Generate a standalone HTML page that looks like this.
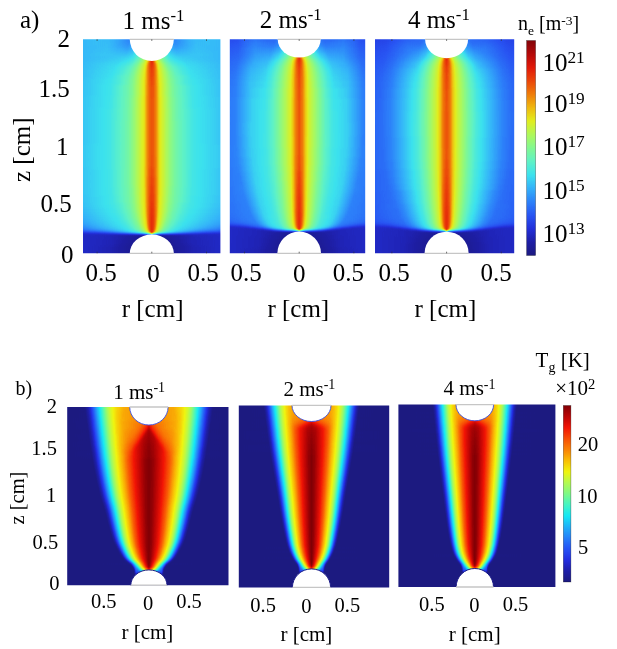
<!DOCTYPE html>
<html><head><meta charset="utf-8"><title>figure</title>
<style>html,body{margin:0;padding:0;background:#fff}svg{display:block}text{font-family:"Liberation Serif",serif;fill:#000}</style>
</head><body>
<svg width="617" height="649" viewBox="0 0 617 649">
<rect width="617" height="649" fill="#fff"/>
<defs>
<filter id="jetA" filterUnits="userSpaceOnUse" x="0" y="0" width="617" height="649" color-interpolation-filters="sRGB"><feGaussianBlur stdDeviation="0 .9"/><feComponentTransfer><feFuncR type="table" tableValues=".11 .118 .137 .157 .176 .204 .235 .373 .51 .686 .882 .941 .941 .922 .882 .706 .51"/><feFuncG type="table" tableValues=".102 .118 .188 .333 .51 .698 .886 .949 .973 .973 .933 .725 .49 .275 .098 .039 .02"/><feFuncB type="table" tableValues=".502 .647 .855 .953 .98 .98 .933 .776 .569 .353 .118 .059 .039 .039 .039 .039 .039"/></feComponentTransfer></filter>
<filter id="cbA" filterUnits="userSpaceOnUse" x="0" y="0" width="617" height="649" color-interpolation-filters="sRGB"><feComponentTransfer><feFuncR type="table" tableValues=".11 .118 .137 .157 .176 .204 .235 .373 .51 .686 .882 .941 .941 .922 .882 .706 .51"/><feFuncG type="table" tableValues=".102 .118 .188 .333 .51 .698 .886 .949 .973 .973 .933 .725 .49 .275 .098 .039 .02"/><feFuncB type="table" tableValues=".502 .647 .855 .953 .98 .98 .933 .776 .569 .353 .118 .059 .039 .039 .039 .039 .039"/></feComponentTransfer></filter>
<filter id="jetB" filterUnits="userSpaceOnUse" x="0" y="0" width="617" height="649" color-interpolation-filters="sRGB"><feGaussianBlur stdDeviation="0 .9"/><feComponentTransfer><feFuncR type="table" tableValues=".11 .118 .137 .149 .149 .125 .086 .275 .49 .706 .941 .98 .98 .973 .949 .737 .502"/><feFuncG type="table" tableValues=".102 .118 .176 .322 .502 .698 .91 .961 .98 .98 .961 .745 .51 .306 .078 .02 0"/><feFuncB type="table" tableValues=".502 .659 .882 .961 .98 .98 .961 .765 .529 .314 .059 .02 .02 .02 .02 .02 .02"/></feComponentTransfer></filter>
<filter id="cbB" filterUnits="userSpaceOnUse" x="0" y="0" width="617" height="649" color-interpolation-filters="sRGB"><feComponentTransfer><feFuncR type="table" tableValues=".11 .118 .137 .149 .149 .125 .086 .275 .49 .706 .941 .98 .98 .973 .949 .737 .502"/><feFuncG type="table" tableValues=".102 .118 .176 .322 .502 .698 .91 .961 .98 .98 .961 .745 .51 .306 .078 .02 0"/><feFuncB type="table" tableValues=".502 .659 .882 .961 .98 .98 .961 .765 .529 .314 .059 .02 .02 .02 .02 .02 .02"/></feComponentTransfer></filter>
<linearGradient id="cb" x1="0" y1="0" x2="0" y2="1"><stop offset="0" stop-color="#fff"/><stop offset="1" stop-color="#000"/></linearGradient>
<linearGradient id="B" gradientUnits="userSpaceOnUse" x1="0" x2="1"><stop offset="0" stop-color="#000000"/><stop offset=".015" stop-color="#000000"/><stop offset=".021" stop-color="#020202"/><stop offset=".048" stop-color="#141414"/><stop offset=".073" stop-color="#292929"/><stop offset=".096" stop-color="#424242"/><stop offset=".115" stop-color="#535353"/><stop offset=".175" stop-color="#858585"/><stop offset=".196" stop-color="#929292"/><stop offset=".287" stop-color="#bababa"/><stop offset=".321" stop-color="#cccccc"/><stop offset=".377" stop-color="#e1e1e1"/><stop offset=".465" stop-color="#fafafa"/><stop offset=".5" stop-color="#ffffff"/><stop offset=".535" stop-color="#fafafa"/><stop offset=".623" stop-color="#e1e1e1"/><stop offset=".679" stop-color="#cccccc"/><stop offset=".713" stop-color="#bababa"/><stop offset=".804" stop-color="#929292"/><stop offset=".825" stop-color="#858585"/><stop offset=".885" stop-color="#535353"/><stop offset=".904" stop-color="#424242"/><stop offset=".927" stop-color="#292929"/><stop offset=".952" stop-color="#141414"/><stop offset=".979" stop-color="#020202"/><stop offset=".985" stop-color="#000000"/><stop offset="1" stop-color="#000000"/></linearGradient>
<linearGradient id="g1" gradientUnits="userSpaceOnUse" x1="151.8" x2="221.6" spreadMethod="reflect"><stop offset="0" stop-color="#dbdbdb"/><stop offset=".007" stop-color="#8f8f8f"/><stop offset=".014" stop-color="#7e7e7e"/><stop offset=".036" stop-color="#6c6c6c"/><stop offset=".05" stop-color="#646464"/><stop offset=".122" stop-color="#555555"/><stop offset=".23" stop-color="#494949"/><stop offset=".338" stop-color="#424242"/><stop offset=".525" stop-color="#4f4f4f"/><stop offset=".626" stop-color="#535353"/><stop offset=".806" stop-color="#545454"/><stop offset="1" stop-color="#525252"/></linearGradient>
<linearGradient id="g2" gradientUnits="userSpaceOnUse" x1="151.8" x2="221.6" spreadMethod="reflect"><stop offset="0" stop-color="#dbdbdb"/><stop offset=".007" stop-color="#cacaca"/><stop offset=".014" stop-color="#adadad"/><stop offset=".022" stop-color="#969696"/><stop offset=".029" stop-color="#868686"/><stop offset=".043" stop-color="#717171"/><stop offset=".058" stop-color="#676767"/><stop offset=".072" stop-color="#626262"/><stop offset=".137" stop-color="#545454"/><stop offset=".23" stop-color="#494949"/><stop offset=".338" stop-color="#424242"/><stop offset=".525" stop-color="#4f4f4f"/><stop offset=".626" stop-color="#535353"/><stop offset=".806" stop-color="#545454"/><stop offset="1" stop-color="#525252"/></linearGradient>
<linearGradient id="g3" gradientUnits="userSpaceOnUse" x1="151.8" x2="221.6" spreadMethod="reflect"><stop offset="0" stop-color="#dbdbdb"/><stop offset=".007" stop-color="#d3d3d3"/><stop offset=".036" stop-color="#8e8e8e"/><stop offset=".043" stop-color="#818181"/><stop offset=".058" stop-color="#727272"/><stop offset=".079" stop-color="#666666"/><stop offset=".101" stop-color="#5e5e5e"/><stop offset=".18" stop-color="#505050"/><stop offset=".252" stop-color="#484848"/><stop offset=".338" stop-color="#434343"/><stop offset=".525" stop-color="#4f4f4f"/><stop offset=".626" stop-color="#535353"/><stop offset=".806" stop-color="#545454"/><stop offset="1" stop-color="#525252"/></linearGradient>
<linearGradient id="g4" gradientUnits="userSpaceOnUse" x1="151.8" x2="221.6" spreadMethod="reflect"><stop offset="0" stop-color="#dbdbdb"/><stop offset=".007" stop-color="#d5d5d5"/><stop offset=".014" stop-color="#c9c9c9"/><stop offset=".043" stop-color="#8e8e8e"/><stop offset=".05" stop-color="#848484"/><stop offset=".065" stop-color="#777777"/><stop offset=".086" stop-color="#6a6a6a"/><stop offset=".115" stop-color="#5f5f5f"/><stop offset=".201" stop-color="#4e4e4e"/><stop offset=".338" stop-color="#434343"/><stop offset=".626" stop-color="#535353"/><stop offset=".806" stop-color="#545454"/><stop offset="1" stop-color="#525252"/></linearGradient>
<linearGradient id="g5" gradientUnits="userSpaceOnUse" x1="151.8" x2="221.6" spreadMethod="reflect"><stop offset="0" stop-color="#dbdbdb"/><stop offset=".007" stop-color="#d6d6d6"/><stop offset=".014" stop-color="#cccccc"/><stop offset=".043" stop-color="#989898"/><stop offset=".05" stop-color="#8e8e8e"/><stop offset=".065" stop-color="#808080"/><stop offset=".079" stop-color="#767676"/><stop offset=".101" stop-color="#6a6a6a"/><stop offset=".129" stop-color="#5f5f5f"/><stop offset=".216" stop-color="#4e4e4e"/><stop offset=".295" stop-color="#464646"/><stop offset=".345" stop-color="#444444"/><stop offset=".525" stop-color="#505050"/><stop offset=".626" stop-color="#535353"/><stop offset=".806" stop-color="#545454"/><stop offset="1" stop-color="#525252"/></linearGradient>
<linearGradient id="g6" gradientUnits="userSpaceOnUse" x1="151.8" x2="221.6" spreadMethod="reflect"><stop offset="0" stop-color="#dbdbdb"/><stop offset=".007" stop-color="#d6d6d6"/><stop offset=".014" stop-color="#cdcdcd"/><stop offset=".043" stop-color="#9f9f9f"/><stop offset=".05" stop-color="#959595"/><stop offset=".065" stop-color="#878787"/><stop offset=".086" stop-color="#787878"/><stop offset=".115" stop-color="#696969"/><stop offset=".144" stop-color="#5f5f5f"/><stop offset=".23" stop-color="#4e4e4e"/><stop offset=".345" stop-color="#454545"/><stop offset=".626" stop-color="#545454"/><stop offset=".813" stop-color="#545454"/><stop offset="1" stop-color="#525252"/></linearGradient>
<linearGradient id="g7" gradientUnits="userSpaceOnUse" x1="151.8" x2="221.6" spreadMethod="reflect"><stop offset="0" stop-color="#dbdbdb"/><stop offset=".014" stop-color="#cecece"/><stop offset=".05" stop-color="#9a9a9a"/><stop offset=".072" stop-color="#878787"/><stop offset=".094" stop-color="#797979"/><stop offset=".122" stop-color="#6b6b6b"/><stop offset=".151" stop-color="#616161"/><stop offset=".237" stop-color="#4f4f4f"/><stop offset=".302" stop-color="#484848"/><stop offset=".345" stop-color="#464646"/><stop offset=".633" stop-color="#545454"/><stop offset="1" stop-color="#525252"/></linearGradient>
<linearGradient id="g8" gradientUnits="userSpaceOnUse" x1="151.8" x2="221.6" spreadMethod="reflect"><stop offset="0" stop-color="#dbdbdb"/><stop offset=".007" stop-color="#d7d7d7"/><stop offset=".022" stop-color="#c6c6c6"/><stop offset=".043" stop-color="#a6a6a6"/><stop offset=".05" stop-color="#9e9e9e"/><stop offset=".072" stop-color="#8c8c8c"/><stop offset=".101" stop-color="#7a7a7a"/><stop offset=".129" stop-color="#6c6c6c"/><stop offset=".165" stop-color="#606060"/><stop offset=".252" stop-color="#4f4f4f"/><stop offset=".345" stop-color="#474747"/><stop offset=".633" stop-color="#545454"/><stop offset="1" stop-color="#525252"/></linearGradient>
<linearGradient id="g9" gradientUnits="userSpaceOnUse" x1="151.8" x2="221.6" spreadMethod="reflect"><stop offset="0" stop-color="#dbdbdb"/><stop offset=".007" stop-color="#d7d7d7"/><stop offset=".022" stop-color="#c7c7c7"/><stop offset=".05" stop-color="#a0a0a0"/><stop offset=".072" stop-color="#909090"/><stop offset=".101" stop-color="#7e7e7e"/><stop offset=".129" stop-color="#707070"/><stop offset=".173" stop-color="#616161"/><stop offset=".259" stop-color="#505050"/><stop offset=".345" stop-color="#494949"/><stop offset=".633" stop-color="#545454"/><stop offset="1" stop-color="#525252"/></linearGradient>
<linearGradient id="g10" gradientUnits="userSpaceOnUse" x1="151.8" x2="221.6" spreadMethod="reflect"><stop offset="0" stop-color="#dbdbdb"/><stop offset=".007" stop-color="#d7d7d7"/><stop offset=".022" stop-color="#c7c7c7"/><stop offset=".05" stop-color="#a2a2a2"/><stop offset=".072" stop-color="#939393"/><stop offset=".108" stop-color="#7e7e7e"/><stop offset=".144" stop-color="#6e6e6e"/><stop offset=".187" stop-color="#606060"/><stop offset=".273" stop-color="#4f4f4f"/><stop offset=".345" stop-color="#4a4a4a"/><stop offset=".64" stop-color="#555555"/><stop offset="1" stop-color="#525252"/></linearGradient>
<linearGradient id="g11" gradientUnits="userSpaceOnUse" x1="151.8" x2="221.6" spreadMethod="reflect"><stop offset="0" stop-color="#dbdbdb"/><stop offset=".007" stop-color="#d7d7d7"/><stop offset=".022" stop-color="#c8c8c8"/><stop offset=".043" stop-color="#ababab"/><stop offset=".05" stop-color="#a4a4a4"/><stop offset=".108" stop-color="#818181"/><stop offset=".144" stop-color="#717171"/><stop offset=".187" stop-color="#636363"/><stop offset=".23" stop-color="#585858"/><stop offset=".281" stop-color="#505050"/><stop offset=".353" stop-color="#4c4c4c"/><stop offset=".64" stop-color="#555555"/><stop offset="1" stop-color="#525252"/></linearGradient>
<linearGradient id="g12" gradientUnits="userSpaceOnUse" x1="151.8" x2="221.6" spreadMethod="reflect"><stop offset="0" stop-color="#dbdbdb"/><stop offset=".007" stop-color="#d7d7d7"/><stop offset=".022" stop-color="#c8c8c8"/><stop offset=".043" stop-color="#acacac"/><stop offset=".05" stop-color="#a5a5a5"/><stop offset=".108" stop-color="#838383"/><stop offset=".144" stop-color="#747474"/><stop offset=".194" stop-color="#636363"/><stop offset=".281" stop-color="#525252"/><stop offset=".353" stop-color="#4e4e4e"/><stop offset=".647" stop-color="#555555"/><stop offset="1" stop-color="#525252"/></linearGradient>
<linearGradient id="g13" gradientUnits="userSpaceOnUse" x1="151.8" x2="221.6" spreadMethod="reflect"><stop offset="0" stop-color="#dbdbdb"/><stop offset=".007" stop-color="#d7d7d7"/><stop offset=".022" stop-color="#c8c8c8"/><stop offset=".043" stop-color="#adadad"/><stop offset=".05" stop-color="#a6a6a6"/><stop offset=".101" stop-color="#898989"/><stop offset=".137" stop-color="#797979"/><stop offset=".187" stop-color="#686868"/><stop offset=".273" stop-color="#555555"/><stop offset=".353" stop-color="#505050"/><stop offset=".655" stop-color="#555555"/><stop offset="1" stop-color="#525252"/></linearGradient>
<linearGradient id="g14" gradientUnits="userSpaceOnUse" x1="151.8" x2="221.6" spreadMethod="reflect"><stop offset="0" stop-color="#dbdbdb"/><stop offset=".007" stop-color="#d7d7d7"/><stop offset=".022" stop-color="#c9c9c9"/><stop offset=".043" stop-color="#adadad"/><stop offset=".05" stop-color="#a7a7a7"/><stop offset=".101" stop-color="#8b8b8b"/><stop offset=".187" stop-color="#6a6a6a"/><stop offset=".273" stop-color="#575757"/><stop offset=".353" stop-color="#515151"/><stop offset=".662" stop-color="#565656"/><stop offset="1" stop-color="#525252"/></linearGradient>
<linearGradient id="g15" gradientUnits="userSpaceOnUse" x1="151.8" x2="221.6" spreadMethod="reflect"><stop offset="0" stop-color="#dbdbdb"/><stop offset=".007" stop-color="#d7d7d7"/><stop offset=".022" stop-color="#c9c9c9"/><stop offset=".043" stop-color="#aeaeae"/><stop offset=".05" stop-color="#a7a7a7"/><stop offset=".094" stop-color="#909090"/><stop offset=".137" stop-color="#7d7d7d"/><stop offset=".187" stop-color="#6c6c6c"/><stop offset=".23" stop-color="#606060"/><stop offset=".273" stop-color="#595959"/><stop offset=".36" stop-color="#535353"/><stop offset=".676" stop-color="#565656"/><stop offset="1" stop-color="#525252"/></linearGradient>
<linearGradient id="g16" gradientUnits="userSpaceOnUse" x1="151.8" x2="221.6" spreadMethod="reflect"><stop offset="0" stop-color="#dbdbdb"/><stop offset=".014" stop-color="#d0d0d0"/><stop offset=".05" stop-color="#a8a8a8"/><stop offset=".094" stop-color="#919191"/><stop offset=".187" stop-color="#6e6e6e"/><stop offset=".23" stop-color="#626262"/><stop offset=".273" stop-color="#5a5a5a"/><stop offset=".367" stop-color="#555555"/><stop offset=".705" stop-color="#565656"/><stop offset="1" stop-color="#525252"/></linearGradient>
<linearGradient id="g17" gradientUnits="userSpaceOnUse" x1="151.8" x2="221.6" spreadMethod="reflect"><stop offset="0" stop-color="#dbdbdb"/><stop offset=".014" stop-color="#d0d0d0"/><stop offset=".05" stop-color="#a8a8a8"/><stop offset=".094" stop-color="#929292"/><stop offset=".137" stop-color="#808080"/><stop offset=".194" stop-color="#6d6d6d"/><stop offset=".273" stop-color="#5d5d5d"/><stop offset=".381" stop-color="#565656"/><stop offset=".755" stop-color="#565656"/><stop offset="1" stop-color="#525252"/></linearGradient>
<linearGradient id="g18" gradientUnits="userSpaceOnUse" x1="151.8" x2="221.6" spreadMethod="reflect"><stop offset="0" stop-color="#dbdbdb"/><stop offset=".014" stop-color="#d0d0d0"/><stop offset=".05" stop-color="#a8a8a8"/><stop offset=".086" stop-color="#969696"/><stop offset=".129" stop-color="#848484"/><stop offset=".187" stop-color="#717171"/><stop offset=".266" stop-color="#5f5f5f"/><stop offset=".317" stop-color="#5a5a5a"/><stop offset=".388" stop-color="#585858"/><stop offset="1" stop-color="#525252"/></linearGradient>
<linearGradient id="g19" gradientUnits="userSpaceOnUse" x1="151.8" x2="221.6" spreadMethod="reflect"><stop offset="0" stop-color="#dbdbdb"/><stop offset=".022" stop-color="#c9c9c9"/><stop offset=".043" stop-color="#afafaf"/><stop offset=".072" stop-color="#9d9d9d"/><stop offset=".122" stop-color="#888888"/><stop offset=".18" stop-color="#757575"/><stop offset=".223" stop-color="#696969"/><stop offset=".266" stop-color="#616161"/><stop offset=".324" stop-color="#5c5c5c"/><stop offset=".41" stop-color="#595959"/><stop offset="1" stop-color="#525252"/></linearGradient>
<linearGradient id="g20" gradientUnits="userSpaceOnUse" x1="151.8" x2="221.6" spreadMethod="reflect"><stop offset="0" stop-color="#dbdbdb"/><stop offset=".022" stop-color="#c9c9c9"/><stop offset=".043" stop-color="#afafaf"/><stop offset=".072" stop-color="#9e9e9e"/><stop offset=".122" stop-color="#898989"/><stop offset=".18" stop-color="#767676"/><stop offset=".223" stop-color="#6b6b6b"/><stop offset=".266" stop-color="#636363"/><stop offset=".331" stop-color="#5d5d5d"/><stop offset=".432" stop-color="#595959"/><stop offset="1" stop-color="#525252"/></linearGradient>
<linearGradient id="g21" gradientUnits="userSpaceOnUse" x1="151.8" x2="221.6" spreadMethod="reflect"><stop offset="0" stop-color="#dbdbdb"/><stop offset=".022" stop-color="#c9c9c9"/><stop offset=".043" stop-color="#afafaf"/><stop offset=".072" stop-color="#9e9e9e"/><stop offset=".122" stop-color="#8a8a8a"/><stop offset=".18" stop-color="#787878"/><stop offset=".266" stop-color="#666666"/><stop offset=".338" stop-color="#5f5f5f"/><stop offset=".46" stop-color="#5a5a5a"/><stop offset="1" stop-color="#525252"/></linearGradient>
<linearGradient id="g22" gradientUnits="userSpaceOnUse" x1="151.8" x2="221.6" spreadMethod="reflect"><stop offset="0" stop-color="#dbdbdb"/><stop offset=".022" stop-color="#cecece"/><stop offset=".036" stop-color="#c1c1c1"/><stop offset=".058" stop-color="#a9a9a9"/><stop offset=".079" stop-color="#9e9e9e"/><stop offset=".129" stop-color="#8b8b8b"/><stop offset=".187" stop-color="#7a7a7a"/><stop offset=".273" stop-color="#686868"/><stop offset=".353" stop-color="#616161"/><stop offset=".482" stop-color="#5b5b5b"/><stop offset="1" stop-color="#525252"/></linearGradient>
<linearGradient id="g23" gradientUnits="userSpaceOnUse" x1="151.8" x2="221.6" spreadMethod="reflect"><stop offset="0" stop-color="#dadada"/><stop offset=".014" stop-color="#d5d5d5"/><stop offset=".029" stop-color="#cccccc"/><stop offset=".043" stop-color="#c1c1c1"/><stop offset=".065" stop-color="#aaaaaa"/><stop offset=".086" stop-color="#9e9e9e"/><stop offset=".194" stop-color="#7b7b7b"/><stop offset=".281" stop-color="#6a6a6a"/><stop offset=".367" stop-color="#626262"/><stop offset=".496" stop-color="#5c5c5c"/><stop offset="1" stop-color="#535353"/></linearGradient>
<linearGradient id="g24" gradientUnits="userSpaceOnUse" x1="151.8" x2="221.6" spreadMethod="reflect"><stop offset="0" stop-color="#d8d8d8"/><stop offset=".014" stop-color="#d5d5d5"/><stop offset=".029" stop-color="#cdcdcd"/><stop offset=".05" stop-color="#bebebe"/><stop offset=".072" stop-color="#a8a8a8"/><stop offset=".094" stop-color="#9d9d9d"/><stop offset=".209" stop-color="#7a7a7a"/><stop offset=".288" stop-color="#6b6b6b"/><stop offset=".374" stop-color="#636363"/><stop offset=".511" stop-color="#5c5c5c"/><stop offset="1" stop-color="#535353"/></linearGradient>
<linearGradient id="g25" gradientUnits="userSpaceOnUse" x1="151.8" x2="221.6" spreadMethod="reflect"><stop offset="0" stop-color="#d7d7d7"/><stop offset=".014" stop-color="#d4d4d4"/><stop offset=".036" stop-color="#c9c9c9"/><stop offset=".058" stop-color="#bababa"/><stop offset=".079" stop-color="#a6a6a6"/><stop offset=".094" stop-color="#9e9e9e"/><stop offset=".209" stop-color="#7d7d7d"/><stop offset=".288" stop-color="#6d6d6d"/><stop offset=".381" stop-color="#646464"/><stop offset=".518" stop-color="#5d5d5d"/><stop offset="1" stop-color="#535353"/></linearGradient>
<linearGradient id="g26" gradientUnits="userSpaceOnUse" x1="151.8" x2="221.6" spreadMethod="reflect"><stop offset="0" stop-color="#d7d7d7"/><stop offset=".022" stop-color="#d1d1d1"/><stop offset=".036" stop-color="#cacaca"/><stop offset=".058" stop-color="#bbbbbb"/><stop offset=".079" stop-color="#a8a8a8"/><stop offset=".094" stop-color="#a0a0a0"/><stop offset=".216" stop-color="#7d7d7d"/><stop offset=".295" stop-color="#6e6e6e"/><stop offset=".388" stop-color="#656565"/><stop offset=".525" stop-color="#5d5d5d"/><stop offset="1" stop-color="#535353"/></linearGradient>
<linearGradient id="g27" gradientUnits="userSpaceOnUse" x1="151.8" x2="221.6" spreadMethod="reflect"><stop offset="0" stop-color="#d5d5d5"/><stop offset=".022" stop-color="#d0d0d0"/><stop offset=".036" stop-color="#cacaca"/><stop offset=".058" stop-color="#bdbdbd"/><stop offset=".086" stop-color="#a5a5a5"/><stop offset=".101" stop-color="#9e9e9e"/><stop offset=".23" stop-color="#7c7c7c"/><stop offset=".302" stop-color="#707070"/><stop offset=".403" stop-color="#666666"/><stop offset=".532" stop-color="#5e5e5e"/><stop offset="1" stop-color="#535353"/></linearGradient>
<linearGradient id="g28" gradientUnits="userSpaceOnUse" x1="151.8" x2="221.6" spreadMethod="reflect"><stop offset="0" stop-color="#d4d4d4"/><stop offset=".022" stop-color="#cfcfcf"/><stop offset=".036" stop-color="#c9c9c9"/><stop offset=".065" stop-color="#b9b9b9"/><stop offset=".086" stop-color="#a7a7a7"/><stop offset=".101" stop-color="#a0a0a0"/><stop offset=".237" stop-color="#7e7e7e"/><stop offset=".309" stop-color="#717171"/><stop offset=".424" stop-color="#666666"/><stop offset=".547" stop-color="#5e5e5e"/><stop offset="1" stop-color="#535353"/></linearGradient>
<linearGradient id="g29" gradientUnits="userSpaceOnUse" x1="151.8" x2="221.6" spreadMethod="reflect"><stop offset="0" stop-color="#d3d3d3"/><stop offset=".036" stop-color="#c9c9c9"/><stop offset=".065" stop-color="#bababa"/><stop offset=".094" stop-color="#a4a4a4"/><stop offset=".108" stop-color="#9f9f9f"/><stop offset=".252" stop-color="#7d7d7d"/><stop offset=".324" stop-color="#717171"/><stop offset=".439" stop-color="#666666"/><stop offset=".554" stop-color="#5f5f5f"/><stop offset="1" stop-color="#545454"/></linearGradient>
<linearGradient id="g30" gradientUnits="userSpaceOnUse" x1="151.8" x2="221.6" spreadMethod="reflect"><stop offset="0" stop-color="#d1d1d1"/><stop offset=".022" stop-color="#cecece"/><stop offset=".043" stop-color="#c5c5c5"/><stop offset=".065" stop-color="#bababa"/><stop offset=".094" stop-color="#a6a6a6"/><stop offset=".108" stop-color="#a0a0a0"/><stop offset=".259" stop-color="#7e7e7e"/><stop offset=".331" stop-color="#727272"/><stop offset=".453" stop-color="#666666"/><stop offset=".561" stop-color="#5f5f5f"/><stop offset="1" stop-color="#545454"/></linearGradient>
<linearGradient id="g31" gradientUnits="userSpaceOnUse" x1="151.8" x2="221.6" spreadMethod="reflect"><stop offset="0" stop-color="#d0d0d0"/><stop offset=".022" stop-color="#cdcdcd"/><stop offset=".043" stop-color="#c5c5c5"/><stop offset=".065" stop-color="#bbbbbb"/><stop offset=".094" stop-color="#a7a7a7"/><stop offset=".108" stop-color="#a1a1a1"/><stop offset=".266" stop-color="#7f7f7f"/><stop offset=".338" stop-color="#747474"/><stop offset=".568" stop-color="#606060"/><stop offset="1" stop-color="#545454"/></linearGradient>
<linearGradient id="g32" gradientUnits="userSpaceOnUse" x1="151.8" x2="221.6" spreadMethod="reflect"><stop offset="0" stop-color="#cfcfcf"/><stop offset=".029" stop-color="#cacaca"/><stop offset=".05" stop-color="#c2c2c2"/><stop offset=".108" stop-color="#a2a2a2"/><stop offset=".266" stop-color="#818181"/><stop offset=".345" stop-color="#757575"/><stop offset=".475" stop-color="#686868"/><stop offset=".583" stop-color="#616161"/><stop offset="1" stop-color="#555555"/></linearGradient>
<linearGradient id="g33" gradientUnits="userSpaceOnUse" x1="151.8" x2="221.6" spreadMethod="reflect"><stop offset="0" stop-color="#cdcdcd"/><stop offset=".029" stop-color="#c9c9c9"/><stop offset=".05" stop-color="#c1c1c1"/><stop offset=".072" stop-color="#b8b8b8"/><stop offset=".101" stop-color="#a6a6a6"/><stop offset=".115" stop-color="#a1a1a1"/><stop offset=".273" stop-color="#818181"/><stop offset=".345" stop-color="#777777"/><stop offset=".583" stop-color="#626262"/><stop offset="1" stop-color="#555555"/></linearGradient>
<linearGradient id="g34" gradientUnits="userSpaceOnUse" x1="151.8" x2="221.6" spreadMethod="reflect"><stop offset="0" stop-color="#cccccc"/><stop offset=".029" stop-color="#c8c8c8"/><stop offset=".05" stop-color="#c1c1c1"/><stop offset=".072" stop-color="#b9b9b9"/><stop offset=".101" stop-color="#a7a7a7"/><stop offset=".115" stop-color="#a2a2a2"/><stop offset=".281" stop-color="#818181"/><stop offset=".353" stop-color="#777777"/><stop offset=".59" stop-color="#626262"/><stop offset="1" stop-color="#565656"/></linearGradient>
<linearGradient id="g35" gradientUnits="userSpaceOnUse" x1="151.8" x2="221.6" spreadMethod="reflect"><stop offset="0" stop-color="#cccccc"/><stop offset=".029" stop-color="#c8c8c8"/><stop offset=".05" stop-color="#c1c1c1"/><stop offset=".072" stop-color="#b9b9b9"/><stop offset=".101" stop-color="#a7a7a7"/><stop offset=".115" stop-color="#a2a2a2"/><stop offset=".281" stop-color="#828282"/><stop offset=".353" stop-color="#777777"/><stop offset=".597" stop-color="#636363"/><stop offset="1" stop-color="#565656"/></linearGradient>
<linearGradient id="g36" gradientUnits="userSpaceOnUse" x1="151.8" x2="221.6" spreadMethod="reflect"><stop offset="0" stop-color="#cccccc"/><stop offset=".029" stop-color="#c8c8c8"/><stop offset=".05" stop-color="#c1c1c1"/><stop offset=".072" stop-color="#b9b9b9"/><stop offset=".101" stop-color="#a7a7a7"/><stop offset=".115" stop-color="#a2a2a2"/><stop offset=".281" stop-color="#828282"/><stop offset=".353" stop-color="#787878"/><stop offset=".597" stop-color="#636363"/><stop offset="1" stop-color="#565656"/></linearGradient>
<linearGradient id="g37" gradientUnits="userSpaceOnUse" x1="151.8" x2="221.6" spreadMethod="reflect"><stop offset="0" stop-color="#cccccc"/><stop offset=".029" stop-color="#c8c8c8"/><stop offset=".05" stop-color="#c1c1c1"/><stop offset=".072" stop-color="#b9b9b9"/><stop offset=".101" stop-color="#a8a8a8"/><stop offset=".115" stop-color="#a2a2a2"/><stop offset=".281" stop-color="#828282"/><stop offset=".353" stop-color="#787878"/><stop offset=".597" stop-color="#636363"/><stop offset="1" stop-color="#565656"/></linearGradient>
<linearGradient id="g38" gradientUnits="userSpaceOnUse" x1="151.8" x2="221.6" spreadMethod="reflect"><stop offset="0" stop-color="#cccccc"/><stop offset=".029" stop-color="#c8c8c8"/><stop offset=".05" stop-color="#c1c1c1"/><stop offset=".072" stop-color="#b9b9b9"/><stop offset=".101" stop-color="#a8a8a8"/><stop offset=".115" stop-color="#a2a2a2"/><stop offset=".281" stop-color="#828282"/><stop offset=".353" stop-color="#787878"/><stop offset=".597" stop-color="#636363"/><stop offset="1" stop-color="#575757"/></linearGradient>
<linearGradient id="g39" gradientUnits="userSpaceOnUse" x1="151.8" x2="221.6" spreadMethod="reflect"><stop offset="0" stop-color="#cdcdcd"/><stop offset=".029" stop-color="#c8c8c8"/><stop offset=".05" stop-color="#c2c2c2"/><stop offset=".072" stop-color="#b9b9b9"/><stop offset=".101" stop-color="#a8a8a8"/><stop offset=".115" stop-color="#a2a2a2"/><stop offset=".281" stop-color="#828282"/><stop offset=".353" stop-color="#787878"/><stop offset=".597" stop-color="#636363"/><stop offset="1" stop-color="#575757"/></linearGradient>
<linearGradient id="g40" gradientUnits="userSpaceOnUse" x1="151.8" x2="221.6" spreadMethod="reflect"><stop offset="0" stop-color="#cfcfcf"/><stop offset=".029" stop-color="#cacaca"/><stop offset=".05" stop-color="#c3c3c3"/><stop offset=".115" stop-color="#a2a2a2"/><stop offset=".281" stop-color="#828282"/><stop offset=".345" stop-color="#797979"/><stop offset=".59" stop-color="#636363"/><stop offset="1" stop-color="#565656"/></linearGradient>
<linearGradient id="g41" gradientUnits="userSpaceOnUse" x1="151.8" x2="221.6" spreadMethod="reflect"><stop offset="0" stop-color="#d1d1d1"/><stop offset=".029" stop-color="#cccccc"/><stop offset=".05" stop-color="#c4c4c4"/><stop offset=".072" stop-color="#bababa"/><stop offset=".101" stop-color="#a8a8a8"/><stop offset=".115" stop-color="#a2a2a2"/><stop offset=".281" stop-color="#828282"/><stop offset=".345" stop-color="#797979"/><stop offset=".59" stop-color="#636363"/><stop offset="1" stop-color="#565656"/></linearGradient>
<linearGradient id="g42" gradientUnits="userSpaceOnUse" x1="151.8" x2="221.6" spreadMethod="reflect"><stop offset="0" stop-color="#d3d3d3"/><stop offset=".022" stop-color="#cfcfcf"/><stop offset=".043" stop-color="#c8c8c8"/><stop offset=".072" stop-color="#bababa"/><stop offset=".101" stop-color="#a7a7a7"/><stop offset=".115" stop-color="#a2a2a2"/><stop offset=".273" stop-color="#828282"/><stop offset=".338" stop-color="#797979"/><stop offset=".583" stop-color="#636363"/><stop offset="1" stop-color="#565656"/></linearGradient>
<linearGradient id="g43" gradientUnits="userSpaceOnUse" x1="151.8" x2="221.6" spreadMethod="reflect"><stop offset="0" stop-color="#d4d4d4"/><stop offset=".022" stop-color="#d1d1d1"/><stop offset=".043" stop-color="#c9c9c9"/><stop offset=".072" stop-color="#bababa"/><stop offset=".094" stop-color="#aaaaaa"/><stop offset=".108" stop-color="#a3a3a3"/><stop offset=".266" stop-color="#828282"/><stop offset=".331" stop-color="#797979"/><stop offset=".568" stop-color="#636363"/><stop offset="1" stop-color="#555555"/></linearGradient>
<linearGradient id="g44" gradientUnits="userSpaceOnUse" x1="151.8" x2="221.6" spreadMethod="reflect"><stop offset="0" stop-color="#d6d6d6"/><stop offset=".022" stop-color="#d2d2d2"/><stop offset=".043" stop-color="#c9c9c9"/><stop offset=".072" stop-color="#b9b9b9"/><stop offset=".094" stop-color="#a9a9a9"/><stop offset=".108" stop-color="#a2a2a2"/><stop offset=".252" stop-color="#838383"/><stop offset=".317" stop-color="#797979"/><stop offset=".446" stop-color="#6b6b6b"/><stop offset=".554" stop-color="#636363"/><stop offset="1" stop-color="#545454"/></linearGradient>
<linearGradient id="g45" gradientUnits="userSpaceOnUse" x1="151.8" x2="221.6" spreadMethod="reflect"><stop offset="0" stop-color="#d7d7d7"/><stop offset=".022" stop-color="#d3d3d3"/><stop offset=".043" stop-color="#cacaca"/><stop offset=".065" stop-color="#bebebe"/><stop offset=".094" stop-color="#a7a7a7"/><stop offset=".108" stop-color="#a1a1a1"/><stop offset=".245" stop-color="#838383"/><stop offset=".309" stop-color="#787878"/><stop offset=".439" stop-color="#6a6a6a"/><stop offset=".54" stop-color="#626262"/><stop offset="1" stop-color="#525252"/></linearGradient>
<linearGradient id="g46" gradientUnits="userSpaceOnUse" x1="151.8" x2="221.6" spreadMethod="reflect"><stop offset="0" stop-color="#d7d7d7"/><stop offset=".022" stop-color="#d3d3d3"/><stop offset=".043" stop-color="#cacaca"/><stop offset=".065" stop-color="#bdbdbd"/><stop offset=".086" stop-color="#ababab"/><stop offset=".101" stop-color="#a3a3a3"/><stop offset=".237" stop-color="#828282"/><stop offset=".302" stop-color="#777777"/><stop offset=".432" stop-color="#696969"/><stop offset=".525" stop-color="#626262"/><stop offset="1" stop-color="#515151"/></linearGradient>
<linearGradient id="g47" gradientUnits="userSpaceOnUse" x1="151.8" x2="221.6" spreadMethod="reflect"><stop offset="0" stop-color="#d8d8d8"/><stop offset=".022" stop-color="#d4d4d4"/><stop offset=".043" stop-color="#cacaca"/><stop offset=".065" stop-color="#bcbcbc"/><stop offset=".086" stop-color="#a9a9a9"/><stop offset=".101" stop-color="#a2a2a2"/><stop offset=".223" stop-color="#838383"/><stop offset=".295" stop-color="#777777"/><stop offset=".417" stop-color="#686868"/><stop offset=".511" stop-color="#616161"/><stop offset="1" stop-color="#4f4f4f"/></linearGradient>
<linearGradient id="g48" gradientUnits="userSpaceOnUse" x1="151.8" x2="221.6" spreadMethod="reflect"><stop offset="0" stop-color="#d9d9d9"/><stop offset=".022" stop-color="#d4d4d4"/><stop offset=".036" stop-color="#cecece"/><stop offset=".058" stop-color="#c0c0c0"/><stop offset=".086" stop-color="#a7a7a7"/><stop offset=".101" stop-color="#a1a1a1"/><stop offset=".216" stop-color="#828282"/><stop offset=".288" stop-color="#767676"/><stop offset=".403" stop-color="#686868"/><stop offset=".489" stop-color="#616161"/><stop offset="1" stop-color="#4e4e4e"/></linearGradient>
<linearGradient id="g49" gradientUnits="userSpaceOnUse" x1="151.8" x2="221.6" spreadMethod="reflect"><stop offset="0" stop-color="#d9d9d9"/><stop offset=".022" stop-color="#d4d4d4"/><stop offset=".036" stop-color="#cecece"/><stop offset=".058" stop-color="#c0c0c0"/><stop offset=".079" stop-color="#aaaaaa"/><stop offset=".094" stop-color="#a2a2a2"/><stop offset=".209" stop-color="#828282"/><stop offset=".281" stop-color="#757575"/><stop offset=".388" stop-color="#686868"/><stop offset=".475" stop-color="#616161"/><stop offset="1" stop-color="#4c4c4c"/></linearGradient>
<linearGradient id="g50" gradientUnits="userSpaceOnUse" x1="151.8" x2="221.6" spreadMethod="reflect"><stop offset="0" stop-color="#d9d9d9"/><stop offset=".022" stop-color="#d4d4d4"/><stop offset=".036" stop-color="#cdcdcd"/><stop offset=".058" stop-color="#bebebe"/><stop offset=".079" stop-color="#a8a8a8"/><stop offset=".094" stop-color="#a1a1a1"/><stop offset=".201" stop-color="#818181"/><stop offset=".281" stop-color="#737373"/><stop offset=".381" stop-color="#666666"/><stop offset=".46" stop-color="#606060"/><stop offset="1" stop-color="#4a4a4a"/></linearGradient>
<linearGradient id="g51" gradientUnits="userSpaceOnUse" x1="151.8" x2="221.6" spreadMethod="reflect"><stop offset="0" stop-color="#d9d9d9"/><stop offset=".022" stop-color="#d4d4d4"/><stop offset=".036" stop-color="#cccccc"/><stop offset=".058" stop-color="#bcbcbc"/><stop offset=".079" stop-color="#a6a6a6"/><stop offset=".086" stop-color="#a3a3a3"/><stop offset=".194" stop-color="#818181"/><stop offset=".273" stop-color="#727272"/><stop offset=".367" stop-color="#666666"/><stop offset=".446" stop-color="#606060"/><stop offset="1" stop-color="#484848"/></linearGradient>
<linearGradient id="g52" gradientUnits="userSpaceOnUse" x1="151.8" x2="221.6" spreadMethod="reflect"><stop offset="0" stop-color="#d9d9d9"/><stop offset=".022" stop-color="#d4d4d4"/><stop offset=".036" stop-color="#cccccc"/><stop offset=".05" stop-color="#c2c2c2"/><stop offset=".072" stop-color="#aaaaaa"/><stop offset=".086" stop-color="#a2a2a2"/><stop offset=".187" stop-color="#818181"/><stop offset=".266" stop-color="#727272"/><stop offset=".36" stop-color="#666666"/><stop offset=".439" stop-color="#606060"/><stop offset="1" stop-color="#464646"/></linearGradient>
<linearGradient id="g53" gradientUnits="userSpaceOnUse" x1="151.8" x2="221.6" spreadMethod="reflect"><stop offset="0" stop-color="#d9d9d9"/><stop offset=".022" stop-color="#d3d3d3"/><stop offset=".036" stop-color="#cbcbcb"/><stop offset=".05" stop-color="#c0c0c0"/><stop offset=".072" stop-color="#a9a9a9"/><stop offset=".086" stop-color="#a1a1a1"/><stop offset=".18" stop-color="#818181"/><stop offset=".266" stop-color="#707070"/><stop offset=".345" stop-color="#666666"/><stop offset=".424" stop-color="#5f5f5f"/><stop offset="1" stop-color="#444444"/></linearGradient>
<linearGradient id="g54" gradientUnits="userSpaceOnUse" x1="151.8" x2="221.6" spreadMethod="reflect"><stop offset="0" stop-color="#d9d9d9"/><stop offset=".014" stop-color="#d6d6d6"/><stop offset=".029" stop-color="#cfcfcf"/><stop offset=".05" stop-color="#bfbfbf"/><stop offset=".072" stop-color="#a7a7a7"/><stop offset=".115" stop-color="#949494"/><stop offset=".187" stop-color="#7d7d7d"/><stop offset=".273" stop-color="#6e6e6e"/><stop offset=".345" stop-color="#646464"/><stop offset=".417" stop-color="#5f5f5f"/><stop offset="1" stop-color="#424242"/></linearGradient>
<linearGradient id="g55" gradientUnits="userSpaceOnUse" x1="151.8" x2="221.6" spreadMethod="reflect"><stop offset="0" stop-color="#d9d9d9"/><stop offset=".022" stop-color="#d2d2d2"/><stop offset=".036" stop-color="#c9c9c9"/><stop offset=".05" stop-color="#bcbcbc"/><stop offset=".065" stop-color="#aaaaaa"/><stop offset=".072" stop-color="#a5a5a5"/><stop offset=".115" stop-color="#929292"/><stop offset=".18" stop-color="#7c7c7c"/><stop offset=".273" stop-color="#6c6c6c"/><stop offset=".331" stop-color="#646464"/><stop offset=".41" stop-color="#5e5e5e"/><stop offset="1" stop-color="#3f3f3f"/></linearGradient>
<linearGradient id="g56" gradientUnits="userSpaceOnUse" x1="151.8" x2="221.6" spreadMethod="reflect"><stop offset="0" stop-color="#d9d9d9"/><stop offset=".014" stop-color="#d5d5d5"/><stop offset=".029" stop-color="#cdcdcd"/><stop offset=".043" stop-color="#c1c1c1"/><stop offset=".058" stop-color="#aeaeae"/><stop offset=".065" stop-color="#a7a7a7"/><stop offset=".115" stop-color="#8f8f8f"/><stop offset=".173" stop-color="#7c7c7c"/><stop offset=".266" stop-color="#6a6a6a"/><stop offset=".324" stop-color="#636363"/><stop offset=".41" stop-color="#5c5c5c"/><stop offset=".748" stop-color="#474747"/><stop offset="1" stop-color="#3b3b3b"/></linearGradient>
<linearGradient id="g57" gradientUnits="userSpaceOnUse" x1="151.8" x2="221.6" spreadMethod="reflect"><stop offset="0" stop-color="#d9d9d9"/><stop offset=".014" stop-color="#d5d5d5"/><stop offset=".029" stop-color="#cbcbcb"/><stop offset=".036" stop-color="#c4c4c4"/><stop offset=".058" stop-color="#a9a9a9"/><stop offset=".115" stop-color="#8b8b8b"/><stop offset=".165" stop-color="#7a7a7a"/><stop offset=".259" stop-color="#686868"/><stop offset=".353" stop-color="#5d5d5d"/><stop offset=".676" stop-color="#464646"/><stop offset="1" stop-color="#353535"/></linearGradient>
<linearGradient id="g58" gradientUnits="userSpaceOnUse" x1="151.8" x2="221.6" spreadMethod="reflect"><stop offset="0" stop-color="#d9d9d9"/><stop offset=".014" stop-color="#d3d3d3"/><stop offset=".022" stop-color="#cecece"/><stop offset=".029" stop-color="#c6c6c6"/><stop offset=".05" stop-color="#a9a9a9"/><stop offset=".108" stop-color="#888888"/><stop offset=".151" stop-color="#797979"/><stop offset=".245" stop-color="#656565"/><stop offset=".338" stop-color="#5a5a5a"/><stop offset=".64" stop-color="#404040"/><stop offset=".82" stop-color="#353535"/><stop offset="1" stop-color="#2e2e2e"/></linearGradient>
<linearGradient id="g59" gradientUnits="userSpaceOnUse" x1="151.8" x2="221.6" spreadMethod="reflect"><stop offset="0" stop-color="#d9d9d9"/><stop offset=".014" stop-color="#cfcfcf"/><stop offset=".022" stop-color="#c7c7c7"/><stop offset=".036" stop-color="#acacac"/><stop offset=".094" stop-color="#848484"/><stop offset=".137" stop-color="#737373"/><stop offset=".223" stop-color="#606060"/><stop offset=".468" stop-color="#434343"/><stop offset=".619" stop-color="#353535"/><stop offset=".791" stop-color="#2b2b2b"/><stop offset="1" stop-color="#252525"/></linearGradient>
<linearGradient id="g60" gradientUnits="userSpaceOnUse" x1="151.8" x2="221.6" spreadMethod="reflect"><stop offset="0" stop-color="#d6d6d6"/><stop offset=".007" stop-color="#cecece"/><stop offset=".022" stop-color="#a8a8a8"/><stop offset=".058" stop-color="#7e7e7e"/><stop offset=".079" stop-color="#6f6f6f"/><stop offset=".101" stop-color="#656565"/><stop offset=".158" stop-color="#555555"/><stop offset=".367" stop-color="#363636"/><stop offset=".532" stop-color="#262626"/><stop offset=".741" stop-color="#1d1d1d"/><stop offset="1" stop-color="#1b1b1b"/></linearGradient>
<linearGradient id="g61" gradientUnits="userSpaceOnUse" x1="151.8" x2="221.6" spreadMethod="reflect"><stop offset="0" stop-color="#4e4e4e"/><stop offset=".007" stop-color="#363636"/><stop offset=".014" stop-color="#2b2b2b"/><stop offset=".022" stop-color="#252525"/><stop offset=".058" stop-color="#191919"/><stop offset=".108" stop-color="#141414"/><stop offset=".331" stop-color="#101010"/><stop offset=".64" stop-color="#171717"/><stop offset="1" stop-color="#1a1a1a"/></linearGradient>
<linearGradient id="g62" gradientUnits="userSpaceOnUse" x1="151.8" x2="221.6" spreadMethod="reflect"><stop offset="0" stop-color="#090909"/><stop offset=".165" stop-color="#0a0a0a"/><stop offset=".619" stop-color="#161616"/><stop offset="1" stop-color="#1a1a1a"/></linearGradient>
<linearGradient id="g63" gradientUnits="userSpaceOnUse" x1="151.8" x2="221.6" spreadMethod="reflect"><stop offset="0" stop-color="#090909"/><stop offset=".209" stop-color="#090909"/><stop offset=".576" stop-color="#151515"/><stop offset="1" stop-color="#1a1a1a"/></linearGradient>
<linearGradient id="g64" gradientUnits="userSpaceOnUse" x1="151.8" x2="221.6" spreadMethod="reflect"><stop offset="0" stop-color="#090909"/><stop offset=".259" stop-color="#090909"/><stop offset=".583" stop-color="#151515"/><stop offset="1" stop-color="#1a1a1a"/></linearGradient>
<linearGradient id="g65" gradientUnits="userSpaceOnUse" x1="151.8" x2="221.6" spreadMethod="reflect"><stop offset="0" stop-color="#090909"/><stop offset=".302" stop-color="#090909"/><stop offset=".597" stop-color="#141414"/><stop offset="1" stop-color="#1a1a1a"/></linearGradient>
<linearGradient id="g66" gradientUnits="userSpaceOnUse" x1="151.8" x2="221.6" spreadMethod="reflect"><stop offset="0" stop-color="#090909"/><stop offset=".317" stop-color="#090909"/><stop offset=".597" stop-color="#141414"/><stop offset="1" stop-color="#1a1a1a"/></linearGradient>
<clipPath id="ca1"><rect x="83.0" y="39.3" width="137.4" height="214.0"/></clipPath>
<linearGradient id="g67" gradientUnits="userSpaceOnUse" x1="299.2" x2="369.6" spreadMethod="reflect"><stop offset="0" stop-color="#dbdbdb"/><stop offset=".007" stop-color="#939393"/><stop offset=".014" stop-color="#7f7f7f"/><stop offset=".029" stop-color="#707070"/><stop offset=".043" stop-color="#676767"/><stop offset=".064" stop-color="#5f5f5f"/><stop offset=".093" stop-color="#585858"/><stop offset=".307" stop-color="#3c3c3c"/><stop offset=".357" stop-color="#373737"/><stop offset=".429" stop-color="#373737"/><stop offset=".629" stop-color="#3b3b3b"/><stop offset=".871" stop-color="#2e2e2e"/><stop offset="1" stop-color="#2c2c2c"/></linearGradient>
<linearGradient id="g68" gradientUnits="userSpaceOnUse" x1="299.2" x2="369.6" spreadMethod="reflect"><stop offset="0" stop-color="#dbdbdb"/><stop offset=".007" stop-color="#cbcbcb"/><stop offset=".021" stop-color="#9a9a9a"/><stop offset=".029" stop-color="#898989"/><stop offset=".036" stop-color="#7c7c7c"/><stop offset=".05" stop-color="#6e6e6e"/><stop offset=".064" stop-color="#656565"/><stop offset=".107" stop-color="#585858"/><stop offset=".307" stop-color="#3c3c3c"/><stop offset=".35" stop-color="#383838"/><stop offset=".421" stop-color="#373737"/><stop offset=".629" stop-color="#3c3c3c"/><stop offset=".757" stop-color="#373737"/><stop offset=".871" stop-color="#2e2e2e"/><stop offset="1" stop-color="#2c2c2c"/></linearGradient>
<linearGradient id="g69" gradientUnits="userSpaceOnUse" x1="299.2" x2="369.6" spreadMethod="reflect"><stop offset="0" stop-color="#dbdbdb"/><stop offset=".007" stop-color="#d2d2d2"/><stop offset=".036" stop-color="#929292"/><stop offset=".043" stop-color="#868686"/><stop offset=".057" stop-color="#757575"/><stop offset=".071" stop-color="#6b6b6b"/><stop offset=".086" stop-color="#646464"/><stop offset=".143" stop-color="#555555"/><stop offset=".3" stop-color="#3e3e3e"/><stop offset=".35" stop-color="#393939"/><stop offset=".421" stop-color="#383838"/><stop offset=".629" stop-color="#3d3d3d"/><stop offset=".757" stop-color="#373737"/><stop offset=".871" stop-color="#2f2f2f"/><stop offset="1" stop-color="#2d2d2d"/></linearGradient>
<linearGradient id="g70" gradientUnits="userSpaceOnUse" x1="299.2" x2="369.6" spreadMethod="reflect"><stop offset="0" stop-color="#dbdbdb"/><stop offset=".014" stop-color="#c9c9c9"/><stop offset=".036" stop-color="#9f9f9f"/><stop offset=".043" stop-color="#949494"/><stop offset=".057" stop-color="#828282"/><stop offset=".071" stop-color="#757575"/><stop offset=".107" stop-color="#636363"/><stop offset=".171" stop-color="#535353"/><stop offset=".3" stop-color="#3f3f3f"/><stop offset=".357" stop-color="#3a3a3a"/><stop offset=".629" stop-color="#3e3e3e"/><stop offset=".757" stop-color="#383838"/><stop offset=".871" stop-color="#2f2f2f"/><stop offset="1" stop-color="#2e2e2e"/></linearGradient>
<linearGradient id="g71" gradientUnits="userSpaceOnUse" x1="299.2" x2="369.6" spreadMethod="reflect"><stop offset="0" stop-color="#dbdbdb"/><stop offset=".014" stop-color="#cbcbcb"/><stop offset=".036" stop-color="#a7a7a7"/><stop offset=".05" stop-color="#939393"/><stop offset=".064" stop-color="#848484"/><stop offset=".086" stop-color="#747474"/><stop offset=".107" stop-color="#696969"/><stop offset=".143" stop-color="#5d5d5d"/><stop offset=".25" stop-color="#484848"/><stop offset=".314" stop-color="#3e3e3e"/><stop offset=".364" stop-color="#3a3a3a"/><stop offset=".629" stop-color="#3f3f3f"/><stop offset=".757" stop-color="#393939"/><stop offset=".864" stop-color="#303030"/><stop offset="1" stop-color="#2e2e2e"/></linearGradient>
<linearGradient id="g72" gradientUnits="userSpaceOnUse" x1="299.2" x2="369.6" spreadMethod="reflect"><stop offset="0" stop-color="#dbdbdb"/><stop offset=".014" stop-color="#cccccc"/><stop offset=".036" stop-color="#acacac"/><stop offset=".057" stop-color="#929292"/><stop offset=".071" stop-color="#858585"/><stop offset=".093" stop-color="#767676"/><stop offset=".121" stop-color="#696969"/><stop offset=".157" stop-color="#5d5d5d"/><stop offset=".279" stop-color="#454545"/><stop offset=".321" stop-color="#3f3f3f"/><stop offset=".371" stop-color="#3c3c3c"/><stop offset=".629" stop-color="#404040"/><stop offset=".757" stop-color="#393939"/><stop offset=".864" stop-color="#313131"/><stop offset="1" stop-color="#2f2f2f"/></linearGradient>
<linearGradient id="g73" gradientUnits="userSpaceOnUse" x1="299.2" x2="369.6" spreadMethod="reflect"><stop offset="0" stop-color="#dbdbdb"/><stop offset=".014" stop-color="#cdcdcd"/><stop offset=".036" stop-color="#afafaf"/><stop offset=".057" stop-color="#979797"/><stop offset=".079" stop-color="#858585"/><stop offset=".1" stop-color="#787878"/><stop offset=".129" stop-color="#6b6b6b"/><stop offset=".164" stop-color="#5f5f5f"/><stop offset=".286" stop-color="#454545"/><stop offset=".336" stop-color="#3f3f3f"/><stop offset=".393" stop-color="#3c3c3c"/><stop offset=".643" stop-color="#404040"/><stop offset=".864" stop-color="#313131"/><stop offset="1" stop-color="#2f2f2f"/></linearGradient>
<linearGradient id="g74" gradientUnits="userSpaceOnUse" x1="299.2" x2="369.6" spreadMethod="reflect"><stop offset="0" stop-color="#dbdbdb"/><stop offset=".014" stop-color="#cdcdcd"/><stop offset=".036" stop-color="#b1b1b1"/><stop offset=".057" stop-color="#9a9a9a"/><stop offset=".079" stop-color="#898989"/><stop offset=".1" stop-color="#7c7c7c"/><stop offset=".136" stop-color="#6d6d6d"/><stop offset=".171" stop-color="#616161"/><stop offset=".286" stop-color="#474747"/><stop offset=".336" stop-color="#414141"/><stop offset=".393" stop-color="#3e3e3e"/><stop offset=".643" stop-color="#414141"/><stop offset=".864" stop-color="#323232"/><stop offset="1" stop-color="#303030"/></linearGradient>
<linearGradient id="g75" gradientUnits="userSpaceOnUse" x1="299.2" x2="369.6" spreadMethod="reflect"><stop offset="0" stop-color="#dbdbdb"/><stop offset=".014" stop-color="#cecece"/><stop offset=".036" stop-color="#b2b2b2"/><stop offset=".057" stop-color="#9d9d9d"/><stop offset=".079" stop-color="#8c8c8c"/><stop offset=".1" stop-color="#808080"/><stop offset=".136" stop-color="#717171"/><stop offset=".171" stop-color="#646464"/><stop offset=".286" stop-color="#494949"/><stop offset=".379" stop-color="#404040"/><stop offset=".629" stop-color="#424242"/><stop offset=".757" stop-color="#3b3b3b"/><stop offset=".864" stop-color="#323232"/><stop offset="1" stop-color="#303030"/></linearGradient>
<linearGradient id="g76" gradientUnits="userSpaceOnUse" x1="299.2" x2="369.6" spreadMethod="reflect"><stop offset="0" stop-color="#dbdbdb"/><stop offset=".014" stop-color="#cecece"/><stop offset=".036" stop-color="#b3b3b3"/><stop offset=".05" stop-color="#a5a5a5"/><stop offset=".071" stop-color="#949494"/><stop offset=".093" stop-color="#878787"/><stop offset=".129" stop-color="#777777"/><stop offset=".171" stop-color="#676767"/><stop offset=".286" stop-color="#4b4b4b"/><stop offset=".386" stop-color="#424242"/><stop offset=".629" stop-color="#434343"/><stop offset=".757" stop-color="#3c3c3c"/><stop offset=".864" stop-color="#333333"/><stop offset="1" stop-color="#313131"/></linearGradient>
<linearGradient id="g77" gradientUnits="userSpaceOnUse" x1="299.2" x2="369.6" spreadMethod="reflect"><stop offset="0" stop-color="#dbdbdb"/><stop offset=".014" stop-color="#cecece"/><stop offset=".036" stop-color="#b4b4b4"/><stop offset=".05" stop-color="#a6a6a6"/><stop offset=".071" stop-color="#969696"/><stop offset=".093" stop-color="#8a8a8a"/><stop offset=".136" stop-color="#777777"/><stop offset=".179" stop-color="#686868"/><stop offset=".286" stop-color="#4d4d4d"/><stop offset=".393" stop-color="#434343"/><stop offset=".629" stop-color="#444444"/><stop offset=".757" stop-color="#3d3d3d"/><stop offset=".864" stop-color="#333333"/><stop offset="1" stop-color="#313131"/></linearGradient>
<linearGradient id="g78" gradientUnits="userSpaceOnUse" x1="299.2" x2="369.6" spreadMethod="reflect"><stop offset="0" stop-color="#dbdbdb"/><stop offset=".05" stop-color="#a7a7a7"/><stop offset=".071" stop-color="#979797"/><stop offset=".093" stop-color="#8c8c8c"/><stop offset=".179" stop-color="#6b6b6b"/><stop offset=".243" stop-color="#585858"/><stop offset=".286" stop-color="#4f4f4f"/><stop offset=".4" stop-color="#454545"/><stop offset=".629" stop-color="#444444"/><stop offset=".864" stop-color="#343434"/><stop offset="1" stop-color="#323232"/></linearGradient>
<linearGradient id="g79" gradientUnits="userSpaceOnUse" x1="299.2" x2="369.6" spreadMethod="reflect"><stop offset="0" stop-color="#dbdbdb"/><stop offset=".05" stop-color="#a8a8a8"/><stop offset=".086" stop-color="#919191"/><stop offset=".179" stop-color="#6d6d6d"/><stop offset=".243" stop-color="#5b5b5b"/><stop offset=".286" stop-color="#515151"/><stop offset=".4" stop-color="#464646"/><stop offset=".629" stop-color="#454545"/><stop offset=".864" stop-color="#343434"/><stop offset="1" stop-color="#323232"/></linearGradient>
<linearGradient id="g80" gradientUnits="userSpaceOnUse" x1="299.2" x2="369.6" spreadMethod="reflect"><stop offset="0" stop-color="#dbdbdb"/><stop offset=".014" stop-color="#cecece"/><stop offset=".036" stop-color="#b5b5b5"/><stop offset=".05" stop-color="#a8a8a8"/><stop offset=".086" stop-color="#929292"/><stop offset=".186" stop-color="#6d6d6d"/><stop offset=".243" stop-color="#5d5d5d"/><stop offset=".286" stop-color="#545454"/><stop offset=".407" stop-color="#484848"/><stop offset=".629" stop-color="#464646"/><stop offset=".864" stop-color="#353535"/><stop offset="1" stop-color="#323232"/></linearGradient>
<linearGradient id="g81" gradientUnits="userSpaceOnUse" x1="299.2" x2="369.6" spreadMethod="reflect"><stop offset="0" stop-color="#dbdbdb"/><stop offset=".014" stop-color="#cecece"/><stop offset=".036" stop-color="#b5b5b5"/><stop offset=".05" stop-color="#a9a9a9"/><stop offset=".086" stop-color="#939393"/><stop offset=".193" stop-color="#6d6d6d"/><stop offset=".286" stop-color="#565656"/><stop offset=".407" stop-color="#494949"/><stop offset=".621" stop-color="#474747"/><stop offset=".864" stop-color="#353535"/><stop offset="1" stop-color="#333333"/></linearGradient>
<linearGradient id="g82" gradientUnits="userSpaceOnUse" x1="299.2" x2="369.6" spreadMethod="reflect"><stop offset="0" stop-color="#dbdbdb"/><stop offset=".014" stop-color="#cecece"/><stop offset=".036" stop-color="#b5b5b5"/><stop offset=".05" stop-color="#a9a9a9"/><stop offset=".086" stop-color="#949494"/><stop offset=".193" stop-color="#6f6f6f"/><stop offset=".286" stop-color="#595959"/><stop offset=".414" stop-color="#4b4b4b"/><stop offset=".621" stop-color="#484848"/><stop offset=".864" stop-color="#363636"/><stop offset="1" stop-color="#333333"/></linearGradient>
<linearGradient id="g83" gradientUnits="userSpaceOnUse" x1="299.2" x2="369.6" spreadMethod="reflect"><stop offset="0" stop-color="#dbdbdb"/><stop offset=".043" stop-color="#afafaf"/><stop offset=".064" stop-color="#9f9f9f"/><stop offset=".086" stop-color="#949494"/><stop offset=".193" stop-color="#707070"/><stop offset=".293" stop-color="#5a5a5a"/><stop offset=".414" stop-color="#4c4c4c"/><stop offset=".621" stop-color="#494949"/><stop offset=".864" stop-color="#363636"/><stop offset="1" stop-color="#333333"/></linearGradient>
<linearGradient id="g84" gradientUnits="userSpaceOnUse" x1="299.2" x2="369.6" spreadMethod="reflect"><stop offset="0" stop-color="#dbdbdb"/><stop offset=".043" stop-color="#afafaf"/><stop offset=".064" stop-color="#a0a0a0"/><stop offset=".086" stop-color="#959595"/><stop offset=".193" stop-color="#727272"/><stop offset=".293" stop-color="#5c5c5c"/><stop offset=".421" stop-color="#4d4d4d"/><stop offset=".621" stop-color="#494949"/><stop offset=".864" stop-color="#363636"/><stop offset="1" stop-color="#343434"/></linearGradient>
<linearGradient id="g85" gradientUnits="userSpaceOnUse" x1="299.2" x2="369.6" spreadMethod="reflect"><stop offset="0" stop-color="#dbdbdb"/><stop offset=".043" stop-color="#b0b0b0"/><stop offset=".064" stop-color="#a0a0a0"/><stop offset=".086" stop-color="#969696"/><stop offset=".186" stop-color="#767676"/><stop offset=".293" stop-color="#5e5e5e"/><stop offset=".421" stop-color="#4e4e4e"/><stop offset=".621" stop-color="#4a4a4a"/><stop offset=".864" stop-color="#373737"/><stop offset="1" stop-color="#343434"/></linearGradient>
<linearGradient id="g86" gradientUnits="userSpaceOnUse" x1="299.2" x2="369.6" spreadMethod="reflect"><stop offset="0" stop-color="#dadada"/><stop offset=".029" stop-color="#c8c8c8"/><stop offset=".05" stop-color="#b2b2b2"/><stop offset=".064" stop-color="#a7a7a7"/><stop offset=".093" stop-color="#979797"/><stop offset=".2" stop-color="#767676"/><stop offset=".307" stop-color="#5e5e5e"/><stop offset=".429" stop-color="#505050"/><stop offset=".629" stop-color="#4b4b4b"/><stop offset=".864" stop-color="#373737"/><stop offset="1" stop-color="#353535"/></linearGradient>
<linearGradient id="g87" gradientUnits="userSpaceOnUse" x1="299.2" x2="369.6" spreadMethod="reflect"><stop offset="0" stop-color="#d9d9d9"/><stop offset=".029" stop-color="#cbcbcb"/><stop offset=".064" stop-color="#acacac"/><stop offset=".1" stop-color="#979797"/><stop offset=".214" stop-color="#767676"/><stop offset=".321" stop-color="#5f5f5f"/><stop offset=".436" stop-color="#515151"/><stop offset=".629" stop-color="#4c4c4c"/><stop offset=".871" stop-color="#383838"/><stop offset="1" stop-color="#353535"/></linearGradient>
<linearGradient id="g88" gradientUnits="userSpaceOnUse" x1="299.2" x2="369.6" spreadMethod="reflect"><stop offset="0" stop-color="#d8d8d8"/><stop offset=".029" stop-color="#cccccc"/><stop offset=".071" stop-color="#a9a9a9"/><stop offset=".107" stop-color="#969696"/><stop offset=".229" stop-color="#757575"/><stop offset=".329" stop-color="#606060"/><stop offset=".443" stop-color="#525252"/><stop offset=".636" stop-color="#4c4c4c"/><stop offset=".871" stop-color="#383838"/><stop offset="1" stop-color="#353535"/></linearGradient>
<linearGradient id="g89" gradientUnits="userSpaceOnUse" x1="299.2" x2="369.6" spreadMethod="reflect"><stop offset="0" stop-color="#d7d7d7"/><stop offset=".029" stop-color="#cccccc"/><stop offset=".079" stop-color="#a7a7a7"/><stop offset=".114" stop-color="#969696"/><stop offset=".236" stop-color="#757575"/><stop offset=".336" stop-color="#616161"/><stop offset=".45" stop-color="#535353"/><stop offset=".636" stop-color="#4d4d4d"/><stop offset=".879" stop-color="#383838"/><stop offset="1" stop-color="#363636"/></linearGradient>
<linearGradient id="g90" gradientUnits="userSpaceOnUse" x1="299.2" x2="369.6" spreadMethod="reflect"><stop offset="0" stop-color="#d6d6d6"/><stop offset=".029" stop-color="#cccccc"/><stop offset=".043" stop-color="#c3c3c3"/><stop offset=".079" stop-color="#a8a8a8"/><stop offset=".114" stop-color="#979797"/><stop offset=".243" stop-color="#767676"/><stop offset=".343" stop-color="#616161"/><stop offset=".45" stop-color="#545454"/><stop offset=".636" stop-color="#4e4e4e"/><stop offset=".879" stop-color="#393939"/><stop offset="1" stop-color="#363636"/></linearGradient>
<linearGradient id="g91" gradientUnits="userSpaceOnUse" x1="299.2" x2="369.6" spreadMethod="reflect"><stop offset="0" stop-color="#d5d5d5"/><stop offset=".036" stop-color="#c8c8c8"/><stop offset=".079" stop-color="#aaaaaa"/><stop offset=".114" stop-color="#999999"/><stop offset=".257" stop-color="#757575"/><stop offset=".364" stop-color="#606060"/><stop offset=".457" stop-color="#555555"/><stop offset=".643" stop-color="#4f4f4f"/><stop offset=".886" stop-color="#393939"/><stop offset="1" stop-color="#363636"/></linearGradient>
<linearGradient id="g92" gradientUnits="userSpaceOnUse" x1="299.2" x2="369.6" spreadMethod="reflect"><stop offset="0" stop-color="#d4d4d4"/><stop offset=".036" stop-color="#c7c7c7"/><stop offset=".086" stop-color="#a8a8a8"/><stop offset=".121" stop-color="#999999"/><stop offset=".286" stop-color="#727272"/><stop offset=".379" stop-color="#616161"/><stop offset=".471" stop-color="#565656"/><stop offset=".686" stop-color="#4d4d4d"/><stop offset=".893" stop-color="#3a3a3a"/><stop offset="1" stop-color="#373737"/></linearGradient>
<linearGradient id="g93" gradientUnits="userSpaceOnUse" x1="299.2" x2="369.6" spreadMethod="reflect"><stop offset="0" stop-color="#d2d2d2"/><stop offset=".036" stop-color="#c7c7c7"/><stop offset=".086" stop-color="#a9a9a9"/><stop offset=".121" stop-color="#9a9a9a"/><stop offset=".293" stop-color="#737373"/><stop offset=".386" stop-color="#626262"/><stop offset=".471" stop-color="#585858"/><stop offset=".686" stop-color="#4f4f4f"/><stop offset=".893" stop-color="#3a3a3a"/><stop offset="1" stop-color="#383838"/></linearGradient>
<linearGradient id="g94" gradientUnits="userSpaceOnUse" x1="299.2" x2="369.6" spreadMethod="reflect"><stop offset="0" stop-color="#d1d1d1"/><stop offset=".043" stop-color="#c3c3c3"/><stop offset=".086" stop-color="#aaaaaa"/><stop offset=".121" stop-color="#9b9b9b"/><stop offset=".3" stop-color="#737373"/><stop offset=".393" stop-color="#636363"/><stop offset=".479" stop-color="#595959"/><stop offset=".686" stop-color="#505050"/><stop offset=".9" stop-color="#3b3b3b"/><stop offset="1" stop-color="#383838"/></linearGradient>
<linearGradient id="g95" gradientUnits="userSpaceOnUse" x1="299.2" x2="369.6" spreadMethod="reflect"><stop offset="0" stop-color="#d0d0d0"/><stop offset=".043" stop-color="#c3c3c3"/><stop offset=".086" stop-color="#ababab"/><stop offset=".129" stop-color="#9a9a9a"/><stop offset=".314" stop-color="#737373"/><stop offset=".4" stop-color="#646464"/><stop offset=".486" stop-color="#5a5a5a"/><stop offset=".686" stop-color="#525252"/><stop offset=".9" stop-color="#3c3c3c"/><stop offset="1" stop-color="#393939"/></linearGradient>
<linearGradient id="g96" gradientUnits="userSpaceOnUse" x1="299.2" x2="369.6" spreadMethod="reflect"><stop offset="0" stop-color="#cfcfcf"/><stop offset=".05" stop-color="#c0c0c0"/><stop offset=".086" stop-color="#acacac"/><stop offset=".129" stop-color="#9b9b9b"/><stop offset=".314" stop-color="#757575"/><stop offset=".4" stop-color="#666666"/><stop offset=".486" stop-color="#5c5c5c"/><stop offset=".693" stop-color="#535353"/><stop offset=".907" stop-color="#3d3d3d"/><stop offset="1" stop-color="#3a3a3a"/></linearGradient>
<linearGradient id="g97" gradientUnits="userSpaceOnUse" x1="299.2" x2="369.6" spreadMethod="reflect"><stop offset="0" stop-color="#cecece"/><stop offset=".05" stop-color="#c0c0c0"/><stop offset=".086" stop-color="#acacac"/><stop offset=".129" stop-color="#9c9c9c"/><stop offset=".314" stop-color="#777777"/><stop offset=".4" stop-color="#686868"/><stop offset=".486" stop-color="#5e5e5e"/><stop offset=".693" stop-color="#555555"/><stop offset=".907" stop-color="#3e3e3e"/><stop offset="1" stop-color="#3b3b3b"/></linearGradient>
<linearGradient id="g98" gradientUnits="userSpaceOnUse" x1="299.2" x2="369.6" spreadMethod="reflect"><stop offset="0" stop-color="#cdcdcd"/><stop offset=".05" stop-color="#bfbfbf"/><stop offset=".093" stop-color="#a9a9a9"/><stop offset=".129" stop-color="#9d9d9d"/><stop offset=".386" stop-color="#6c6c6c"/><stop offset=".479" stop-color="#616161"/><stop offset=".671" stop-color="#585858"/><stop offset=".907" stop-color="#3f3f3f"/><stop offset="1" stop-color="#3c3c3c"/></linearGradient>
<linearGradient id="g99" gradientUnits="userSpaceOnUse" x1="299.2" x2="369.6" spreadMethod="reflect"><stop offset="0" stop-color="#cccccc"/><stop offset=".05" stop-color="#bfbfbf"/><stop offset=".093" stop-color="#aaaaaa"/><stop offset=".129" stop-color="#9d9d9d"/><stop offset=".371" stop-color="#707070"/><stop offset=".479" stop-color="#626262"/><stop offset=".671" stop-color="#5a5a5a"/><stop offset=".907" stop-color="#404040"/><stop offset="1" stop-color="#3d3d3d"/></linearGradient>
<linearGradient id="g100" gradientUnits="userSpaceOnUse" x1="299.2" x2="369.6" spreadMethod="reflect"><stop offset="0" stop-color="#cccccc"/><stop offset=".05" stop-color="#bfbfbf"/><stop offset=".093" stop-color="#aaaaaa"/><stop offset=".129" stop-color="#9d9d9d"/><stop offset=".371" stop-color="#707070"/><stop offset=".479" stop-color="#636363"/><stop offset=".671" stop-color="#5a5a5a"/><stop offset=".907" stop-color="#404040"/><stop offset="1" stop-color="#3d3d3d"/></linearGradient>
<linearGradient id="g101" gradientUnits="userSpaceOnUse" x1="299.2" x2="369.6" spreadMethod="reflect"><stop offset="0" stop-color="#cccccc"/><stop offset=".05" stop-color="#bfbfbf"/><stop offset=".093" stop-color="#aaaaaa"/><stop offset=".129" stop-color="#9d9d9d"/><stop offset=".371" stop-color="#707070"/><stop offset=".479" stop-color="#636363"/><stop offset=".693" stop-color="#595959"/><stop offset=".907" stop-color="#404040"/><stop offset="1" stop-color="#3d3d3d"/></linearGradient>
<linearGradient id="g102" gradientUnits="userSpaceOnUse" x1="299.2" x2="369.6" spreadMethod="reflect"><stop offset="0" stop-color="#cccccc"/><stop offset=".05" stop-color="#bfbfbf"/><stop offset=".093" stop-color="#a9a9a9"/><stop offset=".129" stop-color="#9d9d9d"/><stop offset=".364" stop-color="#717171"/><stop offset=".471" stop-color="#646464"/><stop offset=".686" stop-color="#595959"/><stop offset=".9" stop-color="#404040"/><stop offset="1" stop-color="#3d3d3d"/></linearGradient>
<linearGradient id="g103" gradientUnits="userSpaceOnUse" x1="299.2" x2="369.6" spreadMethod="reflect"><stop offset="0" stop-color="#cccccc"/><stop offset=".05" stop-color="#bfbfbf"/><stop offset=".093" stop-color="#a9a9a9"/><stop offset=".129" stop-color="#9c9c9c"/><stop offset=".364" stop-color="#707070"/><stop offset=".471" stop-color="#636363"/><stop offset=".679" stop-color="#595959"/><stop offset=".886" stop-color="#414141"/><stop offset="1" stop-color="#3d3d3d"/></linearGradient>
<linearGradient id="g104" gradientUnits="userSpaceOnUse" x1="299.2" x2="369.6" spreadMethod="reflect"><stop offset="0" stop-color="#cdcdcd"/><stop offset=".05" stop-color="#c0c0c0"/><stop offset=".093" stop-color="#a9a9a9"/><stop offset=".129" stop-color="#9c9c9c"/><stop offset=".357" stop-color="#717171"/><stop offset=".464" stop-color="#646464"/><stop offset=".664" stop-color="#595959"/><stop offset=".871" stop-color="#414141"/><stop offset="1" stop-color="#3d3d3d"/></linearGradient>
<linearGradient id="g105" gradientUnits="userSpaceOnUse" x1="299.2" x2="369.6" spreadMethod="reflect"><stop offset="0" stop-color="#cecece"/><stop offset=".05" stop-color="#c0c0c0"/><stop offset=".093" stop-color="#a8a8a8"/><stop offset=".129" stop-color="#9b9b9b"/><stop offset=".35" stop-color="#717171"/><stop offset=".45" stop-color="#646464"/><stop offset=".657" stop-color="#595959"/><stop offset=".857" stop-color="#414141"/><stop offset="1" stop-color="#3c3c3c"/></linearGradient>
<linearGradient id="g106" gradientUnits="userSpaceOnUse" x1="299.2" x2="369.6" spreadMethod="reflect"><stop offset="0" stop-color="#d0d0d0"/><stop offset=".021" stop-color="#cbcbcb"/><stop offset=".05" stop-color="#c1c1c1"/><stop offset=".086" stop-color="#acacac"/><stop offset=".121" stop-color="#9d9d9d"/><stop offset=".25" stop-color="#828282"/><stop offset=".35" stop-color="#707070"/><stop offset=".45" stop-color="#646464"/><stop offset=".643" stop-color="#595959"/><stop offset=".85" stop-color="#404040"/><stop offset="1" stop-color="#3c3c3c"/></linearGradient>
<linearGradient id="g107" gradientUnits="userSpaceOnUse" x1="299.2" x2="369.6" spreadMethod="reflect"><stop offset="0" stop-color="#d1d1d1"/><stop offset=".021" stop-color="#cccccc"/><stop offset=".05" stop-color="#c1c1c1"/><stop offset=".086" stop-color="#ababab"/><stop offset=".121" stop-color="#9c9c9c"/><stop offset=".343" stop-color="#707070"/><stop offset=".443" stop-color="#646464"/><stop offset=".636" stop-color="#595959"/><stop offset=".836" stop-color="#404040"/><stop offset="1" stop-color="#3c3c3c"/></linearGradient>
<linearGradient id="g108" gradientUnits="userSpaceOnUse" x1="299.2" x2="369.6" spreadMethod="reflect"><stop offset="0" stop-color="#d2d2d2"/><stop offset=".043" stop-color="#c5c5c5"/><stop offset=".086" stop-color="#ababab"/><stop offset=".121" stop-color="#9c9c9c"/><stop offset=".25" stop-color="#808080"/><stop offset=".357" stop-color="#6d6d6d"/><stop offset=".436" stop-color="#646464"/><stop offset=".621" stop-color="#5a5a5a"/><stop offset=".821" stop-color="#404040"/><stop offset="1" stop-color="#3c3c3c"/></linearGradient>
<linearGradient id="g109" gradientUnits="userSpaceOnUse" x1="299.2" x2="369.6" spreadMethod="reflect"><stop offset="0" stop-color="#d2d2d2"/><stop offset=".021" stop-color="#cecece"/><stop offset=".043" stop-color="#c5c5c5"/><stop offset=".086" stop-color="#ababab"/><stop offset=".121" stop-color="#9b9b9b"/><stop offset=".25" stop-color="#7f7f7f"/><stop offset=".357" stop-color="#6c6c6c"/><stop offset=".429" stop-color="#646464"/><stop offset=".607" stop-color="#5a5a5a"/><stop offset=".807" stop-color="#414141"/><stop offset="1" stop-color="#3b3b3b"/></linearGradient>
<linearGradient id="g110" gradientUnits="userSpaceOnUse" x1="299.2" x2="369.6" spreadMethod="reflect"><stop offset="0" stop-color="#d3d3d3"/><stop offset=".021" stop-color="#cecece"/><stop offset=".043" stop-color="#c6c6c6"/><stop offset=".086" stop-color="#aaaaaa"/><stop offset=".121" stop-color="#9b9b9b"/><stop offset=".257" stop-color="#7d7d7d"/><stop offset=".357" stop-color="#6c6c6c"/><stop offset=".421" stop-color="#646464"/><stop offset=".6" stop-color="#5a5a5a"/><stop offset=".793" stop-color="#414141"/><stop offset="1" stop-color="#3b3b3b"/></linearGradient>
<linearGradient id="g111" gradientUnits="userSpaceOnUse" x1="299.2" x2="369.6" spreadMethod="reflect"><stop offset="0" stop-color="#d4d4d4"/><stop offset=".021" stop-color="#cfcfcf"/><stop offset=".043" stop-color="#c6c6c6"/><stop offset=".086" stop-color="#aaaaaa"/><stop offset=".121" stop-color="#9a9a9a"/><stop offset=".257" stop-color="#7c7c7c"/><stop offset=".35" stop-color="#6c6c6c"/><stop offset=".414" stop-color="#646464"/><stop offset=".586" stop-color="#5a5a5a"/><stop offset=".786" stop-color="#404040"/><stop offset="1" stop-color="#3b3b3b"/></linearGradient>
<linearGradient id="g112" gradientUnits="userSpaceOnUse" x1="299.2" x2="369.6" spreadMethod="reflect"><stop offset="0" stop-color="#d5d5d5"/><stop offset=".021" stop-color="#d0d0d0"/><stop offset=".043" stop-color="#c7c7c7"/><stop offset=".086" stop-color="#aaaaaa"/><stop offset=".121" stop-color="#9a9a9a"/><stop offset=".257" stop-color="#7b7b7b"/><stop offset=".35" stop-color="#6b6b6b"/><stop offset=".414" stop-color="#636363"/><stop offset=".579" stop-color="#5a5a5a"/><stop offset=".771" stop-color="#404040"/><stop offset="1" stop-color="#3b3b3b"/></linearGradient>
<linearGradient id="g113" gradientUnits="userSpaceOnUse" x1="299.2" x2="369.6" spreadMethod="reflect"><stop offset="0" stop-color="#d5d5d5"/><stop offset=".021" stop-color="#d0d0d0"/><stop offset=".043" stop-color="#c7c7c7"/><stop offset=".086" stop-color="#a9a9a9"/><stop offset=".114" stop-color="#9c9c9c"/><stop offset=".229" stop-color="#808080"/><stop offset=".343" stop-color="#6b6b6b"/><stop offset=".407" stop-color="#636363"/><stop offset=".564" stop-color="#5a5a5a"/><stop offset=".757" stop-color="#404040"/><stop offset="1" stop-color="#3b3b3b"/></linearGradient>
<linearGradient id="g114" gradientUnits="userSpaceOnUse" x1="299.2" x2="369.6" spreadMethod="reflect"><stop offset="0" stop-color="#d6d6d6"/><stop offset=".021" stop-color="#d1d1d1"/><stop offset=".043" stop-color="#c7c7c7"/><stop offset=".086" stop-color="#a9a9a9"/><stop offset=".114" stop-color="#9b9b9b"/><stop offset=".243" stop-color="#7c7c7c"/><stop offset=".343" stop-color="#6a6a6a"/><stop offset=".4" stop-color="#636363"/><stop offset=".557" stop-color="#5a5a5a"/><stop offset=".743" stop-color="#404040"/><stop offset="1" stop-color="#3a3a3a"/></linearGradient>
<linearGradient id="g115" gradientUnits="userSpaceOnUse" x1="299.2" x2="369.6" spreadMethod="reflect"><stop offset="0" stop-color="#d7d7d7"/><stop offset=".021" stop-color="#d1d1d1"/><stop offset=".043" stop-color="#c7c7c7"/><stop offset=".086" stop-color="#a8a8a8"/><stop offset=".114" stop-color="#9b9b9b"/><stop offset=".236" stop-color="#7d7d7d"/><stop offset=".336" stop-color="#6a6a6a"/><stop offset=".393" stop-color="#636363"/><stop offset=".543" stop-color="#5a5a5a"/><stop offset=".729" stop-color="#404040"/><stop offset="1" stop-color="#3a3a3a"/></linearGradient>
<linearGradient id="g116" gradientUnits="userSpaceOnUse" x1="299.2" x2="369.6" spreadMethod="reflect"><stop offset="0" stop-color="#d7d7d7"/><stop offset=".021" stop-color="#d1d1d1"/><stop offset=".043" stop-color="#c7c7c7"/><stop offset=".086" stop-color="#a8a8a8"/><stop offset=".114" stop-color="#9a9a9a"/><stop offset=".243" stop-color="#7b7b7b"/><stop offset=".336" stop-color="#696969"/><stop offset=".386" stop-color="#636363"/><stop offset=".536" stop-color="#5a5a5a"/><stop offset=".721" stop-color="#404040"/><stop offset="1" stop-color="#3a3a3a"/></linearGradient>
<linearGradient id="g117" gradientUnits="userSpaceOnUse" x1="299.2" x2="369.6" spreadMethod="reflect"><stop offset="0" stop-color="#d7d7d7"/><stop offset=".036" stop-color="#cbcbcb"/><stop offset=".05" stop-color="#c3c3c3"/><stop offset=".086" stop-color="#a7a7a7"/><stop offset=".114" stop-color="#9a9a9a"/><stop offset=".243" stop-color="#7a7a7a"/><stop offset=".336" stop-color="#696969"/><stop offset=".386" stop-color="#636363"/><stop offset=".529" stop-color="#5a5a5a"/><stop offset=".707" stop-color="#404040"/><stop offset="1" stop-color="#3a3a3a"/></linearGradient>
<linearGradient id="g118" gradientUnits="userSpaceOnUse" x1="299.2" x2="369.6" spreadMethod="reflect"><stop offset="0" stop-color="#d8d8d8"/><stop offset=".014" stop-color="#d5d5d5"/><stop offset=".036" stop-color="#cbcbcb"/><stop offset=".05" stop-color="#c3c3c3"/><stop offset=".086" stop-color="#a7a7a7"/><stop offset=".114" stop-color="#999999"/><stop offset=".236" stop-color="#7b7b7b"/><stop offset=".329" stop-color="#696969"/><stop offset=".379" stop-color="#636363"/><stop offset=".521" stop-color="#5a5a5a"/><stop offset=".7" stop-color="#404040"/><stop offset="1" stop-color="#3a3a3a"/></linearGradient>
<linearGradient id="g119" gradientUnits="userSpaceOnUse" x1="299.2" x2="369.6" spreadMethod="reflect"><stop offset="0" stop-color="#d8d8d8"/><stop offset=".021" stop-color="#d2d2d2"/><stop offset=".043" stop-color="#c8c8c8"/><stop offset=".079" stop-color="#ababab"/><stop offset=".107" stop-color="#9b9b9b"/><stop offset=".221" stop-color="#7d7d7d"/><stop offset=".321" stop-color="#696969"/><stop offset=".371" stop-color="#636363"/><stop offset=".507" stop-color="#5b5b5b"/><stop offset=".686" stop-color="#404040"/><stop offset="1" stop-color="#393939"/></linearGradient>
<linearGradient id="g120" gradientUnits="userSpaceOnUse" x1="299.2" x2="369.6" spreadMethod="reflect"><stop offset="0" stop-color="#d9d9d9"/><stop offset=".014" stop-color="#d5d5d5"/><stop offset=".036" stop-color="#cccccc"/><stop offset=".05" stop-color="#c2c2c2"/><stop offset=".079" stop-color="#aaaaaa"/><stop offset=".107" stop-color="#9b9b9b"/><stop offset=".229" stop-color="#7a7a7a"/><stop offset=".321" stop-color="#686868"/><stop offset=".5" stop-color="#5a5a5a"/><stop offset=".671" stop-color="#404040"/><stop offset="1" stop-color="#393939"/></linearGradient>
<linearGradient id="g121" gradientUnits="userSpaceOnUse" x1="299.2" x2="369.6" spreadMethod="reflect"><stop offset="0" stop-color="#d9d9d9"/><stop offset=".014" stop-color="#d5d5d5"/><stop offset=".036" stop-color="#cbcbcb"/><stop offset=".079" stop-color="#a9a9a9"/><stop offset=".107" stop-color="#9a9a9a"/><stop offset=".221" stop-color="#7b7b7b"/><stop offset=".314" stop-color="#686868"/><stop offset=".486" stop-color="#5b5b5b"/><stop offset=".657" stop-color="#404040"/><stop offset="1" stop-color="#383838"/></linearGradient>
<linearGradient id="g122" gradientUnits="userSpaceOnUse" x1="299.2" x2="369.6" spreadMethod="reflect"><stop offset="0" stop-color="#d9d9d9"/><stop offset=".014" stop-color="#d5d5d5"/><stop offset=".036" stop-color="#cbcbcb"/><stop offset=".079" stop-color="#a8a8a8"/><stop offset=".107" stop-color="#999999"/><stop offset=".214" stop-color="#7b7b7b"/><stop offset=".307" stop-color="#686868"/><stop offset=".35" stop-color="#636363"/><stop offset=".479" stop-color="#5a5a5a"/><stop offset=".643" stop-color="#404040"/><stop offset="1" stop-color="#373737"/></linearGradient>
<linearGradient id="g123" gradientUnits="userSpaceOnUse" x1="299.2" x2="369.6" spreadMethod="reflect"><stop offset="0" stop-color="#d9d9d9"/><stop offset=".014" stop-color="#d5d5d5"/><stop offset=".036" stop-color="#cbcbcb"/><stop offset=".079" stop-color="#a7a7a7"/><stop offset=".107" stop-color="#999999"/><stop offset=".214" stop-color="#7b7b7b"/><stop offset=".307" stop-color="#676767"/><stop offset=".471" stop-color="#5a5a5a"/><stop offset=".636" stop-color="#404040"/><stop offset="1" stop-color="#363636"/></linearGradient>
<linearGradient id="g124" gradientUnits="userSpaceOnUse" x1="299.2" x2="369.6" spreadMethod="reflect"><stop offset="0" stop-color="#d9d9d9"/><stop offset=".014" stop-color="#d5d5d5"/><stop offset=".036" stop-color="#cacaca"/><stop offset=".079" stop-color="#a6a6a6"/><stop offset=".1" stop-color="#9b9b9b"/><stop offset=".2" stop-color="#7d7d7d"/><stop offset=".3" stop-color="#686868"/><stop offset=".464" stop-color="#5a5a5a"/><stop offset=".629" stop-color="#3f3f3f"/><stop offset="1" stop-color="#353535"/></linearGradient>
<linearGradient id="g125" gradientUnits="userSpaceOnUse" x1="299.2" x2="369.6" spreadMethod="reflect"><stop offset="0" stop-color="#d9d9d9"/><stop offset=".014" stop-color="#d5d5d5"/><stop offset=".036" stop-color="#cacaca"/><stop offset=".071" stop-color="#ababab"/><stop offset=".1" stop-color="#9a9a9a"/><stop offset=".207" stop-color="#7a7a7a"/><stop offset=".3" stop-color="#676767"/><stop offset=".457" stop-color="#5a5a5a"/><stop offset=".614" stop-color="#3f3f3f"/><stop offset="1" stop-color="#333333"/></linearGradient>
<linearGradient id="g126" gradientUnits="userSpaceOnUse" x1="299.2" x2="369.6" spreadMethod="reflect"><stop offset="0" stop-color="#d9d9d9"/><stop offset=".014" stop-color="#d5d5d5"/><stop offset=".036" stop-color="#c9c9c9"/><stop offset=".071" stop-color="#a9a9a9"/><stop offset=".1" stop-color="#999999"/><stop offset=".2" stop-color="#7b7b7b"/><stop offset=".293" stop-color="#676767"/><stop offset=".443" stop-color="#5b5b5b"/><stop offset=".607" stop-color="#3e3e3e"/><stop offset="1" stop-color="#2f2f2f"/></linearGradient>
<linearGradient id="g127" gradientUnits="userSpaceOnUse" x1="299.2" x2="369.6" spreadMethod="reflect"><stop offset="0" stop-color="#d9d9d9"/><stop offset=".014" stop-color="#d5d5d5"/><stop offset=".036" stop-color="#c9c9c9"/><stop offset=".071" stop-color="#a8a8a8"/><stop offset=".093" stop-color="#9b9b9b"/><stop offset=".179" stop-color="#808080"/><stop offset=".286" stop-color="#676767"/><stop offset=".436" stop-color="#5a5a5a"/><stop offset=".593" stop-color="#3e3e3e"/><stop offset=".85" stop-color="#303030"/><stop offset="1" stop-color="#2b2b2b"/></linearGradient>
<linearGradient id="g128" gradientUnits="userSpaceOnUse" x1="299.2" x2="369.6" spreadMethod="reflect"><stop offset="0" stop-color="#d9d9d9"/><stop offset=".029" stop-color="#cccccc"/><stop offset=".071" stop-color="#a6a6a6"/><stop offset=".093" stop-color="#9a9a9a"/><stop offset=".186" stop-color="#7c7c7c"/><stop offset=".279" stop-color="#676767"/><stop offset=".421" stop-color="#5a5a5a"/><stop offset=".571" stop-color="#3c3c3c"/><stop offset=".85" stop-color="#292929"/><stop offset="1" stop-color="#242424"/></linearGradient>
<linearGradient id="g129" gradientUnits="userSpaceOnUse" x1="299.2" x2="369.6" spreadMethod="reflect"><stop offset="0" stop-color="#d9d9d9"/><stop offset=".014" stop-color="#d4d4d4"/><stop offset=".029" stop-color="#cbcbcb"/><stop offset=".064" stop-color="#a8a8a8"/><stop offset=".086" stop-color="#9b9b9b"/><stop offset=".164" stop-color="#808080"/><stop offset=".264" stop-color="#676767"/><stop offset=".407" stop-color="#585858"/><stop offset=".55" stop-color="#3a3a3a"/><stop offset=".843" stop-color="#202020"/><stop offset="1" stop-color="#1a1a1a"/></linearGradient>
<linearGradient id="g130" gradientUnits="userSpaceOnUse" x1="299.2" x2="369.6" spreadMethod="reflect"><stop offset="0" stop-color="#d9d9d9"/><stop offset=".021" stop-color="#cecece"/><stop offset=".029" stop-color="#c9c9c9"/><stop offset=".057" stop-color="#aaaaaa"/><stop offset=".071" stop-color="#9f9f9f"/><stop offset=".086" stop-color="#989898"/><stop offset=".157" stop-color="#7f7f7f"/><stop offset=".257" stop-color="#656565"/><stop offset=".379" stop-color="#585858"/><stop offset=".521" stop-color="#373737"/><stop offset=".757" stop-color="#191919"/><stop offset="1" stop-color="#1a1a1a"/></linearGradient>
<linearGradient id="g131" gradientUnits="userSpaceOnUse" x1="299.2" x2="369.6" spreadMethod="reflect"><stop offset="0" stop-color="#d9d9d9"/><stop offset=".021" stop-color="#cbcbcb"/><stop offset=".043" stop-color="#b1b1b1"/><stop offset=".057" stop-color="#a3a3a3"/><stop offset=".093" stop-color="#909090"/><stop offset=".129" stop-color="#828282"/><stop offset=".236" stop-color="#646464"/><stop offset=".357" stop-color="#535353"/><stop offset=".471" stop-color="#333333"/><stop offset=".636" stop-color="#171717"/><stop offset="1" stop-color="#1a1a1a"/></linearGradient>
<linearGradient id="g132" gradientUnits="userSpaceOnUse" x1="299.2" x2="369.6" spreadMethod="reflect"><stop offset="0" stop-color="#d9d9d9"/><stop offset=".014" stop-color="#cdcdcd"/><stop offset=".029" stop-color="#b6b6b6"/><stop offset=".043" stop-color="#a4a4a4"/><stop offset=".086" stop-color="#888888"/><stop offset=".121" stop-color="#787878"/><stop offset=".2" stop-color="#616161"/><stop offset=".3" stop-color="#4f4f4f"/><stop offset=".4" stop-color="#2f2f2f"/><stop offset=".521" stop-color="#161616"/><stop offset="1" stop-color="#1a1a1a"/></linearGradient>
<linearGradient id="g133" gradientUnits="userSpaceOnUse" x1="299.2" x2="369.6" spreadMethod="reflect"><stop offset="0" stop-color="#d5d5d5"/><stop offset=".007" stop-color="#c9c9c9"/><stop offset=".014" stop-color="#b3b3b3"/><stop offset=".021" stop-color="#a3a3a3"/><stop offset=".029" stop-color="#999999"/><stop offset=".05" stop-color="#7f7f7f"/><stop offset=".064" stop-color="#717171"/><stop offset=".093" stop-color="#5f5f5f"/><stop offset=".121" stop-color="#565656"/><stop offset=".2" stop-color="#484848"/><stop offset=".271" stop-color="#2e2e2e"/><stop offset=".407" stop-color="#121212"/><stop offset="1" stop-color="#1a1a1a"/></linearGradient>
<linearGradient id="g134" gradientUnits="userSpaceOnUse" x1="299.2" x2="369.6" spreadMethod="reflect"><stop offset="0" stop-color="#090909"/><stop offset=".129" stop-color="#0a0a0a"/><stop offset=".6" stop-color="#161616"/><stop offset="1" stop-color="#1a1a1a"/></linearGradient>
<linearGradient id="g135" gradientUnits="userSpaceOnUse" x1="299.2" x2="369.6" spreadMethod="reflect"><stop offset="0" stop-color="#090909"/><stop offset=".179" stop-color="#090909"/><stop offset=".564" stop-color="#151515"/><stop offset="1" stop-color="#1a1a1a"/></linearGradient>
<linearGradient id="g136" gradientUnits="userSpaceOnUse" x1="299.2" x2="369.6" spreadMethod="reflect"><stop offset="0" stop-color="#090909"/><stop offset=".229" stop-color="#090909"/><stop offset=".579" stop-color="#151515"/><stop offset="1" stop-color="#1a1a1a"/></linearGradient>
<linearGradient id="g137" gradientUnits="userSpaceOnUse" x1="299.2" x2="369.6" spreadMethod="reflect"><stop offset="0" stop-color="#090909"/><stop offset=".271" stop-color="#090909"/><stop offset=".586" stop-color="#151515"/><stop offset="1" stop-color="#1a1a1a"/></linearGradient>
<linearGradient id="g138" gradientUnits="userSpaceOnUse" x1="299.2" x2="369.6" spreadMethod="reflect"><stop offset="0" stop-color="#090909"/><stop offset=".307" stop-color="#090909"/><stop offset=".593" stop-color="#141414"/><stop offset="1" stop-color="#1a1a1a"/></linearGradient>
<clipPath id="ca2"><rect x="229.8" y="39.3" width="135.4" height="214.0"/></clipPath>
<linearGradient id="g139" gradientUnits="userSpaceOnUse" x1="446.6" x2="519.2" spreadMethod="reflect"><stop offset="0" stop-color="#dbdbdb"/><stop offset=".007" stop-color="#929292"/><stop offset=".014" stop-color="#7f7f7f"/><stop offset=".028" stop-color="#717171"/><stop offset=".041" stop-color="#686868"/><stop offset=".062" stop-color="#606060"/><stop offset=".09" stop-color="#595959"/><stop offset=".345" stop-color="#373737"/><stop offset=".552" stop-color="#343434"/><stop offset=".834" stop-color="#292929"/><stop offset="1" stop-color="#272727"/></linearGradient>
<linearGradient id="g140" gradientUnits="userSpaceOnUse" x1="446.6" x2="519.2" spreadMethod="reflect"><stop offset="0" stop-color="#dbdbdb"/><stop offset=".007" stop-color="#cccccc"/><stop offset=".014" stop-color="#b1b1b1"/><stop offset=".021" stop-color="#9b9b9b"/><stop offset=".028" stop-color="#898989"/><stop offset=".034" stop-color="#7d7d7d"/><stop offset=".041" stop-color="#747474"/><stop offset=".055" stop-color="#696969"/><stop offset=".069" stop-color="#626262"/><stop offset=".11" stop-color="#585858"/><stop offset=".303" stop-color="#3b3b3b"/><stop offset=".345" stop-color="#373737"/><stop offset=".552" stop-color="#353535"/><stop offset=".834" stop-color="#2a2a2a"/><stop offset="1" stop-color="#272727"/></linearGradient>
<linearGradient id="g141" gradientUnits="userSpaceOnUse" x1="446.6" x2="519.2" spreadMethod="reflect"><stop offset="0" stop-color="#dbdbdb"/><stop offset=".007" stop-color="#d3d3d3"/><stop offset=".034" stop-color="#929292"/><stop offset=".041" stop-color="#868686"/><stop offset=".055" stop-color="#767676"/><stop offset=".069" stop-color="#6b6b6b"/><stop offset=".09" stop-color="#626262"/><stop offset=".138" stop-color="#565656"/><stop offset=".297" stop-color="#3d3d3d"/><stop offset=".345" stop-color="#383838"/><stop offset=".545" stop-color="#363636"/><stop offset=".834" stop-color="#2a2a2a"/><stop offset="1" stop-color="#282828"/></linearGradient>
<linearGradient id="g142" gradientUnits="userSpaceOnUse" x1="446.6" x2="519.2" spreadMethod="reflect"><stop offset="0" stop-color="#dbdbdb"/><stop offset=".007" stop-color="#d5d5d5"/><stop offset=".014" stop-color="#cacaca"/><stop offset=".034" stop-color="#9f9f9f"/><stop offset=".041" stop-color="#949494"/><stop offset=".055" stop-color="#828282"/><stop offset=".069" stop-color="#757575"/><stop offset=".103" stop-color="#636363"/><stop offset=".166" stop-color="#545454"/><stop offset=".297" stop-color="#3d3d3d"/><stop offset=".345" stop-color="#393939"/><stop offset=".545" stop-color="#373737"/><stop offset=".834" stop-color="#2b2b2b"/><stop offset="1" stop-color="#282828"/></linearGradient>
<linearGradient id="g143" gradientUnits="userSpaceOnUse" x1="446.6" x2="519.2" spreadMethod="reflect"><stop offset="0" stop-color="#dbdbdb"/><stop offset=".014" stop-color="#cccccc"/><stop offset=".034" stop-color="#a8a8a8"/><stop offset=".048" stop-color="#949494"/><stop offset=".069" stop-color="#7e7e7e"/><stop offset=".09" stop-color="#707070"/><stop offset=".11" stop-color="#666666"/><stop offset=".145" stop-color="#5c5c5c"/><stop offset=".255" stop-color="#454545"/><stop offset=".31" stop-color="#3d3d3d"/><stop offset=".359" stop-color="#393939"/><stop offset=".545" stop-color="#383838"/><stop offset=".834" stop-color="#2b2b2b"/><stop offset="1" stop-color="#292929"/></linearGradient>
<linearGradient id="g144" gradientUnits="userSpaceOnUse" x1="446.6" x2="519.2" spreadMethod="reflect"><stop offset="0" stop-color="#dbdbdb"/><stop offset=".014" stop-color="#cecece"/><stop offset=".034" stop-color="#adadad"/><stop offset=".055" stop-color="#939393"/><stop offset=".076" stop-color="#808080"/><stop offset=".097" stop-color="#737373"/><stop offset=".124" stop-color="#676767"/><stop offset=".159" stop-color="#5c5c5c"/><stop offset=".276" stop-color="#434343"/><stop offset=".359" stop-color="#3a3a3a"/><stop offset=".538" stop-color="#393939"/><stop offset=".834" stop-color="#2c2c2c"/><stop offset="1" stop-color="#292929"/></linearGradient>
<linearGradient id="g145" gradientUnits="userSpaceOnUse" x1="446.6" x2="519.2" spreadMethod="reflect"><stop offset="0" stop-color="#dbdbdb"/><stop offset=".014" stop-color="#cecece"/><stop offset=".034" stop-color="#b0b0b0"/><stop offset=".055" stop-color="#989898"/><stop offset=".076" stop-color="#858585"/><stop offset=".097" stop-color="#787878"/><stop offset=".124" stop-color="#6b6b6b"/><stop offset=".159" stop-color="#606060"/><stop offset=".283" stop-color="#434343"/><stop offset=".366" stop-color="#3b3b3b"/><stop offset=".538" stop-color="#3a3a3a"/><stop offset=".834" stop-color="#2c2c2c"/><stop offset="1" stop-color="#2a2a2a"/></linearGradient>
<linearGradient id="g146" gradientUnits="userSpaceOnUse" x1="446.6" x2="519.2" spreadMethod="reflect"><stop offset="0" stop-color="#dbdbdb"/><stop offset=".014" stop-color="#cfcfcf"/><stop offset=".034" stop-color="#b2b2b2"/><stop offset=".055" stop-color="#9b9b9b"/><stop offset=".076" stop-color="#8a8a8a"/><stop offset=".097" stop-color="#7d7d7d"/><stop offset=".131" stop-color="#6d6d6d"/><stop offset=".166" stop-color="#616161"/><stop offset=".283" stop-color="#454545"/><stop offset=".366" stop-color="#3d3d3d"/><stop offset=".531" stop-color="#3b3b3b"/><stop offset=".834" stop-color="#2d2d2d"/><stop offset="1" stop-color="#2a2a2a"/></linearGradient>
<linearGradient id="g147" gradientUnits="userSpaceOnUse" x1="446.6" x2="519.2" spreadMethod="reflect"><stop offset="0" stop-color="#dbdbdb"/><stop offset=".014" stop-color="#cfcfcf"/><stop offset=".034" stop-color="#b3b3b3"/><stop offset=".055" stop-color="#9e9e9e"/><stop offset=".076" stop-color="#8e8e8e"/><stop offset=".097" stop-color="#818181"/><stop offset=".131" stop-color="#717171"/><stop offset=".166" stop-color="#646464"/><stop offset=".283" stop-color="#474747"/><stop offset=".372" stop-color="#3e3e3e"/><stop offset=".545" stop-color="#3b3b3b"/><stop offset=".848" stop-color="#2d2d2d"/><stop offset="1" stop-color="#2b2b2b"/></linearGradient>
<linearGradient id="g148" gradientUnits="userSpaceOnUse" x1="446.6" x2="519.2" spreadMethod="reflect"><stop offset="0" stop-color="#dbdbdb"/><stop offset=".014" stop-color="#cfcfcf"/><stop offset=".034" stop-color="#b4b4b4"/><stop offset=".048" stop-color="#a6a6a6"/><stop offset=".069" stop-color="#959595"/><stop offset=".097" stop-color="#848484"/><stop offset=".131" stop-color="#747474"/><stop offset=".172" stop-color="#656565"/><stop offset=".283" stop-color="#494949"/><stop offset=".372" stop-color="#404040"/><stop offset=".545" stop-color="#3c3c3c"/><stop offset=".841" stop-color="#2d2d2d"/><stop offset="1" stop-color="#2b2b2b"/></linearGradient>
<linearGradient id="g149" gradientUnits="userSpaceOnUse" x1="446.6" x2="519.2" spreadMethod="reflect"><stop offset="0" stop-color="#dbdbdb"/><stop offset=".014" stop-color="#cfcfcf"/><stop offset=".034" stop-color="#b5b5b5"/><stop offset=".048" stop-color="#a7a7a7"/><stop offset=".069" stop-color="#979797"/><stop offset=".097" stop-color="#878787"/><stop offset=".138" stop-color="#757575"/><stop offset=".179" stop-color="#666666"/><stop offset=".283" stop-color="#4b4b4b"/><stop offset=".379" stop-color="#414141"/><stop offset=".545" stop-color="#3d3d3d"/><stop offset=".834" stop-color="#2e2e2e"/><stop offset="1" stop-color="#2b2b2b"/></linearGradient>
<linearGradient id="g150" gradientUnits="userSpaceOnUse" x1="446.6" x2="519.2" spreadMethod="reflect"><stop offset="0" stop-color="#dbdbdb"/><stop offset=".014" stop-color="#cfcfcf"/><stop offset=".034" stop-color="#b5b5b5"/><stop offset=".048" stop-color="#a8a8a8"/><stop offset=".069" stop-color="#999999"/><stop offset=".09" stop-color="#8d8d8d"/><stop offset=".131" stop-color="#7a7a7a"/><stop offset=".172" stop-color="#6b6b6b"/><stop offset=".241" stop-color="#565656"/><stop offset=".283" stop-color="#4d4d4d"/><stop offset=".386" stop-color="#434343"/><stop offset=".538" stop-color="#3e3e3e"/><stop offset=".834" stop-color="#2e2e2e"/><stop offset="1" stop-color="#2c2c2c"/></linearGradient>
<linearGradient id="g151" gradientUnits="userSpaceOnUse" x1="446.6" x2="519.2" spreadMethod="reflect"><stop offset="0" stop-color="#dbdbdb"/><stop offset=".014" stop-color="#d0d0d0"/><stop offset=".034" stop-color="#b6b6b6"/><stop offset=".048" stop-color="#a9a9a9"/><stop offset=".09" stop-color="#8e8e8e"/><stop offset=".179" stop-color="#6b6b6b"/><stop offset=".241" stop-color="#585858"/><stop offset=".283" stop-color="#4f4f4f"/><stop offset=".386" stop-color="#444444"/><stop offset=".828" stop-color="#2f2f2f"/><stop offset="1" stop-color="#2c2c2c"/></linearGradient>
<linearGradient id="g152" gradientUnits="userSpaceOnUse" x1="446.6" x2="519.2" spreadMethod="reflect"><stop offset="0" stop-color="#dbdbdb"/><stop offset=".014" stop-color="#d0d0d0"/><stop offset=".034" stop-color="#b6b6b6"/><stop offset=".048" stop-color="#aaaaaa"/><stop offset=".09" stop-color="#909090"/><stop offset=".186" stop-color="#6b6b6b"/><stop offset=".241" stop-color="#5b5b5b"/><stop offset=".283" stop-color="#525252"/><stop offset=".393" stop-color="#464646"/><stop offset=".821" stop-color="#303030"/><stop offset="1" stop-color="#2d2d2d"/></linearGradient>
<linearGradient id="g153" gradientUnits="userSpaceOnUse" x1="446.6" x2="519.2" spreadMethod="reflect"><stop offset="0" stop-color="#dbdbdb"/><stop offset=".014" stop-color="#d0d0d0"/><stop offset=".034" stop-color="#b7b7b7"/><stop offset=".048" stop-color="#aaaaaa"/><stop offset=".09" stop-color="#919191"/><stop offset=".138" stop-color="#7d7d7d"/><stop offset=".2" stop-color="#696969"/><stop offset=".29" stop-color="#535353"/><stop offset=".379" stop-color="#484848"/><stop offset=".731" stop-color="#353535"/><stop offset=".855" stop-color="#2f2f2f"/><stop offset="1" stop-color="#2d2d2d"/></linearGradient>
<linearGradient id="g154" gradientUnits="userSpaceOnUse" x1="446.6" x2="519.2" spreadMethod="reflect"><stop offset="0" stop-color="#dbdbdb"/><stop offset=".014" stop-color="#d0d0d0"/><stop offset=".034" stop-color="#b7b7b7"/><stop offset=".048" stop-color="#ababab"/><stop offset=".09" stop-color="#929292"/><stop offset=".2" stop-color="#6b6b6b"/><stop offset=".29" stop-color="#555555"/><stop offset=".386" stop-color="#494949"/><stop offset=".731" stop-color="#353535"/><stop offset=".855" stop-color="#2f2f2f"/><stop offset="1" stop-color="#2d2d2d"/></linearGradient>
<linearGradient id="g155" gradientUnits="userSpaceOnUse" x1="446.6" x2="519.2" spreadMethod="reflect"><stop offset="0" stop-color="#dbdbdb"/><stop offset=".014" stop-color="#d0d0d0"/><stop offset=".034" stop-color="#b7b7b7"/><stop offset=".048" stop-color="#ababab"/><stop offset=".09" stop-color="#939393"/><stop offset=".2" stop-color="#6c6c6c"/><stop offset=".297" stop-color="#565656"/><stop offset=".386" stop-color="#4b4b4b"/><stop offset=".731" stop-color="#353535"/><stop offset=".855" stop-color="#303030"/><stop offset="1" stop-color="#2e2e2e"/></linearGradient>
<linearGradient id="g156" gradientUnits="userSpaceOnUse" x1="446.6" x2="519.2" spreadMethod="reflect"><stop offset="0" stop-color="#dbdbdb"/><stop offset=".014" stop-color="#d0d0d0"/><stop offset=".034" stop-color="#b7b7b7"/><stop offset=".048" stop-color="#ababab"/><stop offset=".069" stop-color="#9e9e9e"/><stop offset=".09" stop-color="#939393"/><stop offset=".2" stop-color="#6e6e6e"/><stop offset=".297" stop-color="#585858"/><stop offset=".393" stop-color="#4c4c4c"/><stop offset=".724" stop-color="#363636"/><stop offset=".855" stop-color="#303030"/><stop offset="1" stop-color="#2e2e2e"/></linearGradient>
<linearGradient id="g157" gradientUnits="userSpaceOnUse" x1="446.6" x2="519.2" spreadMethod="reflect"><stop offset="0" stop-color="#dbdbdb"/><stop offset=".014" stop-color="#d0d0d0"/><stop offset=".034" stop-color="#b7b7b7"/><stop offset=".048" stop-color="#ababab"/><stop offset=".069" stop-color="#9e9e9e"/><stop offset=".09" stop-color="#949494"/><stop offset=".2" stop-color="#707070"/><stop offset=".303" stop-color="#595959"/><stop offset=".393" stop-color="#4d4d4d"/><stop offset=".724" stop-color="#373737"/><stop offset=".855" stop-color="#303030"/><stop offset="1" stop-color="#2e2e2e"/></linearGradient>
<linearGradient id="g158" gradientUnits="userSpaceOnUse" x1="446.6" x2="519.2" spreadMethod="reflect"><stop offset="0" stop-color="#dbdbdb"/><stop offset=".021" stop-color="#cdcdcd"/><stop offset=".041" stop-color="#b5b5b5"/><stop offset=".055" stop-color="#aaaaaa"/><stop offset=".09" stop-color="#969696"/><stop offset=".207" stop-color="#717171"/><stop offset=".317" stop-color="#595959"/><stop offset=".4" stop-color="#4e4e4e"/><stop offset=".724" stop-color="#373737"/><stop offset=".855" stop-color="#313131"/><stop offset="1" stop-color="#2e2e2e"/></linearGradient>
<linearGradient id="g159" gradientUnits="userSpaceOnUse" x1="446.6" x2="519.2" spreadMethod="reflect"><stop offset="0" stop-color="#dadada"/><stop offset=".014" stop-color="#d4d4d4"/><stop offset=".028" stop-color="#cbcbcb"/><stop offset=".055" stop-color="#b0b0b0"/><stop offset=".069" stop-color="#a6a6a6"/><stop offset=".103" stop-color="#949494"/><stop offset=".228" stop-color="#6f6f6f"/><stop offset=".331" stop-color="#595959"/><stop offset=".407" stop-color="#4f4f4f"/><stop offset=".731" stop-color="#373737"/><stop offset=".862" stop-color="#313131"/><stop offset="1" stop-color="#2f2f2f"/></linearGradient>
<linearGradient id="g160" gradientUnits="userSpaceOnUse" x1="446.6" x2="519.2" spreadMethod="reflect"><stop offset="0" stop-color="#d9d9d9"/><stop offset=".014" stop-color="#d4d4d4"/><stop offset=".034" stop-color="#c8c8c8"/><stop offset=".062" stop-color="#aeaeae"/><stop offset=".076" stop-color="#a5a5a5"/><stop offset=".11" stop-color="#949494"/><stop offset=".241" stop-color="#6f6f6f"/><stop offset=".345" stop-color="#595959"/><stop offset=".414" stop-color="#505050"/><stop offset=".738" stop-color="#383838"/><stop offset=".862" stop-color="#313131"/><stop offset="1" stop-color="#2f2f2f"/></linearGradient>
<linearGradient id="g161" gradientUnits="userSpaceOnUse" x1="446.6" x2="519.2" spreadMethod="reflect"><stop offset="0" stop-color="#d8d8d8"/><stop offset=".028" stop-color="#cdcdcd"/><stop offset=".041" stop-color="#c4c4c4"/><stop offset=".069" stop-color="#acacac"/><stop offset=".11" stop-color="#979797"/><stop offset=".248" stop-color="#707070"/><stop offset=".352" stop-color="#5a5a5a"/><stop offset=".421" stop-color="#515151"/><stop offset=".738" stop-color="#383838"/><stop offset=".869" stop-color="#323232"/><stop offset="1" stop-color="#2f2f2f"/></linearGradient>
<linearGradient id="g162" gradientUnits="userSpaceOnUse" x1="446.6" x2="519.2" spreadMethod="reflect"><stop offset="0" stop-color="#d7d7d7"/><stop offset=".028" stop-color="#cdcdcd"/><stop offset=".041" stop-color="#c5c5c5"/><stop offset=".076" stop-color="#a9a9a9"/><stop offset=".117" stop-color="#969696"/><stop offset=".262" stop-color="#6f6f6f"/><stop offset=".366" stop-color="#5a5a5a"/><stop offset=".428" stop-color="#525252"/><stop offset=".745" stop-color="#383838"/><stop offset=".869" stop-color="#323232"/><stop offset="1" stop-color="#303030"/></linearGradient>
<linearGradient id="g163" gradientUnits="userSpaceOnUse" x1="446.6" x2="519.2" spreadMethod="reflect"><stop offset="0" stop-color="#d6d6d6"/><stop offset=".028" stop-color="#cdcdcd"/><stop offset=".048" stop-color="#c0c0c0"/><stop offset=".076" stop-color="#aaaaaa"/><stop offset=".117" stop-color="#979797"/><stop offset=".269" stop-color="#6f6f6f"/><stop offset=".372" stop-color="#5a5a5a"/><stop offset=".434" stop-color="#535353"/><stop offset=".745" stop-color="#393939"/><stop offset=".869" stop-color="#323232"/><stop offset="1" stop-color="#303030"/></linearGradient>
<linearGradient id="g164" gradientUnits="userSpaceOnUse" x1="446.6" x2="519.2" spreadMethod="reflect"><stop offset="0" stop-color="#d5d5d5"/><stop offset=".014" stop-color="#d2d2d2"/><stop offset=".034" stop-color="#c9c9c9"/><stop offset=".048" stop-color="#c1c1c1"/><stop offset=".076" stop-color="#acacac"/><stop offset=".117" stop-color="#999999"/><stop offset=".276" stop-color="#707070"/><stop offset=".379" stop-color="#5b5b5b"/><stop offset=".434" stop-color="#545454"/><stop offset=".752" stop-color="#393939"/><stop offset=".876" stop-color="#333333"/><stop offset="1" stop-color="#303030"/></linearGradient>
<linearGradient id="g165" gradientUnits="userSpaceOnUse" x1="446.6" x2="519.2" spreadMethod="reflect"><stop offset="0" stop-color="#d3d3d3"/><stop offset=".034" stop-color="#c9c9c9"/><stop offset=".048" stop-color="#c2c2c2"/><stop offset=".083" stop-color="#a9a9a9"/><stop offset=".117" stop-color="#9b9b9b"/><stop offset=".283" stop-color="#717171"/><stop offset=".386" stop-color="#5d5d5d"/><stop offset=".441" stop-color="#555555"/><stop offset=".752" stop-color="#3a3a3a"/><stop offset=".876" stop-color="#333333"/><stop offset="1" stop-color="#313131"/></linearGradient>
<linearGradient id="g166" gradientUnits="userSpaceOnUse" x1="446.6" x2="519.2" spreadMethod="reflect"><stop offset="0" stop-color="#d2d2d2"/><stop offset=".034" stop-color="#c8c8c8"/><stop offset=".055" stop-color="#bebebe"/><stop offset=".083" stop-color="#aaaaaa"/><stop offset=".124" stop-color="#9a9a9a"/><stop offset=".297" stop-color="#707070"/><stop offset=".393" stop-color="#5d5d5d"/><stop offset=".759" stop-color="#3b3b3b"/><stop offset=".883" stop-color="#343434"/><stop offset="1" stop-color="#313131"/></linearGradient>
<linearGradient id="g167" gradientUnits="userSpaceOnUse" x1="446.6" x2="519.2" spreadMethod="reflect"><stop offset="0" stop-color="#d1d1d1"/><stop offset=".021" stop-color="#cdcdcd"/><stop offset=".041" stop-color="#c5c5c5"/><stop offset=".083" stop-color="#ababab"/><stop offset=".124" stop-color="#9b9b9b"/><stop offset=".303" stop-color="#717171"/><stop offset=".4" stop-color="#5e5e5e"/><stop offset=".766" stop-color="#3b3b3b"/><stop offset=".883" stop-color="#343434"/><stop offset="1" stop-color="#323232"/></linearGradient>
<linearGradient id="g168" gradientUnits="userSpaceOnUse" x1="446.6" x2="519.2" spreadMethod="reflect"><stop offset="0" stop-color="#d0d0d0"/><stop offset=".041" stop-color="#c4c4c4"/><stop offset=".055" stop-color="#bebebe"/><stop offset=".083" stop-color="#acacac"/><stop offset=".124" stop-color="#9c9c9c"/><stop offset=".31" stop-color="#727272"/><stop offset=".407" stop-color="#606060"/><stop offset=".766" stop-color="#3c3c3c"/><stop offset=".89" stop-color="#353535"/><stop offset="1" stop-color="#323232"/></linearGradient>
<linearGradient id="g169" gradientUnits="userSpaceOnUse" x1="446.6" x2="519.2" spreadMethod="reflect"><stop offset="0" stop-color="#cfcfcf"/><stop offset=".021" stop-color="#cbcbcb"/><stop offset=".048" stop-color="#c1c1c1"/><stop offset=".09" stop-color="#aaaaaa"/><stop offset=".124" stop-color="#9d9d9d"/><stop offset=".31" stop-color="#747474"/><stop offset=".407" stop-color="#626262"/><stop offset=".772" stop-color="#3d3d3d"/><stop offset=".89" stop-color="#363636"/><stop offset="1" stop-color="#333333"/></linearGradient>
<linearGradient id="g170" gradientUnits="userSpaceOnUse" x1="446.6" x2="519.2" spreadMethod="reflect"><stop offset="0" stop-color="#cecece"/><stop offset=".021" stop-color="#cacaca"/><stop offset=".048" stop-color="#c1c1c1"/><stop offset=".09" stop-color="#aaaaaa"/><stop offset=".131" stop-color="#9c9c9c"/><stop offset=".317" stop-color="#747474"/><stop offset=".414" stop-color="#636363"/><stop offset=".772" stop-color="#3e3e3e"/><stop offset=".89" stop-color="#373737"/><stop offset="1" stop-color="#343434"/></linearGradient>
<linearGradient id="g171" gradientUnits="userSpaceOnUse" x1="446.6" x2="519.2" spreadMethod="reflect"><stop offset="0" stop-color="#cdcdcd"/><stop offset=".048" stop-color="#c1c1c1"/><stop offset=".09" stop-color="#ababab"/><stop offset=".131" stop-color="#9d9d9d"/><stop offset=".317" stop-color="#767676"/><stop offset=".414" stop-color="#656565"/><stop offset=".779" stop-color="#3f3f3f"/><stop offset=".897" stop-color="#373737"/><stop offset="1" stop-color="#353535"/></linearGradient>
<linearGradient id="g172" gradientUnits="userSpaceOnUse" x1="446.6" x2="519.2" spreadMethod="reflect"><stop offset="0" stop-color="#cccccc"/><stop offset=".048" stop-color="#c1c1c1"/><stop offset=".09" stop-color="#ababab"/><stop offset=".131" stop-color="#9d9d9d"/><stop offset=".31" stop-color="#787878"/><stop offset=".414" stop-color="#666666"/><stop offset=".779" stop-color="#404040"/><stop offset=".897" stop-color="#383838"/><stop offset="1" stop-color="#353535"/></linearGradient>
<linearGradient id="g173" gradientUnits="userSpaceOnUse" x1="446.6" x2="519.2" spreadMethod="reflect"><stop offset="0" stop-color="#cccccc"/><stop offset=".028" stop-color="#c7c7c7"/><stop offset=".055" stop-color="#bebebe"/><stop offset=".09" stop-color="#ababab"/><stop offset=".131" stop-color="#9d9d9d"/><stop offset=".31" stop-color="#797979"/><stop offset=".414" stop-color="#676767"/><stop offset=".779" stop-color="#404040"/><stop offset=".897" stop-color="#393939"/><stop offset="1" stop-color="#363636"/></linearGradient>
<linearGradient id="g174" gradientUnits="userSpaceOnUse" x1="446.6" x2="519.2" spreadMethod="reflect"><stop offset="0" stop-color="#cccccc"/><stop offset=".028" stop-color="#c7c7c7"/><stop offset=".055" stop-color="#bebebe"/><stop offset=".09" stop-color="#ababab"/><stop offset=".131" stop-color="#9d9d9d"/><stop offset=".303" stop-color="#7a7a7a"/><stop offset=".407" stop-color="#686868"/><stop offset=".779" stop-color="#404040"/><stop offset=".89" stop-color="#393939"/><stop offset="1" stop-color="#363636"/></linearGradient>
<linearGradient id="g175" gradientUnits="userSpaceOnUse" x1="446.6" x2="519.2" spreadMethod="reflect"><stop offset="0" stop-color="#cccccc"/><stop offset=".028" stop-color="#c7c7c7"/><stop offset=".055" stop-color="#bebebe"/><stop offset=".09" stop-color="#ababab"/><stop offset=".131" stop-color="#9d9d9d"/><stop offset=".303" stop-color="#797979"/><stop offset=".407" stop-color="#676767"/><stop offset=".772" stop-color="#404040"/><stop offset=".883" stop-color="#393939"/><stop offset="1" stop-color="#363636"/></linearGradient>
<linearGradient id="g176" gradientUnits="userSpaceOnUse" x1="446.6" x2="519.2" spreadMethod="reflect"><stop offset="0" stop-color="#cccccc"/><stop offset=".048" stop-color="#c1c1c1"/><stop offset=".09" stop-color="#aaaaaa"/><stop offset=".131" stop-color="#9c9c9c"/><stop offset=".297" stop-color="#7a7a7a"/><stop offset=".4" stop-color="#686868"/><stop offset=".759" stop-color="#414141"/><stop offset=".876" stop-color="#393939"/><stop offset="1" stop-color="#363636"/></linearGradient>
<linearGradient id="g177" gradientUnits="userSpaceOnUse" x1="446.6" x2="519.2" spreadMethod="reflect"><stop offset="0" stop-color="#cecece"/><stop offset=".021" stop-color="#cacaca"/><stop offset=".048" stop-color="#c1c1c1"/><stop offset=".09" stop-color="#aaaaaa"/><stop offset=".131" stop-color="#9c9c9c"/><stop offset=".297" stop-color="#797979"/><stop offset=".393" stop-color="#686868"/><stop offset=".752" stop-color="#404040"/><stop offset=".862" stop-color="#393939"/><stop offset="1" stop-color="#363636"/></linearGradient>
<linearGradient id="g178" gradientUnits="userSpaceOnUse" x1="446.6" x2="519.2" spreadMethod="reflect"><stop offset="0" stop-color="#cfcfcf"/><stop offset=".021" stop-color="#cccccc"/><stop offset=".048" stop-color="#c2c2c2"/><stop offset=".09" stop-color="#aaaaaa"/><stop offset=".124" stop-color="#9d9d9d"/><stop offset=".283" stop-color="#7a7a7a"/><stop offset=".386" stop-color="#676767"/><stop offset=".738" stop-color="#404040"/><stop offset=".848" stop-color="#383838"/><stop offset="1" stop-color="#353535"/></linearGradient>
<linearGradient id="g179" gradientUnits="userSpaceOnUse" x1="446.6" x2="519.2" spreadMethod="reflect"><stop offset="0" stop-color="#d1d1d1"/><stop offset=".021" stop-color="#cdcdcd"/><stop offset=".048" stop-color="#c3c3c3"/><stop offset=".083" stop-color="#adadad"/><stop offset=".124" stop-color="#9c9c9c"/><stop offset=".283" stop-color="#797979"/><stop offset=".379" stop-color="#676767"/><stop offset=".745" stop-color="#3e3e3e"/><stop offset=".834" stop-color="#383838"/><stop offset="1" stop-color="#353535"/></linearGradient>
<linearGradient id="g180" gradientUnits="userSpaceOnUse" x1="446.6" x2="519.2" spreadMethod="reflect"><stop offset="0" stop-color="#d2d2d2"/><stop offset=".021" stop-color="#cecece"/><stop offset=".041" stop-color="#c7c7c7"/><stop offset=".055" stop-color="#c0c0c0"/><stop offset=".083" stop-color="#acacac"/><stop offset=".124" stop-color="#9c9c9c"/><stop offset=".276" stop-color="#797979"/><stop offset=".372" stop-color="#676767"/><stop offset=".738" stop-color="#3d3d3d"/><stop offset=".814" stop-color="#383838"/><stop offset="1" stop-color="#353535"/></linearGradient>
<linearGradient id="g181" gradientUnits="userSpaceOnUse" x1="446.6" x2="519.2" spreadMethod="reflect"><stop offset="0" stop-color="#d4d4d4"/><stop offset=".021" stop-color="#d0d0d0"/><stop offset=".041" stop-color="#c7c7c7"/><stop offset=".055" stop-color="#c0c0c0"/><stop offset=".083" stop-color="#acacac"/><stop offset=".117" stop-color="#9d9d9d"/><stop offset=".262" stop-color="#7a7a7a"/><stop offset=".366" stop-color="#666666"/><stop offset=".641" stop-color="#444444"/><stop offset=".731" stop-color="#3c3c3c"/><stop offset=".8" stop-color="#383838"/><stop offset="1" stop-color="#343434"/></linearGradient>
<linearGradient id="g182" gradientUnits="userSpaceOnUse" x1="446.6" x2="519.2" spreadMethod="reflect"><stop offset="0" stop-color="#d5d5d5"/><stop offset=".021" stop-color="#d0d0d0"/><stop offset=".041" stop-color="#c8c8c8"/><stop offset=".055" stop-color="#c0c0c0"/><stop offset=".083" stop-color="#ababab"/><stop offset=".117" stop-color="#9c9c9c"/><stop offset=".262" stop-color="#797979"/><stop offset=".359" stop-color="#666666"/><stop offset=".628" stop-color="#444444"/><stop offset=".717" stop-color="#3c3c3c"/><stop offset=".793" stop-color="#383838"/><stop offset="1" stop-color="#343434"/></linearGradient>
<linearGradient id="g183" gradientUnits="userSpaceOnUse" x1="446.6" x2="519.2" spreadMethod="reflect"><stop offset="0" stop-color="#d6d6d6"/><stop offset=".021" stop-color="#d1d1d1"/><stop offset=".041" stop-color="#c8c8c8"/><stop offset=".055" stop-color="#c0c0c0"/><stop offset=".083" stop-color="#aaaaaa"/><stop offset=".117" stop-color="#9b9b9b"/><stop offset=".255" stop-color="#797979"/><stop offset=".352" stop-color="#666666"/><stop offset=".614" stop-color="#444444"/><stop offset=".703" stop-color="#3b3b3b"/><stop offset=".793" stop-color="#373737"/><stop offset="1" stop-color="#343434"/></linearGradient>
<linearGradient id="g184" gradientUnits="userSpaceOnUse" x1="446.6" x2="519.2" spreadMethod="reflect"><stop offset="0" stop-color="#d6d6d6"/><stop offset=".021" stop-color="#d2d2d2"/><stop offset=".041" stop-color="#c9c9c9"/><stop offset=".083" stop-color="#aaaaaa"/><stop offset=".117" stop-color="#9a9a9a"/><stop offset=".248" stop-color="#797979"/><stop offset=".345" stop-color="#656565"/><stop offset=".6" stop-color="#434343"/><stop offset=".69" stop-color="#3b3b3b"/><stop offset="1" stop-color="#333333"/></linearGradient>
<linearGradient id="g185" gradientUnits="userSpaceOnUse" x1="446.6" x2="519.2" spreadMethod="reflect"><stop offset="0" stop-color="#d7d7d7"/><stop offset=".021" stop-color="#d3d3d3"/><stop offset=".041" stop-color="#c9c9c9"/><stop offset=".055" stop-color="#c0c0c0"/><stop offset=".076" stop-color="#adadad"/><stop offset=".11" stop-color="#9c9c9c"/><stop offset=".241" stop-color="#797979"/><stop offset=".338" stop-color="#656565"/><stop offset=".586" stop-color="#434343"/><stop offset=".676" stop-color="#3a3a3a"/><stop offset="1" stop-color="#333333"/></linearGradient>
<linearGradient id="g186" gradientUnits="userSpaceOnUse" x1="446.6" x2="519.2" spreadMethod="reflect"><stop offset="0" stop-color="#d8d8d8"/><stop offset=".014" stop-color="#d5d5d5"/><stop offset=".034" stop-color="#cdcdcd"/><stop offset=".048" stop-color="#c5c5c5"/><stop offset=".076" stop-color="#adadad"/><stop offset=".11" stop-color="#9b9b9b"/><stop offset=".234" stop-color="#797979"/><stop offset=".331" stop-color="#656565"/><stop offset=".572" stop-color="#434343"/><stop offset=".662" stop-color="#3a3a3a"/><stop offset="1" stop-color="#333333"/></linearGradient>
<linearGradient id="g187" gradientUnits="userSpaceOnUse" x1="446.6" x2="519.2" spreadMethod="reflect"><stop offset="0" stop-color="#d8d8d8"/><stop offset=".014" stop-color="#d6d6d6"/><stop offset=".034" stop-color="#cdcdcd"/><stop offset=".048" stop-color="#c4c4c4"/><stop offset=".076" stop-color="#acacac"/><stop offset=".11" stop-color="#9a9a9a"/><stop offset=".228" stop-color="#797979"/><stop offset=".317" stop-color="#656565"/><stop offset=".552" stop-color="#444444"/><stop offset=".648" stop-color="#3a3a3a"/><stop offset="1" stop-color="#323232"/></linearGradient>
<linearGradient id="g188" gradientUnits="userSpaceOnUse" x1="446.6" x2="519.2" spreadMethod="reflect"><stop offset="0" stop-color="#d9d9d9"/><stop offset=".014" stop-color="#d6d6d6"/><stop offset=".034" stop-color="#cdcdcd"/><stop offset=".048" stop-color="#c4c4c4"/><stop offset=".076" stop-color="#ababab"/><stop offset=".103" stop-color="#9c9c9c"/><stop offset=".221" stop-color="#797979"/><stop offset=".31" stop-color="#656565"/><stop offset=".538" stop-color="#434343"/><stop offset=".634" stop-color="#3a3a3a"/><stop offset="1" stop-color="#323232"/></linearGradient>
<linearGradient id="g189" gradientUnits="userSpaceOnUse" x1="446.6" x2="519.2" spreadMethod="reflect"><stop offset="0" stop-color="#d9d9d9"/><stop offset=".014" stop-color="#d6d6d6"/><stop offset=".034" stop-color="#cccccc"/><stop offset=".048" stop-color="#c3c3c3"/><stop offset=".076" stop-color="#a9a9a9"/><stop offset=".103" stop-color="#9b9b9b"/><stop offset=".214" stop-color="#7a7a7a"/><stop offset=".303" stop-color="#656565"/><stop offset=".531" stop-color="#434343"/><stop offset=".621" stop-color="#393939"/><stop offset="1" stop-color="#303030"/></linearGradient>
<linearGradient id="g190" gradientUnits="userSpaceOnUse" x1="446.6" x2="519.2" spreadMethod="reflect"><stop offset="0" stop-color="#d9d9d9"/><stop offset=".014" stop-color="#d6d6d6"/><stop offset=".034" stop-color="#cccccc"/><stop offset=".048" stop-color="#c1c1c1"/><stop offset=".069" stop-color="#adadad"/><stop offset=".103" stop-color="#9a9a9a"/><stop offset=".207" stop-color="#7a7a7a"/><stop offset=".297" stop-color="#646464"/><stop offset=".51" stop-color="#434343"/><stop offset=".6" stop-color="#393939"/><stop offset="1" stop-color="#2e2e2e"/></linearGradient>
<linearGradient id="g191" gradientUnits="userSpaceOnUse" x1="446.6" x2="519.2" spreadMethod="reflect"><stop offset="0" stop-color="#d9d9d9"/><stop offset=".014" stop-color="#d6d6d6"/><stop offset=".034" stop-color="#cbcbcb"/><stop offset=".069" stop-color="#ababab"/><stop offset=".097" stop-color="#9b9b9b"/><stop offset=".2" stop-color="#7a7a7a"/><stop offset=".29" stop-color="#646464"/><stop offset=".497" stop-color="#434343"/><stop offset=".586" stop-color="#383838"/><stop offset=".786" stop-color="#303030"/><stop offset="1" stop-color="#2b2b2b"/></linearGradient>
<linearGradient id="g192" gradientUnits="userSpaceOnUse" x1="446.6" x2="519.2" spreadMethod="reflect"><stop offset="0" stop-color="#d9d9d9"/><stop offset=".014" stop-color="#d5d5d5"/><stop offset=".034" stop-color="#cacaca"/><stop offset=".069" stop-color="#aaaaaa"/><stop offset=".097" stop-color="#9a9a9a"/><stop offset=".193" stop-color="#7b7b7b"/><stop offset=".283" stop-color="#646464"/><stop offset=".49" stop-color="#424242"/><stop offset=".579" stop-color="#373737"/><stop offset=".828" stop-color="#2c2c2c"/><stop offset="1" stop-color="#282828"/></linearGradient>
<linearGradient id="g193" gradientUnits="userSpaceOnUse" x1="446.6" x2="519.2" spreadMethod="reflect"><stop offset="0" stop-color="#d9d9d9"/><stop offset=".014" stop-color="#d5d5d5"/><stop offset=".028" stop-color="#cecece"/><stop offset=".041" stop-color="#c3c3c3"/><stop offset=".055" stop-color="#b4b4b4"/><stop offset=".069" stop-color="#a8a8a8"/><stop offset=".097" stop-color="#999999"/><stop offset=".193" stop-color="#797979"/><stop offset=".276" stop-color="#646464"/><stop offset=".476" stop-color="#414141"/><stop offset=".566" stop-color="#363636"/><stop offset=".828" stop-color="#272727"/><stop offset="1" stop-color="#232323"/></linearGradient>
<linearGradient id="g194" gradientUnits="userSpaceOnUse" x1="446.6" x2="519.2" spreadMethod="reflect"><stop offset="0" stop-color="#d9d9d9"/><stop offset=".014" stop-color="#d5d5d5"/><stop offset=".028" stop-color="#cdcdcd"/><stop offset=".062" stop-color="#ababab"/><stop offset=".09" stop-color="#9a9a9a"/><stop offset=".179" stop-color="#7b7b7b"/><stop offset=".269" stop-color="#636363"/><stop offset=".462" stop-color="#404040"/><stop offset=".545" stop-color="#343434"/><stop offset=".828" stop-color="#202020"/><stop offset="1" stop-color="#1c1c1c"/></linearGradient>
<linearGradient id="g195" gradientUnits="userSpaceOnUse" x1="446.6" x2="519.2" spreadMethod="reflect"><stop offset="0" stop-color="#d9d9d9"/><stop offset=".014" stop-color="#d4d4d4"/><stop offset=".028" stop-color="#cbcbcb"/><stop offset=".048" stop-color="#b3b3b3"/><stop offset=".069" stop-color="#a2a2a2"/><stop offset=".131" stop-color="#878787"/><stop offset=".241" stop-color="#666666"/><stop offset=".441" stop-color="#3d3d3d"/><stop offset=".524" stop-color="#313131"/><stop offset=".759" stop-color="#191919"/><stop offset="1" stop-color="#1a1a1a"/></linearGradient>
<linearGradient id="g196" gradientUnits="userSpaceOnUse" x1="446.6" x2="519.2" spreadMethod="reflect"><stop offset="0" stop-color="#d9d9d9"/><stop offset=".021" stop-color="#cdcdcd"/><stop offset=".028" stop-color="#c7c7c7"/><stop offset=".041" stop-color="#b4b4b4"/><stop offset=".062" stop-color="#a2a2a2"/><stop offset=".124" stop-color="#858585"/><stop offset=".228" stop-color="#646464"/><stop offset=".434" stop-color="#353535"/><stop offset=".641" stop-color="#171717"/><stop offset="1" stop-color="#1a1a1a"/></linearGradient>
<linearGradient id="g197" gradientUnits="userSpaceOnUse" x1="446.6" x2="519.2" spreadMethod="reflect"><stop offset="0" stop-color="#d9d9d9"/><stop offset=".014" stop-color="#cfcfcf"/><stop offset=".021" stop-color="#c7c7c7"/><stop offset=".034" stop-color="#b1b1b1"/><stop offset=".048" stop-color="#a3a3a3"/><stop offset=".083" stop-color="#8d8d8d"/><stop offset=".11" stop-color="#7f7f7f"/><stop offset=".193" stop-color="#626262"/><stop offset=".248" stop-color="#555555"/><stop offset=".352" stop-color="#373737"/><stop offset=".407" stop-color="#2b2b2b"/><stop offset=".538" stop-color="#161616"/><stop offset="1" stop-color="#1a1a1a"/></linearGradient>
<linearGradient id="g198" gradientUnits="userSpaceOnUse" x1="446.6" x2="519.2" spreadMethod="reflect"><stop offset="0" stop-color="#d7d7d7"/><stop offset=".007" stop-color="#cfcfcf"/><stop offset=".021" stop-color="#aeaeae"/><stop offset=".028" stop-color="#a3a3a3"/><stop offset=".062" stop-color="#7e7e7e"/><stop offset=".09" stop-color="#6a6a6a"/><stop offset=".124" stop-color="#5b5b5b"/><stop offset=".172" stop-color="#4f4f4f"/><stop offset=".262" stop-color="#323232"/><stop offset=".303" stop-color="#282828"/><stop offset=".421" stop-color="#131313"/><stop offset="1" stop-color="#1a1a1a"/></linearGradient>
<linearGradient id="g199" gradientUnits="userSpaceOnUse" x1="446.6" x2="519.2" spreadMethod="reflect"><stop offset="0" stop-color="#7b7b7b"/><stop offset=".007" stop-color="#5b5b5b"/><stop offset=".014" stop-color="#494949"/><stop offset=".021" stop-color="#3b3b3b"/><stop offset=".034" stop-color="#292929"/><stop offset=".048" stop-color="#202020"/><stop offset=".09" stop-color="#191919"/><stop offset=".193" stop-color="#151515"/><stop offset=".262" stop-color="#0e0e0e"/><stop offset=".6" stop-color="#161616"/><stop offset="1" stop-color="#1a1a1a"/></linearGradient>
<linearGradient id="g200" gradientUnits="userSpaceOnUse" x1="446.6" x2="519.2" spreadMethod="reflect"><stop offset="0" stop-color="#090909"/><stop offset=".145" stop-color="#0a0a0a"/><stop offset=".6" stop-color="#161616"/><stop offset="1" stop-color="#1a1a1a"/></linearGradient>
<linearGradient id="g201" gradientUnits="userSpaceOnUse" x1="446.6" x2="519.2" spreadMethod="reflect"><stop offset="0" stop-color="#090909"/><stop offset=".193" stop-color="#090909"/><stop offset=".566" stop-color="#151515"/><stop offset="1" stop-color="#1a1a1a"/></linearGradient>
<linearGradient id="g202" gradientUnits="userSpaceOnUse" x1="446.6" x2="519.2" spreadMethod="reflect"><stop offset="0" stop-color="#090909"/><stop offset=".234" stop-color="#090909"/><stop offset=".572" stop-color="#151515"/><stop offset="1" stop-color="#1a1a1a"/></linearGradient>
<linearGradient id="g203" gradientUnits="userSpaceOnUse" x1="446.6" x2="519.2" spreadMethod="reflect"><stop offset="0" stop-color="#090909"/><stop offset=".276" stop-color="#090909"/><stop offset=".586" stop-color="#151515"/><stop offset="1" stop-color="#1a1a1a"/></linearGradient>
<linearGradient id="g204" gradientUnits="userSpaceOnUse" x1="446.6" x2="519.2" spreadMethod="reflect"><stop offset="0" stop-color="#090909"/><stop offset=".303" stop-color="#090909"/><stop offset=".586" stop-color="#151515"/><stop offset="1" stop-color="#1a1a1a"/></linearGradient>
<clipPath id="ca3"><rect x="375.0" y="39.3" width="139.2" height="214.0"/></clipPath>
<linearGradient id="g205" gradientUnits="userSpaceOnUse" x1="148.9" x2="231.6" spreadMethod="reflect"><stop offset="0" stop-color="#c1c1c1"/><stop offset=".097" stop-color="#bbbbbb"/><stop offset=".303" stop-color="#b4b4b4"/><stop offset=".406" stop-color="#a6a6a6"/><stop offset=".479" stop-color="#959595"/><stop offset=".515" stop-color="#888888"/><stop offset=".63" stop-color="#4e4e4e"/><stop offset=".715" stop-color="#1a1a1a"/><stop offset=".77" stop-color="#030303"/><stop offset=".788" stop-color="#000000"/><stop offset="1" stop-color="#000000"/></linearGradient>
<linearGradient id="g206" gradientUnits="userSpaceOnUse" x1="148.9" x2="231.6" spreadMethod="reflect"><stop offset="0" stop-color="#c3c3c3"/><stop offset=".103" stop-color="#bbbbbb"/><stop offset=".303" stop-color="#b5b5b5"/><stop offset=".394" stop-color="#a8a8a8"/><stop offset=".473" stop-color="#969696"/><stop offset=".509" stop-color="#8a8a8a"/><stop offset=".63" stop-color="#4c4c4c"/><stop offset=".709" stop-color="#1b1b1b"/><stop offset=".77" stop-color="#010101"/><stop offset="1" stop-color="#000000"/></linearGradient>
<linearGradient id="g207" gradientUnits="userSpaceOnUse" x1="148.9" x2="231.6" spreadMethod="reflect"><stop offset="0" stop-color="#c5c5c5"/><stop offset=".097" stop-color="#bcbcbc"/><stop offset=".303" stop-color="#b5b5b5"/><stop offset=".388" stop-color="#aaaaaa"/><stop offset=".473" stop-color="#969696"/><stop offset=".509" stop-color="#898989"/><stop offset=".624" stop-color="#4e4e4e"/><stop offset=".709" stop-color="#1a1a1a"/><stop offset=".764" stop-color="#020202"/><stop offset=".782" stop-color="#000000"/><stop offset="1" stop-color="#000000"/></linearGradient>
<linearGradient id="g208" gradientUnits="userSpaceOnUse" x1="148.9" x2="231.6" spreadMethod="reflect"><stop offset="0" stop-color="#c8c8c8"/><stop offset=".036" stop-color="#c2c2c2"/><stop offset=".097" stop-color="#bdbdbd"/><stop offset=".309" stop-color="#b5b5b5"/><stop offset=".388" stop-color="#aaaaaa"/><stop offset=".473" stop-color="#959595"/><stop offset=".509" stop-color="#888888"/><stop offset=".624" stop-color="#4d4d4d"/><stop offset=".703" stop-color="#1b1b1b"/><stop offset=".764" stop-color="#010101"/><stop offset="1" stop-color="#000000"/></linearGradient>
<linearGradient id="g209" gradientUnits="userSpaceOnUse" x1="148.9" x2="231.6" spreadMethod="reflect"><stop offset="0" stop-color="#cacaca"/><stop offset=".042" stop-color="#c3c3c3"/><stop offset=".091" stop-color="#bebebe"/><stop offset=".321" stop-color="#b4b4b4"/><stop offset=".388" stop-color="#aaaaaa"/><stop offset=".467" stop-color="#969696"/><stop offset=".497" stop-color="#8c8c8c"/><stop offset=".552" stop-color="#727272"/><stop offset=".63" stop-color="#484848"/><stop offset=".673" stop-color="#2b2b2b"/><stop offset=".703" stop-color="#1a1a1a"/><stop offset=".764" stop-color="#010101"/><stop offset="1" stop-color="#000000"/></linearGradient>
<linearGradient id="g210" gradientUnits="userSpaceOnUse" x1="148.9" x2="231.6" spreadMethod="reflect"><stop offset="0" stop-color="#cccccc"/><stop offset=".042" stop-color="#c4c4c4"/><stop offset=".091" stop-color="#bfbfbf"/><stop offset=".321" stop-color="#b4b4b4"/><stop offset=".388" stop-color="#aaaaaa"/><stop offset=".467" stop-color="#969696"/><stop offset=".497" stop-color="#8c8c8c"/><stop offset=".552" stop-color="#727272"/><stop offset=".63" stop-color="#474747"/><stop offset=".697" stop-color="#1c1c1c"/><stop offset=".745" stop-color="#060606"/><stop offset=".764" stop-color="#000000"/><stop offset="1" stop-color="#000000"/></linearGradient>
<linearGradient id="g211" gradientUnits="userSpaceOnUse" x1="148.9" x2="231.6" spreadMethod="reflect"><stop offset="0" stop-color="#cecece"/><stop offset=".048" stop-color="#c4c4c4"/><stop offset=".091" stop-color="#bfbfbf"/><stop offset=".321" stop-color="#b4b4b4"/><stop offset=".388" stop-color="#aaaaaa"/><stop offset=".467" stop-color="#969696"/><stop offset=".497" stop-color="#8c8c8c"/><stop offset=".552" stop-color="#717171"/><stop offset=".624" stop-color="#4a4a4a"/><stop offset=".697" stop-color="#1b1b1b"/><stop offset=".758" stop-color="#010101"/><stop offset="1" stop-color="#000000"/></linearGradient>
<linearGradient id="g212" gradientUnits="userSpaceOnUse" x1="148.9" x2="231.6" spreadMethod="reflect"><stop offset="0" stop-color="#d0d0d0"/><stop offset=".048" stop-color="#c5c5c5"/><stop offset=".091" stop-color="#c0c0c0"/><stop offset=".327" stop-color="#b3b3b3"/><stop offset=".388" stop-color="#aaaaaa"/><stop offset=".467" stop-color="#959595"/><stop offset=".497" stop-color="#8b8b8b"/><stop offset=".552" stop-color="#707070"/><stop offset=".624" stop-color="#494949"/><stop offset=".697" stop-color="#1b1b1b"/><stop offset=".758" stop-color="#010101"/><stop offset="1" stop-color="#000000"/></linearGradient>
<linearGradient id="g213" gradientUnits="userSpaceOnUse" x1="148.9" x2="231.6" spreadMethod="reflect"><stop offset="0" stop-color="#d2d2d2"/><stop offset=".048" stop-color="#c6c6c6"/><stop offset=".085" stop-color="#c1c1c1"/><stop offset=".327" stop-color="#b3b3b3"/><stop offset=".388" stop-color="#aaaaaa"/><stop offset=".461" stop-color="#979797"/><stop offset=".497" stop-color="#8b8b8b"/><stop offset=".545" stop-color="#737373"/><stop offset=".624" stop-color="#484848"/><stop offset=".667" stop-color="#2b2b2b"/><stop offset=".697" stop-color="#1a1a1a"/><stop offset=".739" stop-color="#060606"/><stop offset=".758" stop-color="#010101"/><stop offset="1" stop-color="#000000"/></linearGradient>
<linearGradient id="g214" gradientUnits="userSpaceOnUse" x1="148.9" x2="231.6" spreadMethod="reflect"><stop offset="0" stop-color="#d4d4d4"/><stop offset=".048" stop-color="#c8c8c8"/><stop offset=".085" stop-color="#c2c2c2"/><stop offset=".333" stop-color="#b2b2b2"/><stop offset=".388" stop-color="#a9a9a9"/><stop offset=".461" stop-color="#979797"/><stop offset=".497" stop-color="#8a8a8a"/><stop offset=".552" stop-color="#6f6f6f"/><stop offset=".624" stop-color="#474747"/><stop offset=".691" stop-color="#1c1c1c"/><stop offset=".752" stop-color="#020202"/><stop offset="1" stop-color="#000000"/></linearGradient>
<linearGradient id="g215" gradientUnits="userSpaceOnUse" x1="148.9" x2="231.6" spreadMethod="reflect"><stop offset="0" stop-color="#d7d7d7"/><stop offset=".048" stop-color="#cacaca"/><stop offset=".091" stop-color="#c2c2c2"/><stop offset=".291" stop-color="#b7b7b7"/><stop offset=".339" stop-color="#b2b2b2"/><stop offset=".388" stop-color="#a9a9a9"/><stop offset=".461" stop-color="#969696"/><stop offset=".491" stop-color="#8c8c8c"/><stop offset=".545" stop-color="#727272"/><stop offset=".618" stop-color="#4a4a4a"/><stop offset=".691" stop-color="#1b1b1b"/><stop offset=".752" stop-color="#010101"/><stop offset="1" stop-color="#000000"/></linearGradient>
<linearGradient id="g216" gradientUnits="userSpaceOnUse" x1="148.9" x2="231.6" spreadMethod="reflect"><stop offset="0" stop-color="#d9d9d9"/><stop offset=".048" stop-color="#cbcbcb"/><stop offset=".097" stop-color="#c2c2c2"/><stop offset=".297" stop-color="#b7b7b7"/><stop offset=".345" stop-color="#b1b1b1"/><stop offset=".388" stop-color="#a9a9a9"/><stop offset=".461" stop-color="#969696"/><stop offset=".491" stop-color="#8c8c8c"/><stop offset=".545" stop-color="#717171"/><stop offset=".618" stop-color="#494949"/><stop offset=".691" stop-color="#1a1a1a"/><stop offset=".752" stop-color="#010101"/><stop offset="1" stop-color="#000000"/></linearGradient>
<linearGradient id="g217" gradientUnits="userSpaceOnUse" x1="148.9" x2="231.6" spreadMethod="reflect"><stop offset="0" stop-color="#dcdcdc"/><stop offset=".036" stop-color="#d0d0d0"/><stop offset=".091" stop-color="#c4c4c4"/><stop offset=".158" stop-color="#bebebe"/><stop offset=".315" stop-color="#b5b5b5"/><stop offset=".382" stop-color="#aaaaaa"/><stop offset=".461" stop-color="#969696"/><stop offset=".491" stop-color="#8b8b8b"/><stop offset=".552" stop-color="#6d6d6d"/><stop offset=".618" stop-color="#494949"/><stop offset=".685" stop-color="#1d1d1d"/><stop offset=".745" stop-color="#020202"/><stop offset="1" stop-color="#000000"/></linearGradient>
<linearGradient id="g218" gradientUnits="userSpaceOnUse" x1="148.9" x2="231.6" spreadMethod="reflect"><stop offset="0" stop-color="#e0e0e0"/><stop offset=".036" stop-color="#d2d2d2"/><stop offset=".097" stop-color="#c4c4c4"/><stop offset=".321" stop-color="#b4b4b4"/><stop offset=".382" stop-color="#aaaaaa"/><stop offset=".467" stop-color="#949494"/><stop offset=".497" stop-color="#888888"/><stop offset=".552" stop-color="#6c6c6c"/><stop offset=".618" stop-color="#484848"/><stop offset=".685" stop-color="#1c1c1c"/><stop offset=".745" stop-color="#010101"/><stop offset="1" stop-color="#000000"/></linearGradient>
<linearGradient id="g219" gradientUnits="userSpaceOnUse" x1="148.9" x2="231.6" spreadMethod="reflect"><stop offset="0" stop-color="#e4e4e4"/><stop offset=".042" stop-color="#d3d3d3"/><stop offset=".103" stop-color="#c5c5c5"/><stop offset=".321" stop-color="#b4b4b4"/><stop offset=".382" stop-color="#aaaaaa"/><stop offset=".467" stop-color="#939393"/><stop offset=".503" stop-color="#858585"/><stop offset=".594" stop-color="#555555"/><stop offset=".691" stop-color="#181818"/><stop offset=".745" stop-color="#010101"/><stop offset="1" stop-color="#000000"/></linearGradient>
<linearGradient id="g220" gradientUnits="userSpaceOnUse" x1="148.9" x2="231.6" spreadMethod="reflect"><stop offset="0" stop-color="#e9e9e9"/><stop offset=".012" stop-color="#e1e1e1"/><stop offset=".036" stop-color="#d7d7d7"/><stop offset=".103" stop-color="#c6c6c6"/><stop offset=".158" stop-color="#bfbfbf"/><stop offset=".321" stop-color="#b4b4b4"/><stop offset=".382" stop-color="#aaaaaa"/><stop offset=".467" stop-color="#939393"/><stop offset=".503" stop-color="#848484"/><stop offset=".594" stop-color="#545454"/><stop offset=".691" stop-color="#171717"/><stop offset=".745" stop-color="#010101"/><stop offset="1" stop-color="#000000"/></linearGradient>
<linearGradient id="g221" gradientUnits="userSpaceOnUse" x1="148.9" x2="231.6" spreadMethod="reflect"><stop offset="0" stop-color="#eeeeee"/><stop offset=".018" stop-color="#e2e2e2"/><stop offset=".042" stop-color="#d8d8d8"/><stop offset=".109" stop-color="#c6c6c6"/><stop offset=".164" stop-color="#bfbfbf"/><stop offset=".321" stop-color="#b4b4b4"/><stop offset=".382" stop-color="#aaaaaa"/><stop offset=".467" stop-color="#939393"/><stop offset=".503" stop-color="#838383"/><stop offset=".594" stop-color="#535353"/><stop offset=".685" stop-color="#1a1a1a"/><stop offset=".739" stop-color="#020202"/><stop offset="1" stop-color="#000000"/></linearGradient>
<linearGradient id="g222" gradientUnits="userSpaceOnUse" x1="148.9" x2="231.6" spreadMethod="reflect"><stop offset="0" stop-color="#f1f1f1"/><stop offset=".024" stop-color="#e2e2e2"/><stop offset=".048" stop-color="#d8d8d8"/><stop offset=".115" stop-color="#c6c6c6"/><stop offset=".164" stop-color="#c0c0c0"/><stop offset=".327" stop-color="#b3b3b3"/><stop offset=".382" stop-color="#aaaaaa"/><stop offset=".467" stop-color="#929292"/><stop offset=".503" stop-color="#838383"/><stop offset=".594" stop-color="#535353"/><stop offset=".685" stop-color="#191919"/><stop offset=".739" stop-color="#010101"/><stop offset="1" stop-color="#000000"/></linearGradient>
<linearGradient id="g223" gradientUnits="userSpaceOnUse" x1="148.9" x2="231.6" spreadMethod="reflect"><stop offset="0" stop-color="#f3f3f3"/><stop offset=".012" stop-color="#efefef"/><stop offset=".03" stop-color="#e3e3e3"/><stop offset=".055" stop-color="#d9d9d9"/><stop offset=".121" stop-color="#c7c7c7"/><stop offset=".164" stop-color="#c1c1c1"/><stop offset=".291" stop-color="#b8b8b8"/><stop offset=".333" stop-color="#b2b2b2"/><stop offset=".382" stop-color="#a9a9a9"/><stop offset=".467" stop-color="#929292"/><stop offset=".497" stop-color="#858585"/><stop offset=".588" stop-color="#555555"/><stop offset=".685" stop-color="#181818"/><stop offset=".739" stop-color="#010101"/><stop offset="1" stop-color="#000000"/></linearGradient>
<linearGradient id="g224" gradientUnits="userSpaceOnUse" x1="148.9" x2="231.6" spreadMethod="reflect"><stop offset="0" stop-color="#f5f5f5"/><stop offset=".018" stop-color="#efefef"/><stop offset=".042" stop-color="#e1e1e1"/><stop offset=".061" stop-color="#d9d9d9"/><stop offset=".121" stop-color="#c8c8c8"/><stop offset=".164" stop-color="#c1c1c1"/><stop offset=".291" stop-color="#b8b8b8"/><stop offset=".339" stop-color="#b1b1b1"/><stop offset=".388" stop-color="#a8a8a8"/><stop offset=".467" stop-color="#929292"/><stop offset=".497" stop-color="#858585"/><stop offset=".588" stop-color="#545454"/><stop offset=".679" stop-color="#1a1a1a"/><stop offset=".733" stop-color="#020202"/><stop offset=".745" stop-color="#000000"/><stop offset="1" stop-color="#000000"/></linearGradient>
<linearGradient id="g225" gradientUnits="userSpaceOnUse" x1="148.9" x2="231.6" spreadMethod="reflect"><stop offset="0" stop-color="#f6f6f6"/><stop offset=".024" stop-color="#f0f0f0"/><stop offset=".048" stop-color="#e1e1e1"/><stop offset=".073" stop-color="#d7d7d7"/><stop offset=".127" stop-color="#c9c9c9"/><stop offset=".164" stop-color="#c2c2c2"/><stop offset=".291" stop-color="#b8b8b8"/><stop offset=".345" stop-color="#b0b0b0"/><stop offset=".388" stop-color="#a8a8a8"/><stop offset=".467" stop-color="#919191"/><stop offset=".497" stop-color="#848484"/><stop offset=".588" stop-color="#545454"/><stop offset=".679" stop-color="#191919"/><stop offset=".733" stop-color="#010101"/><stop offset="1" stop-color="#000000"/></linearGradient>
<linearGradient id="g226" gradientUnits="userSpaceOnUse" x1="148.9" x2="231.6" spreadMethod="reflect"><stop offset="0" stop-color="#f7f7f7"/><stop offset=".036" stop-color="#eeeeee"/><stop offset=".055" stop-color="#e2e2e2"/><stop offset=".085" stop-color="#d6d6d6"/><stop offset=".139" stop-color="#c8c8c8"/><stop offset=".176" stop-color="#c2c2c2"/><stop offset=".291" stop-color="#b8b8b8"/><stop offset=".339" stop-color="#b1b1b1"/><stop offset=".382" stop-color="#a9a9a9"/><stop offset=".461" stop-color="#939393"/><stop offset=".491" stop-color="#878787"/><stop offset=".582" stop-color="#565656"/><stop offset=".679" stop-color="#191919"/><stop offset=".733" stop-color="#010101"/><stop offset="1" stop-color="#000000"/></linearGradient>
<linearGradient id="g227" gradientUnits="userSpaceOnUse" x1="148.9" x2="231.6" spreadMethod="reflect"><stop offset="0" stop-color="#f7f7f7"/><stop offset=".036" stop-color="#f0f0f0"/><stop offset=".085" stop-color="#d8d8d8"/><stop offset=".145" stop-color="#c8c8c8"/><stop offset=".182" stop-color="#c2c2c2"/><stop offset=".291" stop-color="#b9b9b9"/><stop offset=".345" stop-color="#b0b0b0"/><stop offset=".388" stop-color="#a7a7a7"/><stop offset=".461" stop-color="#939393"/><stop offset=".485" stop-color="#898989"/><stop offset=".545" stop-color="#6a6a6a"/><stop offset=".606" stop-color="#474747"/><stop offset=".667" stop-color="#1e1e1e"/><stop offset=".727" stop-color="#020202"/><stop offset=".739" stop-color="#000000"/><stop offset="1" stop-color="#000000"/></linearGradient>
<linearGradient id="g228" gradientUnits="userSpaceOnUse" x1="148.9" x2="231.6" spreadMethod="reflect"><stop offset="0" stop-color="#f7f7f7"/><stop offset=".042" stop-color="#f1f1f1"/><stop offset=".091" stop-color="#d9d9d9"/><stop offset=".152" stop-color="#c8c8c8"/><stop offset=".188" stop-color="#c2c2c2"/><stop offset=".291" stop-color="#b9b9b9"/><stop offset=".345" stop-color="#b0b0b0"/><stop offset=".388" stop-color="#a7a7a7"/><stop offset=".461" stop-color="#929292"/><stop offset=".491" stop-color="#858585"/><stop offset=".582" stop-color="#555555"/><stop offset=".673" stop-color="#1a1a1a"/><stop offset=".727" stop-color="#020202"/><stop offset="1" stop-color="#000000"/></linearGradient>
<linearGradient id="g229" gradientUnits="userSpaceOnUse" x1="148.9" x2="231.6" spreadMethod="reflect"><stop offset="0" stop-color="#f8f8f8"/><stop offset=".048" stop-color="#f1f1f1"/><stop offset=".097" stop-color="#d9d9d9"/><stop offset=".158" stop-color="#c8c8c8"/><stop offset=".194" stop-color="#c2c2c2"/><stop offset=".291" stop-color="#b9b9b9"/><stop offset=".345" stop-color="#b0b0b0"/><stop offset=".461" stop-color="#929292"/><stop offset=".491" stop-color="#858585"/><stop offset=".582" stop-color="#545454"/><stop offset=".673" stop-color="#191919"/><stop offset=".727" stop-color="#010101"/><stop offset="1" stop-color="#000000"/></linearGradient>
<linearGradient id="g230" gradientUnits="userSpaceOnUse" x1="148.9" x2="231.6" spreadMethod="reflect"><stop offset="0" stop-color="#f8f8f8"/><stop offset=".055" stop-color="#f1f1f1"/><stop offset=".103" stop-color="#dadada"/><stop offset=".164" stop-color="#c9c9c9"/><stop offset=".2" stop-color="#c2c2c2"/><stop offset=".291" stop-color="#b9b9b9"/><stop offset=".352" stop-color="#afafaf"/><stop offset=".461" stop-color="#929292"/><stop offset=".491" stop-color="#848484"/><stop offset=".582" stop-color="#535353"/><stop offset=".673" stop-color="#181818"/><stop offset=".727" stop-color="#010101"/><stop offset="1" stop-color="#000000"/></linearGradient>
<linearGradient id="g231" gradientUnits="userSpaceOnUse" x1="148.9" x2="231.6" spreadMethod="reflect"><stop offset="0" stop-color="#f8f8f8"/><stop offset=".061" stop-color="#f1f1f1"/><stop offset=".115" stop-color="#d8d8d8"/><stop offset=".17" stop-color="#c9c9c9"/><stop offset=".206" stop-color="#c2c2c2"/><stop offset=".291" stop-color="#b9b9b9"/><stop offset=".352" stop-color="#afafaf"/><stop offset=".461" stop-color="#919191"/><stop offset=".491" stop-color="#848484"/><stop offset=".582" stop-color="#525252"/><stop offset=".667" stop-color="#1b1b1b"/><stop offset=".721" stop-color="#020202"/><stop offset="1" stop-color="#000000"/></linearGradient>
<linearGradient id="g232" gradientUnits="userSpaceOnUse" x1="148.9" x2="231.6" spreadMethod="reflect"><stop offset="0" stop-color="#f9f9f9"/><stop offset=".067" stop-color="#f1f1f1"/><stop offset=".121" stop-color="#d8d8d8"/><stop offset=".182" stop-color="#c8c8c8"/><stop offset=".291" stop-color="#bababa"/><stop offset=".352" stop-color="#afafaf"/><stop offset=".455" stop-color="#939393"/><stop offset=".485" stop-color="#868686"/><stop offset=".576" stop-color="#555555"/><stop offset=".667" stop-color="#1a1a1a"/><stop offset=".721" stop-color="#010101"/><stop offset="1" stop-color="#000000"/></linearGradient>
<linearGradient id="g233" gradientUnits="userSpaceOnUse" x1="148.9" x2="231.6" spreadMethod="reflect"><stop offset="0" stop-color="#f9f9f9"/><stop offset=".067" stop-color="#f2f2f2"/><stop offset=".091" stop-color="#eaeaea"/><stop offset=".127" stop-color="#d9d9d9"/><stop offset=".176" stop-color="#cbcbcb"/><stop offset=".352" stop-color="#afafaf"/><stop offset=".455" stop-color="#939393"/><stop offset=".485" stop-color="#858585"/><stop offset=".576" stop-color="#545454"/><stop offset=".667" stop-color="#191919"/><stop offset=".721" stop-color="#010101"/><stop offset="1" stop-color="#000000"/></linearGradient>
<linearGradient id="g234" gradientUnits="userSpaceOnUse" x1="148.9" x2="231.6" spreadMethod="reflect"><stop offset="0" stop-color="#f9f9f9"/><stop offset=".073" stop-color="#f1f1f1"/><stop offset=".097" stop-color="#eaeaea"/><stop offset=".133" stop-color="#d9d9d9"/><stop offset=".176" stop-color="#cdcdcd"/><stop offset=".218" stop-color="#c3c3c3"/><stop offset=".285" stop-color="#bbbbbb"/><stop offset=".352" stop-color="#afafaf"/><stop offset=".455" stop-color="#929292"/><stop offset=".485" stop-color="#858585"/><stop offset=".576" stop-color="#535353"/><stop offset=".667" stop-color="#181818"/><stop offset=".715" stop-color="#020202"/><stop offset=".727" stop-color="#000000"/><stop offset="1" stop-color="#000000"/></linearGradient>
<linearGradient id="g235" gradientUnits="userSpaceOnUse" x1="148.9" x2="231.6" spreadMethod="reflect"><stop offset="0" stop-color="#fafafa"/><stop offset=".079" stop-color="#f0f0f0"/><stop offset=".103" stop-color="#eaeaea"/><stop offset=".145" stop-color="#d7d7d7"/><stop offset=".182" stop-color="#cdcdcd"/><stop offset=".358" stop-color="#adadad"/><stop offset=".455" stop-color="#929292"/><stop offset=".485" stop-color="#848484"/><stop offset=".576" stop-color="#525252"/><stop offset=".661" stop-color="#1a1a1a"/><stop offset=".715" stop-color="#020202"/><stop offset="1" stop-color="#000000"/></linearGradient>
<linearGradient id="g236" gradientUnits="userSpaceOnUse" x1="148.9" x2="231.6" spreadMethod="reflect"><stop offset="0" stop-color="#fafafa"/><stop offset=".055" stop-color="#f5f5f5"/><stop offset=".091" stop-color="#eeeeee"/><stop offset=".115" stop-color="#e7e7e7"/><stop offset=".152" stop-color="#d7d7d7"/><stop offset=".188" stop-color="#cdcdcd"/><stop offset=".358" stop-color="#adadad"/><stop offset=".455" stop-color="#919191"/><stop offset=".485" stop-color="#848484"/><stop offset=".576" stop-color="#525252"/><stop offset=".661" stop-color="#191919"/><stop offset=".715" stop-color="#010101"/><stop offset="1" stop-color="#000000"/></linearGradient>
<linearGradient id="g237" gradientUnits="userSpaceOnUse" x1="148.9" x2="231.6" spreadMethod="reflect"><stop offset="0" stop-color="#fafafa"/><stop offset=".055" stop-color="#f5f5f5"/><stop offset=".103" stop-color="#ececec"/><stop offset=".121" stop-color="#e7e7e7"/><stop offset=".158" stop-color="#d8d8d8"/><stop offset=".194" stop-color="#cdcdcd"/><stop offset=".358" stop-color="#adadad"/><stop offset=".448" stop-color="#939393"/><stop offset=".479" stop-color="#868686"/><stop offset=".57" stop-color="#545454"/><stop offset=".661" stop-color="#191919"/><stop offset=".715" stop-color="#010101"/><stop offset="1" stop-color="#000000"/></linearGradient>
<linearGradient id="g238" gradientUnits="userSpaceOnUse" x1="148.9" x2="231.6" spreadMethod="reflect"><stop offset="0" stop-color="#fbfbfb"/><stop offset=".061" stop-color="#f4f4f4"/><stop offset=".115" stop-color="#eaeaea"/><stop offset=".194" stop-color="#cfcfcf"/><stop offset=".358" stop-color="#adadad"/><stop offset=".448" stop-color="#939393"/><stop offset=".479" stop-color="#858585"/><stop offset=".57" stop-color="#535353"/><stop offset=".661" stop-color="#181818"/><stop offset=".709" stop-color="#020202"/><stop offset="1" stop-color="#000000"/></linearGradient>
<linearGradient id="g239" gradientUnits="userSpaceOnUse" x1="148.9" x2="231.6" spreadMethod="reflect"><stop offset="0" stop-color="#fbfbfb"/><stop offset=".061" stop-color="#f5f5f5"/><stop offset=".127" stop-color="#e8e8e8"/><stop offset=".2" stop-color="#cfcfcf"/><stop offset=".358" stop-color="#adadad"/><stop offset=".448" stop-color="#929292"/><stop offset=".479" stop-color="#858585"/><stop offset=".57" stop-color="#535353"/><stop offset=".655" stop-color="#1a1a1a"/><stop offset=".709" stop-color="#010101"/><stop offset="1" stop-color="#000000"/></linearGradient>
<linearGradient id="g240" gradientUnits="userSpaceOnUse" x1="148.9" x2="231.6" spreadMethod="reflect"><stop offset="0" stop-color="#fbfbfb"/><stop offset=".055" stop-color="#f6f6f6"/><stop offset=".133" stop-color="#e8e8e8"/><stop offset=".206" stop-color="#cfcfcf"/><stop offset=".358" stop-color="#acacac"/><stop offset=".448" stop-color="#929292"/><stop offset=".479" stop-color="#848484"/><stop offset=".57" stop-color="#525252"/><stop offset=".655" stop-color="#191919"/><stop offset=".709" stop-color="#010101"/><stop offset="1" stop-color="#000000"/></linearGradient>
<linearGradient id="g241" gradientUnits="userSpaceOnUse" x1="148.9" x2="231.6" spreadMethod="reflect"><stop offset="0" stop-color="#fbfbfb"/><stop offset=".055" stop-color="#f6f6f6"/><stop offset=".145" stop-color="#e6e6e6"/><stop offset=".206" stop-color="#d0d0d0"/><stop offset=".358" stop-color="#acacac"/><stop offset=".448" stop-color="#919191"/><stop offset=".479" stop-color="#838383"/><stop offset=".57" stop-color="#515151"/><stop offset=".655" stop-color="#181818"/><stop offset=".703" stop-color="#020202"/><stop offset="1" stop-color="#000000"/></linearGradient>
<linearGradient id="g242" gradientUnits="userSpaceOnUse" x1="148.9" x2="231.6" spreadMethod="reflect"><stop offset="0" stop-color="#fcfcfc"/><stop offset=".055" stop-color="#f6f6f6"/><stop offset=".152" stop-color="#e5e5e5"/><stop offset=".212" stop-color="#d0d0d0"/><stop offset=".358" stop-color="#acacac"/><stop offset=".448" stop-color="#919191"/><stop offset=".479" stop-color="#838383"/><stop offset=".564" stop-color="#535353"/><stop offset=".648" stop-color="#1a1a1a"/><stop offset=".703" stop-color="#010101"/><stop offset="1" stop-color="#000000"/></linearGradient>
<linearGradient id="g243" gradientUnits="userSpaceOnUse" x1="148.9" x2="231.6" spreadMethod="reflect"><stop offset="0" stop-color="#fcfcfc"/><stop offset=".055" stop-color="#f6f6f6"/><stop offset=".158" stop-color="#e4e4e4"/><stop offset=".218" stop-color="#d0d0d0"/><stop offset=".364" stop-color="#aaaaaa"/><stop offset=".442" stop-color="#929292"/><stop offset=".473" stop-color="#858585"/><stop offset=".564" stop-color="#525252"/><stop offset=".648" stop-color="#191919"/><stop offset=".703" stop-color="#010101"/><stop offset="1" stop-color="#000000"/></linearGradient>
<linearGradient id="g244" gradientUnits="userSpaceOnUse" x1="148.9" x2="231.6" spreadMethod="reflect"><stop offset="0" stop-color="#fdfdfd"/><stop offset=".055" stop-color="#f7f7f7"/><stop offset=".17" stop-color="#e2e2e2"/><stop offset=".442" stop-color="#929292"/><stop offset=".473" stop-color="#848484"/><stop offset=".558" stop-color="#545454"/><stop offset=".642" stop-color="#1a1a1a"/><stop offset=".697" stop-color="#010101"/><stop offset="1" stop-color="#000000"/></linearGradient>
<linearGradient id="g245" gradientUnits="userSpaceOnUse" x1="148.9" x2="231.6" spreadMethod="reflect"><stop offset="0" stop-color="#fdfdfd"/><stop offset=".055" stop-color="#f7f7f7"/><stop offset=".176" stop-color="#e0e0e0"/><stop offset=".436" stop-color="#939393"/><stop offset=".467" stop-color="#858585"/><stop offset=".552" stop-color="#565656"/><stop offset=".642" stop-color="#181818"/><stop offset=".691" stop-color="#020202"/><stop offset="1" stop-color="#000000"/></linearGradient>
<linearGradient id="g246" gradientUnits="userSpaceOnUse" x1="148.9" x2="231.6" spreadMethod="reflect"><stop offset="0" stop-color="#fdfdfd"/><stop offset=".055" stop-color="#f7f7f7"/><stop offset=".176" stop-color="#e0e0e0"/><stop offset=".248" stop-color="#cdcdcd"/><stop offset=".303" stop-color="#b9b9b9"/><stop offset=".436" stop-color="#929292"/><stop offset=".467" stop-color="#848484"/><stop offset=".552" stop-color="#545454"/><stop offset=".636" stop-color="#1a1a1a"/><stop offset=".691" stop-color="#010101"/><stop offset="1" stop-color="#000000"/></linearGradient>
<linearGradient id="g247" gradientUnits="userSpaceOnUse" x1="148.9" x2="231.6" spreadMethod="reflect"><stop offset="0" stop-color="#fdfdfd"/><stop offset=".055" stop-color="#f8f8f8"/><stop offset=".182" stop-color="#dfdfdf"/><stop offset=".248" stop-color="#cdcdcd"/><stop offset=".303" stop-color="#b9b9b9"/><stop offset=".436" stop-color="#919191"/><stop offset=".467" stop-color="#828282"/><stop offset=".552" stop-color="#525252"/><stop offset=".63" stop-color="#1b1b1b"/><stop offset=".685" stop-color="#010101"/><stop offset="1" stop-color="#000000"/></linearGradient>
<linearGradient id="g248" href="#B" x1="90.3" x2="207.5"/>
<linearGradient id="g249" href="#B" x1="90.5" x2="207.3"/>
<linearGradient id="g250" href="#B" x1="90.7" x2="207.1"/>
<linearGradient id="g251" href="#B" x1="90.8" x2="207"/>
<linearGradient id="g252" href="#B" x1="91" x2="206.8"/>
<linearGradient id="g253" href="#B" x1="91.2" x2="206.6"/>
<linearGradient id="g254" href="#B" x1="91.4" x2="206.4"/>
<linearGradient id="g255" href="#B" x1="91.6" x2="206.2"/>
<linearGradient id="g256" href="#B" x1="91.8" x2="206"/>
<linearGradient id="g257" href="#B" x1="92" x2="205.8"/>
<linearGradient id="g258" href="#B" x1="92.2" x2="205.6"/>
<linearGradient id="g259" href="#B" x1="92.4" x2="205.4"/>
<linearGradient id="g260" href="#B" x1="92.6" x2="205.2"/>
<linearGradient id="g261" href="#B" x1="92.8" x2="205"/>
<linearGradient id="g262" href="#B" x1="93" x2="204.8"/>
<linearGradient id="g263" href="#B" x1="93.2" x2="204.6"/>
<linearGradient id="g264" href="#B" x1="93.4" x2="204.4"/>
<linearGradient id="g265" href="#B" x1="93.7" x2="204.1"/>
<linearGradient id="g266" href="#B" x1="93.9" x2="203.9"/>
<linearGradient id="g267" href="#B" x1="94.1" x2="203.7"/>
<linearGradient id="g268" href="#B" x1="94.3" x2="203.5"/>
<linearGradient id="g269" href="#B" x1="94.6" x2="203.2"/>
<linearGradient id="g270" href="#B" x1="94.8" x2="203"/>
<linearGradient id="g271" href="#B" x1="95" x2="202.8"/>
<linearGradient id="g272" href="#B" x1="95.2" x2="202.6"/>
<linearGradient id="g273" href="#B" x1="95.5" x2="202.3"/>
<linearGradient id="g274" href="#B" x1="95.7" x2="202.1"/>
<linearGradient id="g275" href="#B" x1="96" x2="201.8"/>
<linearGradient id="g276" href="#B" x1="96.2" x2="201.6"/>
<linearGradient id="g277" href="#B" x1="96.5" x2="201.3"/>
<linearGradient id="g278" href="#B" x1="96.7" x2="201.1"/>
<linearGradient id="g279" href="#B" x1="97" x2="200.8"/>
<linearGradient id="g280" href="#B" x1="97.2" x2="200.6"/>
<linearGradient id="g281" href="#B" x1="97.5" x2="200.3"/>
<linearGradient id="g282" href="#B" x1="97.8" x2="200"/>
<linearGradient id="g283" href="#B" x1="98" x2="199.8"/>
<linearGradient id="g284" href="#B" x1="98.3" x2="199.5"/>
<linearGradient id="g285" href="#B" x1="98.6" x2="199.2"/>
<linearGradient id="g286" href="#B" x1="98.9" x2="198.9"/>
<linearGradient id="g287" href="#B" x1="99.2" x2="198.6"/>
<linearGradient id="g288" href="#B" x1="99.5" x2="198.3"/>
<linearGradient id="g289" href="#B" x1="99.9" x2="197.9"/>
<linearGradient id="g290" href="#B" x1="100.2" x2="197.6"/>
<linearGradient id="g291" href="#B" x1="100.5" x2="197.3"/>
<linearGradient id="g292" href="#B" x1="100.9" x2="196.9"/>
<linearGradient id="g293" href="#B" x1="101.2" x2="196.6"/>
<linearGradient id="g294" href="#B" x1="101.6" x2="196.2"/>
<linearGradient id="g295" href="#B" x1="101.9" x2="195.9"/>
<linearGradient id="g296" href="#B" x1="102.2" x2="195.6"/>
<linearGradient id="g297" href="#B" x1="102.5" x2="195.3"/>
<linearGradient id="g298" href="#B" x1="102.8" x2="195"/>
<linearGradient id="g299" href="#B" x1="103.1" x2="194.7"/>
<linearGradient id="g300" href="#B" x1="103.4" x2="194.4"/>
<linearGradient id="g301" href="#B" x1="103.7" x2="194.1"/>
<linearGradient id="g302" href="#B" x1="103.9" x2="193.9"/>
<linearGradient id="g303" href="#B" x1="104.2" x2="193.6"/>
<linearGradient id="g304" href="#B" x1="104.4" x2="193.4"/>
<linearGradient id="g305" href="#B" x1="104.7" x2="193.1"/>
<linearGradient id="g306" href="#B" x1="104.9" x2="192.9"/>
<linearGradient id="g307" href="#B" x1="105.2" x2="192.6"/>
<linearGradient id="g308" href="#B" x1="105.5" x2="192.3"/>
<linearGradient id="g309" href="#B" x1="105.7" x2="192.1"/>
<linearGradient id="g310" href="#B" x1="106" x2="191.8"/>
<linearGradient id="g311" href="#B" x1="106.2" x2="191.6"/>
<linearGradient id="g312" href="#B" x1="106.5" x2="191.3"/>
<linearGradient id="g313" href="#B" x1="106.8" x2="191"/>
<linearGradient id="g314" href="#B" x1="107.1" x2="190.7"/>
<linearGradient id="g315" href="#B" x1="107.4" x2="190.4"/>
<linearGradient id="g316" href="#B" x1="107.6" x2="190.2"/>
<linearGradient id="g317" href="#B" x1="107.9" x2="189.9"/>
<linearGradient id="g318" href="#B" x1="108.2" x2="189.6"/>
<linearGradient id="g319" href="#B" x1="108.5" x2="189.3"/>
<linearGradient id="g320" href="#B" x1="108.8" x2="189"/>
<linearGradient id="g321" href="#B" x1="109.1" x2="188.7"/>
<linearGradient id="g322" href="#B" x1="109.4" x2="188.4"/>
<linearGradient id="g323" href="#B" x1="109.7" x2="188.1"/>
<linearGradient id="g324" href="#B" x1="110" x2="187.8"/>
<linearGradient id="g325" href="#B" x1="110.3" x2="187.5"/>
<linearGradient id="g326" href="#B" x1="110.7" x2="187.1"/>
<linearGradient id="g327" href="#B" x1="111" x2="186.8"/>
<linearGradient id="g328" href="#B" x1="111.4" x2="186.4"/>
<linearGradient id="g329" href="#B" x1="111.8" x2="186"/>
<linearGradient id="g330" href="#B" x1="112.2" x2="185.6"/>
<linearGradient id="g331" href="#B" x1="112.6" x2="185.2"/>
<linearGradient id="g332" href="#B" x1="113.1" x2="184.7"/>
<linearGradient id="g333" href="#B" x1="113.6" x2="184.2"/>
<linearGradient id="g334" href="#B" x1="114.1" x2="183.7"/>
<linearGradient id="g335" href="#B" x1="114.6" x2="183.2"/>
<linearGradient id="g336" href="#B" x1="115.2" x2="182.6"/>
<linearGradient id="g337" gradientUnits="userSpaceOnUse" x1="148.9" x2="231.6" spreadMethod="reflect"><stop offset="0" stop-color="#ffffff"/><stop offset=".03" stop-color="#f9f9f9"/><stop offset=".097" stop-color="#e1e1e1"/><stop offset=".139" stop-color="#cdcdcd"/><stop offset=".17" stop-color="#b9b9b9"/><stop offset=".242" stop-color="#929292"/><stop offset=".261" stop-color="#838383"/><stop offset=".309" stop-color="#535353"/><stop offset=".358" stop-color="#191919"/><stop offset=".388" stop-color="#000000"/><stop offset="1" stop-color="#000000"/></linearGradient>
<linearGradient id="g338" gradientUnits="userSpaceOnUse" x1="148.9" x2="231.6" spreadMethod="reflect"><stop offset="0" stop-color="#ffffff"/><stop offset=".03" stop-color="#f9f9f9"/><stop offset=".097" stop-color="#e0e0e0"/><stop offset=".139" stop-color="#cccccc"/><stop offset=".164" stop-color="#bbbbbb"/><stop offset=".236" stop-color="#939393"/><stop offset=".255" stop-color="#858585"/><stop offset=".303" stop-color="#545454"/><stop offset=".352" stop-color="#191919"/><stop offset=".37" stop-color="#080808"/><stop offset=".382" stop-color="#000000"/><stop offset="1" stop-color="#000000"/></linearGradient>
<linearGradient id="g339" gradientUnits="userSpaceOnUse" x1="148.9" x2="231.6" spreadMethod="reflect"><stop offset="0" stop-color="#ffffff"/><stop offset=".024" stop-color="#fbfbfb"/><stop offset=".091" stop-color="#e2e2e2"/><stop offset=".133" stop-color="#cdcdcd"/><stop offset=".164" stop-color="#b9b9b9"/><stop offset=".236" stop-color="#909090"/><stop offset=".267" stop-color="#747474"/><stop offset=".303" stop-color="#4e4e4e"/><stop offset=".345" stop-color="#191919"/><stop offset=".364" stop-color="#080808"/><stop offset=".376" stop-color="#000000"/><stop offset="1" stop-color="#000000"/></linearGradient>
<linearGradient id="g340" gradientUnits="userSpaceOnUse" x1="148.9" x2="231.6" spreadMethod="reflect"><stop offset="0" stop-color="#ffffff"/><stop offset=".024" stop-color="#fafafa"/><stop offset=".091" stop-color="#e1e1e1"/><stop offset=".133" stop-color="#cccccc"/><stop offset=".158" stop-color="#bbbbbb"/><stop offset=".23" stop-color="#919191"/><stop offset=".248" stop-color="#818181"/><stop offset=".297" stop-color="#4f4f4f"/><stop offset=".339" stop-color="#191919"/><stop offset=".358" stop-color="#080808"/><stop offset=".37" stop-color="#000000"/><stop offset="1" stop-color="#000000"/></linearGradient>
<linearGradient id="g341" gradientUnits="userSpaceOnUse" x1="148.9" x2="231.6" spreadMethod="reflect"><stop offset="0" stop-color="#ffffff"/><stop offset=".024" stop-color="#fafafa"/><stop offset=".091" stop-color="#dfdfdf"/><stop offset=".127" stop-color="#cdcdcd"/><stop offset=".158" stop-color="#b8b8b8"/><stop offset=".224" stop-color="#929292"/><stop offset=".242" stop-color="#828282"/><stop offset=".291" stop-color="#4f4f4f"/><stop offset=".333" stop-color="#191919"/><stop offset=".352" stop-color="#070707"/><stop offset=".364" stop-color="#000000"/><stop offset="1" stop-color="#000000"/></linearGradient>
<linearGradient id="g342" gradientUnits="userSpaceOnUse" x1="148.9" x2="231.6" spreadMethod="reflect"><stop offset="0" stop-color="#ffffff"/><stop offset=".024" stop-color="#fafafa"/><stop offset=".085" stop-color="#e1e1e1"/><stop offset=".127" stop-color="#cccccc"/><stop offset=".152" stop-color="#bababa"/><stop offset=".218" stop-color="#939393"/><stop offset=".236" stop-color="#838383"/><stop offset=".285" stop-color="#4f4f4f"/><stop offset=".327" stop-color="#181818"/><stop offset=".345" stop-color="#060606"/><stop offset=".358" stop-color="#000000"/><stop offset="1" stop-color="#000000"/></linearGradient>
<linearGradient id="g343" gradientUnits="userSpaceOnUse" x1="148.9" x2="231.6" spreadMethod="reflect"><stop offset="0" stop-color="#ffffff"/><stop offset=".024" stop-color="#fafafa"/><stop offset=".085" stop-color="#e0e0e0"/><stop offset=".121" stop-color="#cdcdcd"/><stop offset=".145" stop-color="#bbbbbb"/><stop offset=".218" stop-color="#8f8f8f"/><stop offset=".279" stop-color="#4f4f4f"/><stop offset=".321" stop-color="#171717"/><stop offset=".345" stop-color="#010101"/><stop offset="1" stop-color="#000000"/></linearGradient>
<linearGradient id="g344" gradientUnits="userSpaceOnUse" x1="148.9" x2="231.6" spreadMethod="reflect"><stop offset="0" stop-color="#ffffff"/><stop offset=".024" stop-color="#f9f9f9"/><stop offset=".079" stop-color="#e2e2e2"/><stop offset=".115" stop-color="#cecece"/><stop offset=".145" stop-color="#b8b8b8"/><stop offset=".212" stop-color="#8f8f8f"/><stop offset=".273" stop-color="#4e4e4e"/><stop offset=".315" stop-color="#151515"/><stop offset=".333" stop-color="#040404"/><stop offset=".339" stop-color="#000000"/><stop offset="1" stop-color="#000000"/></linearGradient>
<linearGradient id="g345" gradientUnits="userSpaceOnUse" x1="148.9" x2="231.6" spreadMethod="reflect"><stop offset="0" stop-color="#ffffff"/><stop offset=".024" stop-color="#f9f9f9"/><stop offset=".079" stop-color="#e0e0e0"/><stop offset=".115" stop-color="#cccccc"/><stop offset=".139" stop-color="#b9b9b9"/><stop offset=".206" stop-color="#8f8f8f"/><stop offset=".267" stop-color="#4d4d4d"/><stop offset=".309" stop-color="#141414"/><stop offset=".327" stop-color="#020202"/><stop offset=".333" stop-color="#000000"/><stop offset="1" stop-color="#000000"/></linearGradient>
<linearGradient id="g346" gradientUnits="userSpaceOnUse" x1="148.9" x2="231.6" spreadMethod="reflect"><stop offset="0" stop-color="#ffffff"/><stop offset=".018" stop-color="#fbfbfb"/><stop offset=".073" stop-color="#e2e2e2"/><stop offset=".109" stop-color="#cdcdcd"/><stop offset=".133" stop-color="#bababa"/><stop offset=".2" stop-color="#8e8e8e"/><stop offset=".261" stop-color="#4b4b4b"/><stop offset=".297" stop-color="#181818"/><stop offset=".321" stop-color="#010101"/><stop offset="1" stop-color="#000000"/></linearGradient>
<linearGradient id="g347" gradientUnits="userSpaceOnUse" x1="148.9" x2="231.6" spreadMethod="reflect"><stop offset="0" stop-color="#ffffff"/><stop offset=".018" stop-color="#fbfbfb"/><stop offset=".073" stop-color="#e0e0e0"/><stop offset=".103" stop-color="#cecece"/><stop offset=".127" stop-color="#bababa"/><stop offset=".188" stop-color="#929292"/><stop offset=".2" stop-color="#878787"/><stop offset=".255" stop-color="#484848"/><stop offset=".291" stop-color="#141414"/><stop offset=".309" stop-color="#020202"/><stop offset=".315" stop-color="#000000"/><stop offset="1" stop-color="#000000"/></linearGradient>
<linearGradient id="g348" gradientUnits="userSpaceOnUse" x1="148.9" x2="231.6" spreadMethod="reflect"><stop offset="0" stop-color="#ffffff"/><stop offset=".018" stop-color="#fafafa"/><stop offset=".067" stop-color="#e1e1e1"/><stop offset=".097" stop-color="#cecece"/><stop offset=".121" stop-color="#bababa"/><stop offset=".182" stop-color="#909090"/><stop offset=".242" stop-color="#4b4b4b"/><stop offset=".279" stop-color="#161616"/><stop offset=".297" stop-color="#030303"/><stop offset=".303" stop-color="#000000"/><stop offset="1" stop-color="#000000"/></linearGradient>
<linearGradient id="g349" gradientUnits="userSpaceOnUse" x1="148.9" x2="231.6" spreadMethod="reflect"><stop offset="0" stop-color="#ffffff"/><stop offset=".018" stop-color="#fafafa"/><stop offset=".061" stop-color="#e2e2e2"/><stop offset=".091" stop-color="#cecece"/><stop offset=".115" stop-color="#b9b9b9"/><stop offset=".17" stop-color="#929292"/><stop offset=".23" stop-color="#4c4c4c"/><stop offset=".242" stop-color="#3b3b3b"/><stop offset=".267" stop-color="#151515"/><stop offset=".285" stop-color="#010101"/><stop offset="1" stop-color="#000000"/></linearGradient>
<linearGradient id="g350" gradientUnits="userSpaceOnUse" x1="148.9" x2="231.6" spreadMethod="reflect"><stop offset="0" stop-color="#ffffff"/><stop offset=".018" stop-color="#f9f9f9"/><stop offset=".055" stop-color="#e3e3e3"/><stop offset=".085" stop-color="#cdcdcd"/><stop offset=".103" stop-color="#bbbbbb"/><stop offset=".158" stop-color="#929292"/><stop offset=".17" stop-color="#858585"/><stop offset=".224" stop-color="#414141"/><stop offset=".255" stop-color="#111111"/><stop offset=".267" stop-color="#030303"/><stop offset=".273" stop-color="#000000"/><stop offset="1" stop-color="#000000"/></linearGradient>
<linearGradient id="g351" gradientUnits="userSpaceOnUse" x1="148.9" x2="231.6" spreadMethod="reflect"><stop offset="0" stop-color="#ffffff"/><stop offset=".012" stop-color="#fbfbfb"/><stop offset=".048" stop-color="#e4e4e4"/><stop offset=".079" stop-color="#cccccc"/><stop offset=".097" stop-color="#b9b9b9"/><stop offset=".145" stop-color="#929292"/><stop offset=".206" stop-color="#464646"/><stop offset=".218" stop-color="#343434"/><stop offset=".236" stop-color="#141414"/><stop offset=".248" stop-color="#040404"/><stop offset=".255" stop-color="#000000"/><stop offset="1" stop-color="#000000"/></linearGradient>
<linearGradient id="g352" gradientUnits="userSpaceOnUse" x1="148.9" x2="231.6" spreadMethod="reflect"><stop offset="0" stop-color="#ffffff"/><stop offset=".012" stop-color="#fafafa"/><stop offset=".042" stop-color="#e5e5e5"/><stop offset=".073" stop-color="#cbcbcb"/><stop offset=".091" stop-color="#b7b7b7"/><stop offset=".133" stop-color="#929292"/><stop offset=".194" stop-color="#444444"/><stop offset=".2" stop-color="#3b3b3b"/><stop offset=".218" stop-color="#191919"/><stop offset=".236" stop-color="#010101"/><stop offset="1" stop-color="#000000"/></linearGradient>
<linearGradient id="g353" gradientUnits="userSpaceOnUse" x1="148.9" x2="231.6" spreadMethod="reflect"><stop offset="0" stop-color="#ffffff"/><stop offset=".012" stop-color="#f9f9f9"/><stop offset=".042" stop-color="#e1e1e1"/><stop offset=".067" stop-color="#cbcbcb"/><stop offset=".079" stop-color="#bbbbbb"/><stop offset=".127" stop-color="#8e8e8e"/><stop offset=".188" stop-color="#3d3d3d"/><stop offset=".194" stop-color="#333333"/><stop offset=".206" stop-color="#1a1a1a"/><stop offset=".218" stop-color="#070707"/><stop offset=".224" stop-color="#010101"/><stop offset="1" stop-color="#000000"/></linearGradient>
<linearGradient id="g354" gradientUnits="userSpaceOnUse" x1="148.9" x2="231.6" spreadMethod="reflect"><stop offset="0" stop-color="#fefefe"/><stop offset=".012" stop-color="#f8f8f8"/><stop offset=".036" stop-color="#e3e3e3"/><stop offset=".061" stop-color="#cbcbcb"/><stop offset=".073" stop-color="#bababa"/><stop offset=".115" stop-color="#919191"/><stop offset=".182" stop-color="#393939"/><stop offset=".2" stop-color="#141414"/><stop offset=".212" stop-color="#020202"/><stop offset=".218" stop-color="#000000"/><stop offset="1" stop-color="#000000"/></linearGradient>
<linearGradient id="g355" gradientUnits="userSpaceOnUse" x1="148.9" x2="231.6" spreadMethod="reflect"><stop offset="0" stop-color="#fcfcfc"/><stop offset=".012" stop-color="#f5f5f5"/><stop offset=".036" stop-color="#dedede"/><stop offset=".055" stop-color="#cacaca"/><stop offset=".067" stop-color="#b9b9b9"/><stop offset=".109" stop-color="#8d8d8d"/><stop offset=".139" stop-color="#626262"/><stop offset=".176" stop-color="#363636"/><stop offset=".194" stop-color="#101010"/><stop offset=".2" stop-color="#060606"/><stop offset=".206" stop-color="#000000"/><stop offset="1" stop-color="#000000"/></linearGradient>
<linearGradient id="g356" gradientUnits="userSpaceOnUse" x1="148.9" x2="231.6" spreadMethod="reflect"><stop offset="0" stop-color="#f8f8f8"/><stop offset=".006" stop-color="#f5f5f5"/><stop offset=".03" stop-color="#dedede"/><stop offset=".048" stop-color="#c9c9c9"/><stop offset=".061" stop-color="#b6b6b6"/><stop offset=".097" stop-color="#8f8f8f"/><stop offset=".133" stop-color="#5c5c5c"/><stop offset=".17" stop-color="#343434"/><stop offset=".176" stop-color="#252525"/><stop offset=".188" stop-color="#0d0d0d"/><stop offset=".194" stop-color="#030303"/><stop offset=".2" stop-color="#000000"/><stop offset="1" stop-color="#000000"/></linearGradient>
<linearGradient id="g357" gradientUnits="userSpaceOnUse" x1="148.9" x2="231.6" spreadMethod="reflect"><stop offset="0" stop-color="#eeeeee"/><stop offset=".006" stop-color="#ebebeb"/><stop offset=".042" stop-color="#c3c3c3"/><stop offset=".055" stop-color="#b1b1b1"/><stop offset=".091" stop-color="#898989"/><stop offset=".127" stop-color="#565656"/><stop offset=".145" stop-color="#434343"/><stop offset=".164" stop-color="#343434"/><stop offset=".17" stop-color="#242424"/><stop offset=".182" stop-color="#0c0c0c"/><stop offset=".188" stop-color="#020202"/><stop offset=".194" stop-color="#000000"/><stop offset="1" stop-color="#000000"/></linearGradient>
<linearGradient id="g358" gradientUnits="userSpaceOnUse" x1="148.9" x2="231.6" spreadMethod="reflect"><stop offset="0" stop-color="#d5d5d5"/><stop offset=".006" stop-color="#d2d2d2"/><stop offset=".024" stop-color="#c0c0c0"/><stop offset=".042" stop-color="#acacac"/><stop offset=".048" stop-color="#a2a2a2"/><stop offset=".079" stop-color="#858585"/><stop offset=".103" stop-color="#636363"/><stop offset=".121" stop-color="#4d4d4d"/><stop offset=".139" stop-color="#3d3d3d"/><stop offset=".158" stop-color="#343434"/><stop offset=".176" stop-color="#0d0d0d"/><stop offset=".182" stop-color="#030303"/><stop offset=".188" stop-color="#000000"/><stop offset="1" stop-color="#000000"/></linearGradient>
<linearGradient id="g359" gradientUnits="userSpaceOnUse" x1="148.9" x2="231.6" spreadMethod="reflect"><stop offset="0" stop-color="#bebebe"/><stop offset=".006" stop-color="#bbbbbb"/><stop offset=".024" stop-color="#a9a9a9"/><stop offset=".061" stop-color="#757575"/><stop offset=".079" stop-color="#6d6d6d"/><stop offset=".109" stop-color="#4f4f4f"/><stop offset=".133" stop-color="#3b3b3b"/><stop offset=".158" stop-color="#313131"/><stop offset=".17" stop-color="#151515"/><stop offset=".182" stop-color="#010101"/><stop offset="1" stop-color="#000000"/></linearGradient>
<linearGradient id="g360" gradientUnits="userSpaceOnUse" x1="148.9" x2="231.6" spreadMethod="reflect"><stop offset="0" stop-color="#b2b2b2"/><stop offset=".012" stop-color="#adadad"/><stop offset=".03" stop-color="#9b9b9b"/><stop offset=".042" stop-color="#898989"/><stop offset=".073" stop-color="#636363"/><stop offset=".097" stop-color="#424242"/><stop offset=".152" stop-color="#313131"/><stop offset=".158" stop-color="#2d2d2d"/><stop offset=".17" stop-color="#121212"/><stop offset=".182" stop-color="#000000"/><stop offset="1" stop-color="#000000"/></linearGradient>
<linearGradient id="g361" gradientUnits="userSpaceOnUse" x1="148.9" x2="231.6" spreadMethod="reflect"><stop offset="0" stop-color="#a4a4a4"/><stop offset=".012" stop-color="#a1a1a1"/><stop offset=".024" stop-color="#979797"/><stop offset=".067" stop-color="#656565"/><stop offset=".091" stop-color="#444444"/><stop offset=".109" stop-color="#303030"/><stop offset=".121" stop-color="#262626"/><stop offset=".152" stop-color="#2c2c2c"/><stop offset=".158" stop-color="#252525"/><stop offset=".176" stop-color="#050505"/><stop offset=".182" stop-color="#000000"/><stop offset="1" stop-color="#000000"/></linearGradient>
<linearGradient id="g362" gradientUnits="userSpaceOnUse" x1="148.9" x2="231.6" spreadMethod="reflect"><stop offset="0" stop-color="#949494"/><stop offset=".012" stop-color="#909090"/><stop offset=".036" stop-color="#7e7e7e"/><stop offset=".061" stop-color="#646464"/><stop offset=".091" stop-color="#3d3d3d"/><stop offset=".109" stop-color="#2c2c2c"/><stop offset=".139" stop-color="#1a1a1a"/><stop offset=".152" stop-color="#212121"/><stop offset=".176" stop-color="#010101"/><stop offset=".182" stop-color="#000000"/><stop offset="1" stop-color="#000000"/></linearGradient>
<linearGradient id="g363" gradientUnits="userSpaceOnUse" x1="148.9" x2="231.6" spreadMethod="reflect"><stop offset="0" stop-color="#858585"/><stop offset=".018" stop-color="#808080"/><stop offset=".042" stop-color="#6d6d6d"/><stop offset=".055" stop-color="#616161"/><stop offset=".085" stop-color="#3c3c3c"/><stop offset=".109" stop-color="#272727"/><stop offset=".127" stop-color="#1c1c1c"/><stop offset=".145" stop-color="#161616"/><stop offset=".158" stop-color="#0b0b0b"/><stop offset=".176" stop-color="#000000"/><stop offset="1" stop-color="#000000"/></linearGradient>
<linearGradient id="g364" gradientUnits="userSpaceOnUse" x1="148.9" x2="231.6" spreadMethod="reflect"><stop offset="0" stop-color="#777777"/><stop offset=".012" stop-color="#757575"/><stop offset=".03" stop-color="#6c6c6c"/><stop offset=".042" stop-color="#626262"/><stop offset=".079" stop-color="#393939"/><stop offset=".097" stop-color="#292929"/><stop offset=".121" stop-color="#1b1b1b"/><stop offset=".139" stop-color="#151515"/><stop offset=".158" stop-color="#060606"/><stop offset=".17" stop-color="#000000"/><stop offset="1" stop-color="#000000"/></linearGradient>
<linearGradient id="g365" gradientUnits="userSpaceOnUse" x1="148.9" x2="231.6" spreadMethod="reflect"><stop offset="0" stop-color="#6a6a6a"/><stop offset=".012" stop-color="#686868"/><stop offset=".024" stop-color="#626262"/><stop offset=".073" stop-color="#353535"/><stop offset=".097" stop-color="#232323"/><stop offset=".115" stop-color="#191919"/><stop offset=".133" stop-color="#141414"/><stop offset=".152" stop-color="#060606"/><stop offset=".164" stop-color="#000000"/><stop offset="1" stop-color="#000000"/></linearGradient>
<linearGradient id="g366" gradientUnits="userSpaceOnUse" x1="148.9" x2="231.6" spreadMethod="reflect"><stop offset="0" stop-color="#595959"/><stop offset=".012" stop-color="#575757"/><stop offset=".024" stop-color="#515151"/><stop offset=".091" stop-color="#202020"/><stop offset=".109" stop-color="#171717"/><stop offset=".127" stop-color="#131313"/><stop offset=".139" stop-color="#090909"/><stop offset=".158" stop-color="#000000"/><stop offset="1" stop-color="#000000"/></linearGradient>
<linearGradient id="g367" gradientUnits="userSpaceOnUse" x1="148.9" x2="231.6" spreadMethod="reflect"><stop offset="0" stop-color="#4a4a4a"/><stop offset=".018" stop-color="#464646"/><stop offset=".079" stop-color="#1f1f1f"/><stop offset=".115" stop-color="#121212"/><stop offset=".133" stop-color="#070707"/><stop offset=".152" stop-color="#000000"/><stop offset="1" stop-color="#000000"/></linearGradient>
<linearGradient id="g368" gradientUnits="userSpaceOnUse" x1="148.9" x2="231.6" spreadMethod="reflect"><stop offset="0" stop-color="#3e3e3e"/><stop offset=".018" stop-color="#3a3a3a"/><stop offset=".073" stop-color="#1b1b1b"/><stop offset=".103" stop-color="#111111"/><stop offset=".121" stop-color="#070707"/><stop offset=".139" stop-color="#000000"/><stop offset="1" stop-color="#000000"/></linearGradient>
<linearGradient id="g369" gradientUnits="userSpaceOnUse" x1="148.9" x2="231.6" spreadMethod="reflect"><stop offset="0" stop-color="#343434"/><stop offset=".018" stop-color="#303030"/><stop offset=".061" stop-color="#191919"/><stop offset=".091" stop-color="#101010"/><stop offset=".109" stop-color="#060606"/><stop offset=".133" stop-color="#000000"/><stop offset="1" stop-color="#000000"/></linearGradient>
<linearGradient id="g370" gradientUnits="userSpaceOnUse" x1="148.9" x2="231.6" spreadMethod="reflect"><stop offset="0" stop-color="#2c2c2c"/><stop offset=".012" stop-color="#2a2a2a"/><stop offset=".048" stop-color="#181818"/><stop offset=".091" stop-color="#060606"/><stop offset=".115" stop-color="#000000"/><stop offset="1" stop-color="#000000"/></linearGradient>
<linearGradient id="g371" gradientUnits="userSpaceOnUse" x1="148.9" x2="231.6" spreadMethod="reflect"><stop offset="0" stop-color="#282828"/><stop offset=".012" stop-color="#252525"/><stop offset=".061" stop-color="#090909"/><stop offset=".103" stop-color="#000000"/><stop offset="1" stop-color="#000000"/></linearGradient>
<linearGradient id="g372" gradientUnits="userSpaceOnUse" x1="148.9" x2="231.6" spreadMethod="reflect"><stop offset="0" stop-color="#191919"/><stop offset=".036" stop-color="#060606"/><stop offset=".079" stop-color="#000000"/><stop offset="1" stop-color="#000000"/></linearGradient>
<linearGradient id="g373" gradientUnits="userSpaceOnUse" x1="148.9" x2="231.6" spreadMethod="reflect"><stop offset="0" stop-color="#070707"/><stop offset=".018" stop-color="#010101"/><stop offset=".048" stop-color="#000000"/><stop offset="1" stop-color="#000000"/></linearGradient>
<linearGradient id="g374" gradientUnits="userSpaceOnUse" x1="148.9" x2="231.6" spreadMethod="reflect"><stop offset="0" stop-color="#010101"/><stop offset="1" stop-color="#000000"/></linearGradient>
<clipPath id="cb1"><rect x="67.2" y="407.0" width="161.3" height="178.2"/></clipPath>
<linearGradient id="g375" gradientUnits="userSpaceOnUse" x1="311.5" x2="390.2" spreadMethod="reflect"><stop offset="0" stop-color="#bababa"/><stop offset=".236" stop-color="#b6b6b6"/><stop offset=".287" stop-color="#afafaf"/><stop offset=".325" stop-color="#a6a6a6"/><stop offset=".382" stop-color="#939393"/><stop offset=".408" stop-color="#878787"/><stop offset=".497" stop-color="#4e4e4e"/><stop offset=".561" stop-color="#1b1b1b"/><stop offset=".599" stop-color="#060606"/><stop offset=".611" stop-color="#010101"/><stop offset="1" stop-color="#000000"/></linearGradient>
<linearGradient id="g376" gradientUnits="userSpaceOnUse" x1="311.5" x2="390.2" spreadMethod="reflect"><stop offset="0" stop-color="#bcbcbc"/><stop offset=".236" stop-color="#b6b6b6"/><stop offset=".287" stop-color="#afafaf"/><stop offset=".325" stop-color="#a6a6a6"/><stop offset=".376" stop-color="#959595"/><stop offset=".401" stop-color="#898989"/><stop offset=".49" stop-color="#505050"/><stop offset=".561" stop-color="#191919"/><stop offset=".599" stop-color="#040404"/><stop offset=".611" stop-color="#000000"/><stop offset="1" stop-color="#000000"/></linearGradient>
<linearGradient id="g377" gradientUnits="userSpaceOnUse" x1="311.5" x2="390.2" spreadMethod="reflect"><stop offset="0" stop-color="#bebebe"/><stop offset=".236" stop-color="#b7b7b7"/><stop offset=".28" stop-color="#b1b1b1"/><stop offset=".318" stop-color="#a7a7a7"/><stop offset=".376" stop-color="#949494"/><stop offset=".401" stop-color="#888888"/><stop offset=".49" stop-color="#4e4e4e"/><stop offset=".554" stop-color="#1b1b1b"/><stop offset=".592" stop-color="#050505"/><stop offset=".605" stop-color="#010101"/><stop offset="1" stop-color="#000000"/></linearGradient>
<linearGradient id="g378" gradientUnits="userSpaceOnUse" x1="311.5" x2="390.2" spreadMethod="reflect"><stop offset="0" stop-color="#c0c0c0"/><stop offset=".236" stop-color="#b7b7b7"/><stop offset=".287" stop-color="#afafaf"/><stop offset=".318" stop-color="#a7a7a7"/><stop offset=".376" stop-color="#939393"/><stop offset=".401" stop-color="#878787"/><stop offset=".49" stop-color="#4c4c4c"/><stop offset=".554" stop-color="#191919"/><stop offset=".599" stop-color="#010101"/><stop offset="1" stop-color="#000000"/></linearGradient>
<linearGradient id="g379" gradientUnits="userSpaceOnUse" x1="311.5" x2="390.2" spreadMethod="reflect"><stop offset="0" stop-color="#c2c2c2"/><stop offset=".236" stop-color="#b8b8b8"/><stop offset=".287" stop-color="#afafaf"/><stop offset=".318" stop-color="#a7a7a7"/><stop offset=".369" stop-color="#959595"/><stop offset=".395" stop-color="#898989"/><stop offset=".484" stop-color="#4f4f4f"/><stop offset=".548" stop-color="#1c1c1c"/><stop offset=".586" stop-color="#050505"/><stop offset=".599" stop-color="#010101"/><stop offset="1" stop-color="#000000"/></linearGradient>
<linearGradient id="g380" gradientUnits="userSpaceOnUse" x1="311.5" x2="390.2" spreadMethod="reflect"><stop offset="0" stop-color="#c4c4c4"/><stop offset=".229" stop-color="#b9b9b9"/><stop offset=".28" stop-color="#b0b0b0"/><stop offset=".318" stop-color="#a6a6a6"/><stop offset=".369" stop-color="#959595"/><stop offset=".395" stop-color="#898989"/><stop offset=".484" stop-color="#4e4e4e"/><stop offset=".548" stop-color="#1b1b1b"/><stop offset=".586" stop-color="#040404"/><stop offset=".599" stop-color="#000000"/><stop offset="1" stop-color="#000000"/></linearGradient>
<linearGradient id="g381" gradientUnits="userSpaceOnUse" x1="311.5" x2="390.2" spreadMethod="reflect"><stop offset="0" stop-color="#c6c6c6"/><stop offset=".229" stop-color="#b9b9b9"/><stop offset=".28" stop-color="#b0b0b0"/><stop offset=".318" stop-color="#a6a6a6"/><stop offset=".369" stop-color="#949494"/><stop offset=".395" stop-color="#888888"/><stop offset=".484" stop-color="#4d4d4d"/><stop offset=".548" stop-color="#191919"/><stop offset=".592" stop-color="#010101"/><stop offset="1" stop-color="#000000"/></linearGradient>
<linearGradient id="g382" gradientUnits="userSpaceOnUse" x1="311.5" x2="390.2" spreadMethod="reflect"><stop offset="0" stop-color="#cacaca"/><stop offset=".07" stop-color="#c2c2c2"/><stop offset=".229" stop-color="#bababa"/><stop offset=".28" stop-color="#b0b0b0"/><stop offset=".318" stop-color="#a6a6a6"/><stop offset=".369" stop-color="#949494"/><stop offset=".395" stop-color="#878787"/><stop offset=".484" stop-color="#4c4c4c"/><stop offset=".522" stop-color="#2b2b2b"/><stop offset=".548" stop-color="#181818"/><stop offset=".592" stop-color="#010101"/><stop offset="1" stop-color="#000000"/></linearGradient>
<linearGradient id="g383" gradientUnits="userSpaceOnUse" x1="311.5" x2="390.2" spreadMethod="reflect"><stop offset="0" stop-color="#cdcdcd"/><stop offset=".083" stop-color="#c3c3c3"/><stop offset=".229" stop-color="#bababa"/><stop offset=".287" stop-color="#afafaf"/><stop offset=".318" stop-color="#a5a5a5"/><stop offset=".369" stop-color="#949494"/><stop offset=".395" stop-color="#878787"/><stop offset=".484" stop-color="#4b4b4b"/><stop offset=".541" stop-color="#1c1c1c"/><stop offset=".58" stop-color="#050505"/><stop offset=".592" stop-color="#000000"/><stop offset="1" stop-color="#000000"/></linearGradient>
<linearGradient id="g384" gradientUnits="userSpaceOnUse" x1="311.5" x2="390.2" spreadMethod="reflect"><stop offset="0" stop-color="#d1d1d1"/><stop offset=".096" stop-color="#c4c4c4"/><stop offset=".236" stop-color="#bababa"/><stop offset=".293" stop-color="#adadad"/><stop offset=".357" stop-color="#989898"/><stop offset=".382" stop-color="#8d8d8d"/><stop offset=".42" stop-color="#757575"/><stop offset=".484" stop-color="#4a4a4a"/><stop offset=".541" stop-color="#1b1b1b"/><stop offset=".58" stop-color="#040404"/><stop offset=".592" stop-color="#000000"/><stop offset="1" stop-color="#000000"/></linearGradient>
<linearGradient id="g385" gradientUnits="userSpaceOnUse" x1="311.5" x2="390.2" spreadMethod="reflect"><stop offset="0" stop-color="#d5d5d5"/><stop offset=".102" stop-color="#c6c6c6"/><stop offset=".236" stop-color="#bbbbbb"/><stop offset=".293" stop-color="#adadad"/><stop offset=".357" stop-color="#979797"/><stop offset=".382" stop-color="#8d8d8d"/><stop offset=".427" stop-color="#717171"/><stop offset=".484" stop-color="#494949"/><stop offset=".535" stop-color="#1e1e1e"/><stop offset=".586" stop-color="#010101"/><stop offset="1" stop-color="#000000"/></linearGradient>
<linearGradient id="g386" gradientUnits="userSpaceOnUse" x1="311.5" x2="390.2" spreadMethod="reflect"><stop offset="0" stop-color="#dbdbdb"/><stop offset=".102" stop-color="#c9c9c9"/><stop offset=".236" stop-color="#bbbbbb"/><stop offset=".293" stop-color="#adadad"/><stop offset=".363" stop-color="#959595"/><stop offset=".389" stop-color="#888888"/><stop offset=".459" stop-color="#5a5a5a"/><stop offset=".49" stop-color="#424242"/><stop offset=".516" stop-color="#2b2b2b"/><stop offset=".541" stop-color="#181818"/><stop offset=".586" stop-color="#010101"/><stop offset="1" stop-color="#000000"/></linearGradient>
<linearGradient id="g387" gradientUnits="userSpaceOnUse" x1="311.5" x2="390.2" spreadMethod="reflect"><stop offset="0" stop-color="#e1e1e1"/><stop offset=".083" stop-color="#d0d0d0"/><stop offset=".236" stop-color="#bcbcbc"/><stop offset=".293" stop-color="#adadad"/><stop offset=".363" stop-color="#949494"/><stop offset=".389" stop-color="#888888"/><stop offset=".459" stop-color="#595959"/><stop offset=".541" stop-color="#171717"/><stop offset=".573" stop-color="#050505"/><stop offset=".586" stop-color="#000000"/><stop offset="1" stop-color="#000000"/></linearGradient>
<linearGradient id="g388" gradientUnits="userSpaceOnUse" x1="311.5" x2="390.2" spreadMethod="reflect"><stop offset="0" stop-color="#e6e6e6"/><stop offset=".089" stop-color="#d3d3d3"/><stop offset=".236" stop-color="#bcbcbc"/><stop offset=".293" stop-color="#adadad"/><stop offset=".363" stop-color="#949494"/><stop offset=".389" stop-color="#878787"/><stop offset=".433" stop-color="#6a6a6a"/><stop offset=".484" stop-color="#454545"/><stop offset=".535" stop-color="#1b1b1b"/><stop offset=".58" stop-color="#010101"/><stop offset="1" stop-color="#000000"/></linearGradient>
<linearGradient id="g389" gradientUnits="userSpaceOnUse" x1="311.5" x2="390.2" spreadMethod="reflect"><stop offset="0" stop-color="#ececec"/><stop offset=".102" stop-color="#d5d5d5"/><stop offset=".229" stop-color="#bfbfbf"/><stop offset=".293" stop-color="#adadad"/><stop offset=".363" stop-color="#939393"/><stop offset=".389" stop-color="#868686"/><stop offset=".459" stop-color="#575757"/><stop offset=".535" stop-color="#191919"/><stop offset=".58" stop-color="#010101"/><stop offset="1" stop-color="#000000"/></linearGradient>
<linearGradient id="g390" gradientUnits="userSpaceOnUse" x1="311.5" x2="390.2" spreadMethod="reflect"><stop offset="0" stop-color="#efefef"/><stop offset=".223" stop-color="#c2c2c2"/><stop offset=".293" stop-color="#adadad"/><stop offset=".363" stop-color="#939393"/><stop offset=".389" stop-color="#858585"/><stop offset=".459" stop-color="#565656"/><stop offset=".535" stop-color="#181818"/><stop offset=".567" stop-color="#060606"/><stop offset=".58" stop-color="#010101"/><stop offset="1" stop-color="#000000"/></linearGradient>
<linearGradient id="g391" gradientUnits="userSpaceOnUse" x1="311.5" x2="390.2" spreadMethod="reflect"><stop offset="0" stop-color="#f2f2f2"/><stop offset=".045" stop-color="#ececec"/><stop offset=".217" stop-color="#c5c5c5"/><stop offset=".363" stop-color="#939393"/><stop offset=".389" stop-color="#858585"/><stop offset=".459" stop-color="#555555"/><stop offset=".535" stop-color="#171717"/><stop offset=".567" stop-color="#050505"/><stop offset=".58" stop-color="#000000"/><stop offset="1" stop-color="#000000"/></linearGradient>
<linearGradient id="g392" gradientUnits="userSpaceOnUse" x1="311.5" x2="390.2" spreadMethod="reflect"><stop offset="0" stop-color="#f4f4f4"/><stop offset=".064" stop-color="#ebebeb"/><stop offset=".21" stop-color="#c9c9c9"/><stop offset=".363" stop-color="#929292"/><stop offset=".389" stop-color="#848484"/><stop offset=".459" stop-color="#545454"/><stop offset=".529" stop-color="#1b1b1b"/><stop offset=".573" stop-color="#010101"/><stop offset="1" stop-color="#000000"/></linearGradient>
<linearGradient id="g393" gradientUnits="userSpaceOnUse" x1="311.5" x2="390.2" spreadMethod="reflect"><stop offset="0" stop-color="#f5f5f5"/><stop offset=".057" stop-color="#efefef"/><stop offset=".153" stop-color="#dadada"/><stop offset=".217" stop-color="#c8c8c8"/><stop offset=".363" stop-color="#929292"/><stop offset=".389" stop-color="#838383"/><stop offset=".459" stop-color="#535353"/><stop offset=".529" stop-color="#191919"/><stop offset=".573" stop-color="#010101"/><stop offset="1" stop-color="#000000"/></linearGradient>
<linearGradient id="g394" gradientUnits="userSpaceOnUse" x1="311.5" x2="390.2" spreadMethod="reflect"><stop offset="0" stop-color="#f6f6f6"/><stop offset=".051" stop-color="#f2f2f2"/><stop offset=".14" stop-color="#e0e0e0"/><stop offset=".21" stop-color="#cbcbcb"/><stop offset=".248" stop-color="#bbbbbb"/><stop offset=".357" stop-color="#949494"/><stop offset=".382" stop-color="#868686"/><stop offset=".452" stop-color="#565656"/><stop offset=".529" stop-color="#181818"/><stop offset=".561" stop-color="#050505"/><stop offset=".573" stop-color="#000000"/><stop offset="1" stop-color="#000000"/></linearGradient>
<linearGradient id="g395" gradientUnits="userSpaceOnUse" x1="311.5" x2="390.2" spreadMethod="reflect"><stop offset="0" stop-color="#f7f7f7"/><stop offset=".051" stop-color="#f3f3f3"/><stop offset=".146" stop-color="#dfdfdf"/><stop offset=".21" stop-color="#cccccc"/><stop offset=".248" stop-color="#bbbbbb"/><stop offset=".357" stop-color="#939393"/><stop offset=".382" stop-color="#858585"/><stop offset=".452" stop-color="#545454"/><stop offset=".522" stop-color="#1a1a1a"/><stop offset=".567" stop-color="#010101"/><stop offset="1" stop-color="#000000"/></linearGradient>
<linearGradient id="g396" gradientUnits="userSpaceOnUse" x1="311.5" x2="390.2" spreadMethod="reflect"><stop offset="0" stop-color="#f8f8f8"/><stop offset=".051" stop-color="#f4f4f4"/><stop offset=".14" stop-color="#e1e1e1"/><stop offset=".21" stop-color="#cccccc"/><stop offset=".248" stop-color="#bababa"/><stop offset=".357" stop-color="#929292"/><stop offset=".382" stop-color="#838383"/><stop offset=".452" stop-color="#525252"/><stop offset=".522" stop-color="#181818"/><stop offset=".561" stop-color="#020202"/><stop offset="1" stop-color="#000000"/></linearGradient>
<linearGradient id="g397" gradientUnits="userSpaceOnUse" x1="311.5" x2="390.2" spreadMethod="reflect"><stop offset="0" stop-color="#f9f9f9"/><stop offset=".051" stop-color="#f4f4f4"/><stop offset=".14" stop-color="#e1e1e1"/><stop offset=".21" stop-color="#cbcbcb"/><stop offset=".248" stop-color="#bababa"/><stop offset=".35" stop-color="#949494"/><stop offset=".376" stop-color="#868686"/><stop offset=".446" stop-color="#555555"/><stop offset=".516" stop-color="#1a1a1a"/><stop offset=".561" stop-color="#010101"/><stop offset="1" stop-color="#000000"/></linearGradient>
<linearGradient id="g398" gradientUnits="userSpaceOnUse" x1="311.5" x2="390.2" spreadMethod="reflect"><stop offset="0" stop-color="#f9f9f9"/><stop offset=".045" stop-color="#f5f5f5"/><stop offset=".14" stop-color="#e1e1e1"/><stop offset=".204" stop-color="#cdcdcd"/><stop offset=".248" stop-color="#b9b9b9"/><stop offset=".35" stop-color="#939393"/><stop offset=".376" stop-color="#848484"/><stop offset=".446" stop-color="#535353"/><stop offset=".516" stop-color="#171717"/><stop offset=".554" stop-color="#020202"/><stop offset="1" stop-color="#000000"/></linearGradient>
<linearGradient id="g399" gradientUnits="userSpaceOnUse" x1="311.5" x2="390.2" spreadMethod="reflect"><stop offset="0" stop-color="#fafafa"/><stop offset=".045" stop-color="#f6f6f6"/><stop offset=".14" stop-color="#e1e1e1"/><stop offset=".204" stop-color="#cdcdcd"/><stop offset=".242" stop-color="#bbbbbb"/><stop offset=".35" stop-color="#929292"/><stop offset=".376" stop-color="#828282"/><stop offset=".446" stop-color="#505050"/><stop offset=".51" stop-color="#1a1a1a"/><stop offset=".541" stop-color="#060606"/><stop offset=".554" stop-color="#010101"/><stop offset="1" stop-color="#000000"/></linearGradient>
<linearGradient id="g400" gradientUnits="userSpaceOnUse" x1="311.5" x2="390.2" spreadMethod="reflect"><stop offset="0" stop-color="#fbfbfb"/><stop offset=".045" stop-color="#f6f6f6"/><stop offset=".14" stop-color="#e0e0e0"/><stop offset=".204" stop-color="#cccccc"/><stop offset=".242" stop-color="#bababa"/><stop offset=".344" stop-color="#939393"/><stop offset=".369" stop-color="#858585"/><stop offset=".439" stop-color="#535353"/><stop offset=".51" stop-color="#171717"/><stop offset=".548" stop-color="#010101"/><stop offset="1" stop-color="#000000"/></linearGradient>
<linearGradient id="g401" gradientUnits="userSpaceOnUse" x1="311.5" x2="390.2" spreadMethod="reflect"><stop offset="0" stop-color="#fbfbfb"/><stop offset=".045" stop-color="#f6f6f6"/><stop offset=".14" stop-color="#e0e0e0"/><stop offset=".204" stop-color="#cccccc"/><stop offset=".242" stop-color="#b9b9b9"/><stop offset=".344" stop-color="#929292"/><stop offset=".369" stop-color="#838383"/><stop offset=".433" stop-color="#565656"/><stop offset=".503" stop-color="#191919"/><stop offset=".535" stop-color="#050505"/><stop offset=".548" stop-color="#000000"/><stop offset="1" stop-color="#000000"/></linearGradient>
<linearGradient id="g402" gradientUnits="userSpaceOnUse" x1="311.5" x2="390.2" spreadMethod="reflect"><stop offset="0" stop-color="#fcfcfc"/><stop offset=".045" stop-color="#f7f7f7"/><stop offset=".14" stop-color="#e0e0e0"/><stop offset=".204" stop-color="#cbcbcb"/><stop offset=".236" stop-color="#bbbbbb"/><stop offset=".344" stop-color="#919191"/><stop offset=".369" stop-color="#828282"/><stop offset=".433" stop-color="#535353"/><stop offset=".497" stop-color="#1b1b1b"/><stop offset=".541" stop-color="#010101"/><stop offset="1" stop-color="#000000"/></linearGradient>
<linearGradient id="g403" gradientUnits="userSpaceOnUse" x1="311.5" x2="390.2" spreadMethod="reflect"><stop offset="0" stop-color="#fcfcfc"/><stop offset=".045" stop-color="#f7f7f7"/><stop offset=".134" stop-color="#e2e2e2"/><stop offset=".197" stop-color="#cdcdcd"/><stop offset=".236" stop-color="#bbbbbb"/><stop offset=".338" stop-color="#939393"/><stop offset=".363" stop-color="#848484"/><stop offset=".427" stop-color="#565656"/><stop offset=".497" stop-color="#191919"/><stop offset=".535" stop-color="#020202"/><stop offset="1" stop-color="#000000"/></linearGradient>
<linearGradient id="g404" gradientUnits="userSpaceOnUse" x1="311.5" x2="390.2" spreadMethod="reflect"><stop offset="0" stop-color="#fdfdfd"/><stop offset=".045" stop-color="#f7f7f7"/><stop offset=".134" stop-color="#e1e1e1"/><stop offset=".197" stop-color="#cccccc"/><stop offset=".236" stop-color="#bababa"/><stop offset=".338" stop-color="#929292"/><stop offset=".363" stop-color="#828282"/><stop offset=".427" stop-color="#535353"/><stop offset=".49" stop-color="#1b1b1b"/><stop offset=".522" stop-color="#060606"/><stop offset=".535" stop-color="#010101"/><stop offset="1" stop-color="#000000"/></linearGradient>
<linearGradient id="g405" gradientUnits="userSpaceOnUse" x1="311.5" x2="390.2" spreadMethod="reflect"><stop offset="0" stop-color="#fdfdfd"/><stop offset=".038" stop-color="#f9f9f9"/><stop offset=".134" stop-color="#e1e1e1"/><stop offset=".197" stop-color="#cccccc"/><stop offset=".236" stop-color="#b9b9b9"/><stop offset=".338" stop-color="#919191"/><stop offset=".363" stop-color="#818181"/><stop offset=".427" stop-color="#525252"/><stop offset=".49" stop-color="#191919"/><stop offset=".529" stop-color="#020202"/><stop offset="1" stop-color="#000000"/></linearGradient>
<linearGradient id="g406" gradientUnits="userSpaceOnUse" x1="311.5" x2="390.2" spreadMethod="reflect"><stop offset="0" stop-color="#fdfdfd"/><stop offset=".038" stop-color="#f9f9f9"/><stop offset=".134" stop-color="#e1e1e1"/><stop offset=".197" stop-color="#cccccc"/><stop offset=".236" stop-color="#b9b9b9"/><stop offset=".331" stop-color="#949494"/><stop offset=".357" stop-color="#858585"/><stop offset=".42" stop-color="#555555"/><stop offset=".49" stop-color="#181818"/><stop offset=".529" stop-color="#010101"/><stop offset="1" stop-color="#000000"/></linearGradient>
<linearGradient id="g407" gradientUnits="userSpaceOnUse" x1="311.5" x2="390.2" spreadMethod="reflect"><stop offset="0" stop-color="#fdfdfd"/><stop offset=".038" stop-color="#f9f9f9"/><stop offset=".134" stop-color="#e1e1e1"/><stop offset=".197" stop-color="#cbcbcb"/><stop offset=".236" stop-color="#b9b9b9"/><stop offset=".331" stop-color="#939393"/><stop offset=".357" stop-color="#848484"/><stop offset=".42" stop-color="#545454"/><stop offset=".439" stop-color="#444444"/><stop offset=".465" stop-color="#2b2b2b"/><stop offset=".49" stop-color="#161616"/><stop offset=".529" stop-color="#000000"/><stop offset="1" stop-color="#000000"/></linearGradient>
<linearGradient id="g408" gradientUnits="userSpaceOnUse" x1="311.5" x2="390.2" spreadMethod="reflect"><stop offset="0" stop-color="#fdfdfd"/><stop offset=".038" stop-color="#f9f9f9"/><stop offset=".134" stop-color="#e1e1e1"/><stop offset=".197" stop-color="#cbcbcb"/><stop offset=".229" stop-color="#bbbbbb"/><stop offset=".331" stop-color="#929292"/><stop offset=".357" stop-color="#838383"/><stop offset=".42" stop-color="#535353"/><stop offset=".484" stop-color="#1a1a1a"/><stop offset=".516" stop-color="#050505"/><stop offset=".529" stop-color="#000000"/><stop offset="1" stop-color="#000000"/></linearGradient>
<linearGradient id="g409" gradientUnits="userSpaceOnUse" x1="311.5" x2="390.2" spreadMethod="reflect"><stop offset="0" stop-color="#fdfdfd"/><stop offset=".038" stop-color="#f9f9f9"/><stop offset=".134" stop-color="#e0e0e0"/><stop offset=".191" stop-color="#cdcdcd"/><stop offset=".229" stop-color="#bbbbbb"/><stop offset=".331" stop-color="#929292"/><stop offset=".357" stop-color="#828282"/><stop offset=".42" stop-color="#525252"/><stop offset=".484" stop-color="#181818"/><stop offset=".522" stop-color="#010101"/><stop offset="1" stop-color="#000000"/></linearGradient>
<linearGradient id="g410" href="#B" x1="269" x2="354"/>
<linearGradient id="g411" href="#B" x1="269.1" x2="353.9"/>
<linearGradient id="g412" href="#B" x1="269.3" x2="353.7"/>
<linearGradient id="g413" href="#B" x1="269.5" x2="353.5"/>
<linearGradient id="g414" href="#B" x1="269.7" x2="353.3"/>
<linearGradient id="g415" href="#B" x1="269.8" x2="353.2"/>
<linearGradient id="g416" href="#B" x1="270" x2="353"/>
<linearGradient id="g417" href="#B" x1="270.2" x2="352.8"/>
<linearGradient id="g418" href="#B" x1="270.4" x2="352.6"/>
<linearGradient id="g419" href="#B" x1="270.5" x2="352.5"/>
<linearGradient id="g420" href="#B" x1="270.7" x2="352.3"/>
<linearGradient id="g421" href="#B" x1="270.9" x2="352.1"/>
<linearGradient id="g422" href="#B" x1="271.1" x2="351.9"/>
<linearGradient id="g423" href="#B" x1="271.2" x2="351.8"/>
<linearGradient id="g424" href="#B" x1="271.4" x2="351.6"/>
<linearGradient id="g425" href="#B" x1="271.6" x2="351.4"/>
<linearGradient id="g426" href="#B" x1="271.8" x2="351.2"/>
<linearGradient id="g427" href="#B" x1="272" x2="351"/>
<linearGradient id="g428" href="#B" x1="272.1" x2="350.9"/>
<linearGradient id="g429" href="#B" x1="272.3" x2="350.7"/>
<linearGradient id="g430" href="#B" x1="272.5" x2="350.5"/>
<linearGradient id="g431" href="#B" x1="272.7" x2="350.3"/>
<linearGradient id="g432" href="#B" x1="272.9" x2="350.1"/>
<linearGradient id="g433" href="#B" x1="273.1" x2="349.9"/>
<linearGradient id="g434" href="#B" x1="273.2" x2="349.8"/>
<linearGradient id="g435" href="#B" x1="273.4" x2="349.6"/>
<linearGradient id="g436" href="#B" x1="273.6" x2="349.4"/>
<linearGradient id="g437" href="#B" x1="273.8" x2="349.2"/>
<linearGradient id="g438" href="#B" x1="274" x2="349"/>
<linearGradient id="g439" href="#B" x1="274.1" x2="348.9"/>
<linearGradient id="g440" href="#B" x1="274.3" x2="348.7"/>
<linearGradient id="g441" href="#B" x1="274.5" x2="348.5"/>
<linearGradient id="g442" href="#B" x1="274.7" x2="348.3"/>
<linearGradient id="g443" href="#B" x1="274.9" x2="348.1"/>
<linearGradient id="g444" href="#B" x1="275" x2="348"/>
<linearGradient id="g445" href="#B" x1="275.2" x2="347.8"/>
<linearGradient id="g446" href="#B" x1="275.4" x2="347.6"/>
<linearGradient id="g447" href="#B" x1="275.6" x2="347.4"/>
<linearGradient id="g448" href="#B" x1="275.7" x2="347.3"/>
<linearGradient id="g449" href="#B" x1="275.9" x2="347.1"/>
<linearGradient id="g450" href="#B" x1="276.1" x2="346.9"/>
<linearGradient id="g451" href="#B" x1="276.3" x2="346.7"/>
<linearGradient id="g452" href="#B" x1="276.4" x2="346.6"/>
<linearGradient id="g453" href="#B" x1="276.6" x2="346.4"/>
<linearGradient id="g454" href="#B" x1="276.8" x2="346.2"/>
<linearGradient id="g455" href="#B" x1="276.9" x2="346.1"/>
<linearGradient id="g456" href="#B" x1="277.1" x2="345.9"/>
<linearGradient id="g457" href="#B" x1="277.3" x2="345.7"/>
<linearGradient id="g458" href="#B" x1="277.4" x2="345.6"/>
<linearGradient id="g459" href="#B" x1="277.6" x2="345.4"/>
<linearGradient id="g460" href="#B" x1="277.8" x2="345.2"/>
<linearGradient id="g461" href="#B" x1="277.9" x2="345.1"/>
<linearGradient id="g462" href="#B" x1="278.1" x2="344.9"/>
<linearGradient id="g463" href="#B" x1="278.2" x2="344.8"/>
<linearGradient id="g464" href="#B" x1="278.4" x2="344.6"/>
<linearGradient id="g465" href="#B" x1="278.6" x2="344.4"/>
<linearGradient id="g466" href="#B" x1="278.7" x2="344.3"/>
<linearGradient id="g467" href="#B" x1="278.9" x2="344.1"/>
<linearGradient id="g468" href="#B" x1="279.1" x2="343.9"/>
<linearGradient id="g469" href="#B" x1="279.3" x2="343.7"/>
<linearGradient id="g470" href="#B" x1="279.4" x2="343.6"/>
<linearGradient id="g471" href="#B" x1="279.6" x2="343.4"/>
<linearGradient id="g472" href="#B" x1="279.8" x2="343.2"/>
<linearGradient id="g473" href="#B" x1="280" x2="343"/>
<linearGradient id="g474" href="#B" x1="280.2" x2="342.8"/>
<linearGradient id="g475" href="#B" x1="280.3" x2="342.7"/>
<linearGradient id="g476" href="#B" x1="280.5" x2="342.5"/>
<linearGradient id="g477" href="#B" x1="280.7" x2="342.3"/>
<linearGradient id="g478" href="#B" x1="280.9" x2="342.1"/>
<linearGradient id="g479" href="#B" x1="281.1" x2="341.9"/>
<linearGradient id="g480" href="#B" x1="281.3" x2="341.7"/>
<linearGradient id="g481" href="#B" x1="281.5" x2="341.5"/>
<linearGradient id="g482" href="#B" x1="281.7" x2="341.3"/>
<linearGradient id="g483" href="#B" x1="281.9" x2="341.1"/>
<linearGradient id="g484" href="#B" x1="282.1" x2="340.9"/>
<linearGradient id="g485" href="#B" x1="282.3" x2="340.7"/>
<linearGradient id="g486" href="#B" x1="282.5" x2="340.5"/>
<linearGradient id="g487" href="#B" x1="282.8" x2="340.2"/>
<linearGradient id="g488" href="#B" x1="283" x2="340"/>
<linearGradient id="g489" href="#B" x1="283.2" x2="339.8"/>
<linearGradient id="g490" href="#B" x1="283.4" x2="339.6"/>
<linearGradient id="g491" href="#B" x1="283.6" x2="339.4"/>
<linearGradient id="g492" href="#B" x1="283.9" x2="339.1"/>
<linearGradient id="g493" href="#B" x1="284.1" x2="338.9"/>
<linearGradient id="g494" href="#B" x1="284.3" x2="338.7"/>
<linearGradient id="g495" href="#B" x1="284.6" x2="338.4"/>
<linearGradient id="g496" href="#B" x1="284.8" x2="338.2"/>
<linearGradient id="g497" href="#B" x1="285.1" x2="337.9"/>
<linearGradient id="g498" href="#B" x1="285.4" x2="337.6"/>
<linearGradient id="g499" href="#B" x1="285.6" x2="337.4"/>
<linearGradient id="g500" href="#B" x1="285.9" x2="337.1"/>
<linearGradient id="g501" href="#B" x1="286.3" x2="336.7"/>
<linearGradient id="g502" gradientUnits="userSpaceOnUse" x1="311.5" x2="390.2" spreadMethod="reflect"><stop offset="0" stop-color="#ffffff"/><stop offset=".019" stop-color="#fbfbfb"/><stop offset=".076" stop-color="#e1e1e1"/><stop offset=".108" stop-color="#cecece"/><stop offset=".134" stop-color="#b9b9b9"/><stop offset=".191" stop-color="#929292"/><stop offset=".204" stop-color="#858585"/><stop offset=".242" stop-color="#555555"/><stop offset=".28" stop-color="#1b1b1b"/><stop offset=".299" stop-color="#050505"/><stop offset=".306" stop-color="#010101"/><stop offset="1" stop-color="#000000"/></linearGradient>
<linearGradient id="g503" gradientUnits="userSpaceOnUse" x1="311.5" x2="390.2" spreadMethod="reflect"><stop offset="0" stop-color="#ffffff"/><stop offset=".019" stop-color="#fbfbfb"/><stop offset=".076" stop-color="#e0e0e0"/><stop offset=".108" stop-color="#cdcdcd"/><stop offset=".134" stop-color="#b8b8b8"/><stop offset=".191" stop-color="#909090"/><stop offset=".242" stop-color="#505050"/><stop offset=".268" stop-color="#272727"/><stop offset=".28" stop-color="#151515"/><stop offset=".299" stop-color="#010101"/><stop offset="1" stop-color="#000000"/></linearGradient>
<linearGradient id="g504" gradientUnits="userSpaceOnUse" x1="311.5" x2="390.2" spreadMethod="reflect"><stop offset="0" stop-color="#ffffff"/><stop offset=".019" stop-color="#fbfbfb"/><stop offset=".076" stop-color="#dfdfdf"/><stop offset=".108" stop-color="#cbcbcb"/><stop offset=".127" stop-color="#bbbbbb"/><stop offset=".185" stop-color="#929292"/><stop offset=".197" stop-color="#858585"/><stop offset=".236" stop-color="#545454"/><stop offset=".274" stop-color="#181818"/><stop offset=".293" stop-color="#030303"/><stop offset=".299" stop-color="#000000"/><stop offset="1" stop-color="#000000"/></linearGradient>
<linearGradient id="g505" gradientUnits="userSpaceOnUse" x1="311.5" x2="390.2" spreadMethod="reflect"><stop offset="0" stop-color="#ffffff"/><stop offset=".019" stop-color="#fafafa"/><stop offset=".07" stop-color="#e2e2e2"/><stop offset=".102" stop-color="#cecece"/><stop offset=".127" stop-color="#b9b9b9"/><stop offset=".185" stop-color="#8f8f8f"/><stop offset=".236" stop-color="#4e4e4e"/><stop offset=".268" stop-color="#1b1b1b"/><stop offset=".287" stop-color="#040404"/><stop offset=".293" stop-color="#000000"/><stop offset="1" stop-color="#000000"/></linearGradient>
<linearGradient id="g506" gradientUnits="userSpaceOnUse" x1="311.5" x2="390.2" spreadMethod="reflect"><stop offset="0" stop-color="#ffffff"/><stop offset=".019" stop-color="#fafafa"/><stop offset=".07" stop-color="#e1e1e1"/><stop offset=".102" stop-color="#cdcdcd"/><stop offset=".121" stop-color="#bcbcbc"/><stop offset=".178" stop-color="#929292"/><stop offset=".191" stop-color="#848484"/><stop offset=".229" stop-color="#515151"/><stop offset=".268" stop-color="#151515"/><stop offset=".287" stop-color="#010101"/><stop offset="1" stop-color="#000000"/></linearGradient>
<linearGradient id="g507" gradientUnits="userSpaceOnUse" x1="311.5" x2="390.2" spreadMethod="reflect"><stop offset="0" stop-color="#ffffff"/><stop offset=".019" stop-color="#fafafa"/><stop offset=".07" stop-color="#e0e0e0"/><stop offset=".102" stop-color="#cbcbcb"/><stop offset=".121" stop-color="#b9b9b9"/><stop offset=".172" stop-color="#949494"/><stop offset=".185" stop-color="#878787"/><stop offset=".21" stop-color="#666666"/><stop offset=".236" stop-color="#414141"/><stop offset=".248" stop-color="#2a2a2a"/><stop offset=".261" stop-color="#171717"/><stop offset=".28" stop-color="#010101"/><stop offset="1" stop-color="#000000"/></linearGradient>
<linearGradient id="g508" gradientUnits="userSpaceOnUse" x1="311.5" x2="390.2" spreadMethod="reflect"><stop offset="0" stop-color="#ffffff"/><stop offset=".019" stop-color="#fafafa"/><stop offset=".064" stop-color="#e2e2e2"/><stop offset=".096" stop-color="#cecece"/><stop offset=".115" stop-color="#bcbcbc"/><stop offset=".172" stop-color="#919191"/><stop offset=".223" stop-color="#4d4d4d"/><stop offset=".255" stop-color="#181818"/><stop offset=".274" stop-color="#020202"/><stop offset=".28" stop-color="#000000"/><stop offset="1" stop-color="#000000"/></linearGradient>
<linearGradient id="g509" gradientUnits="userSpaceOnUse" x1="311.5" x2="390.2" spreadMethod="reflect"><stop offset="0" stop-color="#ffffff"/><stop offset=".019" stop-color="#f9f9f9"/><stop offset=".064" stop-color="#e1e1e1"/><stop offset=".096" stop-color="#cccccc"/><stop offset=".115" stop-color="#b9b9b9"/><stop offset=".166" stop-color="#929292"/><stop offset=".178" stop-color="#848484"/><stop offset=".217" stop-color="#4f4f4f"/><stop offset=".242" stop-color="#242424"/><stop offset=".255" stop-color="#111111"/><stop offset=".268" stop-color="#020202"/><stop offset=".274" stop-color="#000000"/><stop offset="1" stop-color="#000000"/></linearGradient>
<linearGradient id="g510" gradientUnits="userSpaceOnUse" x1="311.5" x2="390.2" spreadMethod="reflect"><stop offset="0" stop-color="#ffffff"/><stop offset=".019" stop-color="#f9f9f9"/><stop offset=".064" stop-color="#e0e0e0"/><stop offset=".089" stop-color="#cecece"/><stop offset=".108" stop-color="#bcbcbc"/><stop offset=".159" stop-color="#949494"/><stop offset=".172" stop-color="#868686"/><stop offset=".21" stop-color="#515151"/><stop offset=".223" stop-color="#3d3d3d"/><stop offset=".236" stop-color="#252525"/><stop offset=".248" stop-color="#111111"/><stop offset=".261" stop-color="#020202"/><stop offset=".268" stop-color="#000000"/><stop offset="1" stop-color="#000000"/></linearGradient>
<linearGradient id="g511" gradientUnits="userSpaceOnUse" x1="311.5" x2="390.2" spreadMethod="reflect"><stop offset="0" stop-color="#ffffff"/><stop offset=".019" stop-color="#f9f9f9"/><stop offset=".057" stop-color="#e2e2e2"/><stop offset=".089" stop-color="#cbcbcb"/><stop offset=".108" stop-color="#b8b8b8"/><stop offset=".159" stop-color="#8f8f8f"/><stop offset=".21" stop-color="#484848"/><stop offset=".229" stop-color="#252525"/><stop offset=".242" stop-color="#111111"/><stop offset=".255" stop-color="#020202"/><stop offset=".261" stop-color="#000000"/><stop offset="1" stop-color="#000000"/></linearGradient>
<linearGradient id="g512" gradientUnits="userSpaceOnUse" x1="311.5" x2="390.2" spreadMethod="reflect"><stop offset="0" stop-color="#ffffff"/><stop offset=".019" stop-color="#f8f8f8"/><stop offset=".057" stop-color="#e1e1e1"/><stop offset=".083" stop-color="#cecece"/><stop offset=".102" stop-color="#bababa"/><stop offset=".153" stop-color="#909090"/><stop offset=".197" stop-color="#525252"/><stop offset=".21" stop-color="#3e3e3e"/><stop offset=".229" stop-color="#1a1a1a"/><stop offset=".248" stop-color="#010101"/><stop offset="1" stop-color="#000000"/></linearGradient>
<linearGradient id="g513" gradientUnits="userSpaceOnUse" x1="311.5" x2="390.2" spreadMethod="reflect"><stop offset="0" stop-color="#ffffff"/><stop offset=".013" stop-color="#fbfbfb"/><stop offset=".051" stop-color="#e3e3e3"/><stop offset=".076" stop-color="#d0d0d0"/><stop offset=".096" stop-color="#bcbcbc"/><stop offset=".146" stop-color="#919191"/><stop offset=".191" stop-color="#525252"/><stop offset=".204" stop-color="#3e3e3e"/><stop offset=".223" stop-color="#1a1a1a"/><stop offset=".242" stop-color="#010101"/><stop offset="1" stop-color="#000000"/></linearGradient>
<linearGradient id="g514" gradientUnits="userSpaceOnUse" x1="311.5" x2="390.2" spreadMethod="reflect"><stop offset="0" stop-color="#ffffff"/><stop offset=".013" stop-color="#fbfbfb"/><stop offset=".051" stop-color="#e1e1e1"/><stop offset=".076" stop-color="#cccccc"/><stop offset=".096" stop-color="#b7b7b7"/><stop offset=".14" stop-color="#919191"/><stop offset=".191" stop-color="#484848"/><stop offset=".217" stop-color="#181818"/><stop offset=".229" stop-color="#060606"/><stop offset=".236" stop-color="#000000"/><stop offset="1" stop-color="#000000"/></linearGradient>
<linearGradient id="g515" gradientUnits="userSpaceOnUse" x1="311.5" x2="390.2" spreadMethod="reflect"><stop offset="0" stop-color="#ffffff"/><stop offset=".013" stop-color="#fafafa"/><stop offset=".045" stop-color="#e4e4e4"/><stop offset=".07" stop-color="#cecece"/><stop offset=".089" stop-color="#b8b8b8"/><stop offset=".134" stop-color="#909090"/><stop offset=".185" stop-color="#464646"/><stop offset=".21" stop-color="#151515"/><stop offset=".223" stop-color="#030303"/><stop offset=".229" stop-color="#000000"/><stop offset="1" stop-color="#000000"/></linearGradient>
<linearGradient id="g516" gradientUnits="userSpaceOnUse" x1="311.5" x2="390.2" spreadMethod="reflect"><stop offset="0" stop-color="#ffffff"/><stop offset=".013" stop-color="#f9f9f9"/><stop offset=".045" stop-color="#e1e1e1"/><stop offset=".064" stop-color="#d0d0d0"/><stop offset=".083" stop-color="#b9b9b9"/><stop offset=".127" stop-color="#8e8e8e"/><stop offset=".178" stop-color="#424242"/><stop offset=".197" stop-color="#1b1b1b"/><stop offset=".21" stop-color="#070707"/><stop offset=".217" stop-color="#000000"/><stop offset="1" stop-color="#000000"/></linearGradient>
<linearGradient id="g517" gradientUnits="userSpaceOnUse" x1="311.5" x2="390.2" spreadMethod="reflect"><stop offset="0" stop-color="#ffffff"/><stop offset=".013" stop-color="#f8f8f8"/><stop offset=".038" stop-color="#e3e3e3"/><stop offset=".064" stop-color="#cacaca"/><stop offset=".076" stop-color="#b9b9b9"/><stop offset=".115" stop-color="#939393"/><stop offset=".172" stop-color="#3e3e3e"/><stop offset=".191" stop-color="#151515"/><stop offset=".197" stop-color="#0b0b0b"/><stop offset=".204" stop-color="#020202"/><stop offset=".21" stop-color="#000000"/><stop offset="1" stop-color="#000000"/></linearGradient>
<linearGradient id="g518" gradientUnits="userSpaceOnUse" x1="311.5" x2="390.2" spreadMethod="reflect"><stop offset="0" stop-color="#fefefe"/><stop offset=".013" stop-color="#f7f7f7"/><stop offset=".038" stop-color="#e0e0e0"/><stop offset=".057" stop-color="#cbcbcb"/><stop offset=".07" stop-color="#b9b9b9"/><stop offset=".108" stop-color="#919191"/><stop offset=".166" stop-color="#3a3a3a"/><stop offset=".185" stop-color="#111111"/><stop offset=".191" stop-color="#060606"/><stop offset=".197" stop-color="#000000"/><stop offset="1" stop-color="#000000"/></linearGradient>
<linearGradient id="g519" gradientUnits="userSpaceOnUse" x1="311.5" x2="390.2" spreadMethod="reflect"><stop offset="0" stop-color="#fdfdfd"/><stop offset=".006" stop-color="#fafafa"/><stop offset=".032" stop-color="#e2e2e2"/><stop offset=".051" stop-color="#cdcdcd"/><stop offset=".064" stop-color="#bababa"/><stop offset=".102" stop-color="#909090"/><stop offset=".159" stop-color="#3a3a3a"/><stop offset=".178" stop-color="#101010"/><stop offset=".185" stop-color="#050505"/><stop offset=".191" stop-color="#000000"/><stop offset="1" stop-color="#000000"/></linearGradient>
<linearGradient id="g520" gradientUnits="userSpaceOnUse" x1="311.5" x2="390.2" spreadMethod="reflect"><stop offset="0" stop-color="#fbfbfb"/><stop offset=".006" stop-color="#f8f8f8"/><stop offset=".032" stop-color="#dedede"/><stop offset=".051" stop-color="#c6c6c6"/><stop offset=".064" stop-color="#b3b3b3"/><stop offset=".096" stop-color="#8f8f8f"/><stop offset=".127" stop-color="#5d5d5d"/><stop offset=".153" stop-color="#3b3b3b"/><stop offset=".159" stop-color="#303030"/><stop offset=".172" stop-color="#121212"/><stop offset=".178" stop-color="#070707"/><stop offset=".185" stop-color="#000000"/><stop offset="1" stop-color="#000000"/></linearGradient>
<linearGradient id="g521" gradientUnits="userSpaceOnUse" x1="311.5" x2="390.2" spreadMethod="reflect"><stop offset="0" stop-color="#f6f6f6"/><stop offset=".006" stop-color="#f2f2f2"/><stop offset=".025" stop-color="#dedede"/><stop offset=".045" stop-color="#c6c6c6"/><stop offset=".057" stop-color="#b1b1b1"/><stop offset=".089" stop-color="#8c8c8c"/><stop offset=".121" stop-color="#5b5b5b"/><stop offset=".153" stop-color="#353535"/><stop offset=".166" stop-color="#151515"/><stop offset=".178" stop-color="#000000"/><stop offset="1" stop-color="#000000"/></linearGradient>
<linearGradient id="g522" gradientUnits="userSpaceOnUse" x1="311.5" x2="390.2" spreadMethod="reflect"><stop offset="0" stop-color="#ebebeb"/><stop offset=".006" stop-color="#e7e7e7"/><stop offset=".038" stop-color="#c1c1c1"/><stop offset=".051" stop-color="#adadad"/><stop offset=".083" stop-color="#878787"/><stop offset=".115" stop-color="#575757"/><stop offset=".146" stop-color="#363636"/><stop offset=".172" stop-color="#020202"/><stop offset=".178" stop-color="#000000"/><stop offset="1" stop-color="#000000"/></linearGradient>
<linearGradient id="g523" gradientUnits="userSpaceOnUse" x1="311.5" x2="390.2" spreadMethod="reflect"><stop offset="0" stop-color="#d3d3d3"/><stop offset=".006" stop-color="#cfcfcf"/><stop offset=".025" stop-color="#bababa"/><stop offset=".038" stop-color="#ababab"/><stop offset=".045" stop-color="#a0a0a0"/><stop offset=".076" stop-color="#7d7d7d"/><stop offset=".096" stop-color="#616161"/><stop offset=".115" stop-color="#494949"/><stop offset=".134" stop-color="#393939"/><stop offset=".146" stop-color="#333333"/><stop offset=".159" stop-color="#141414"/><stop offset=".166" stop-color="#070707"/><stop offset=".172" stop-color="#000000"/><stop offset="1" stop-color="#000000"/></linearGradient>
<linearGradient id="g524" gradientUnits="userSpaceOnUse" x1="311.5" x2="390.2" spreadMethod="reflect"><stop offset="0" stop-color="#bdbdbd"/><stop offset=".006" stop-color="#bababa"/><stop offset=".019" stop-color="#aeaeae"/><stop offset=".057" stop-color="#777777"/><stop offset=".076" stop-color="#666666"/><stop offset=".102" stop-color="#4b4b4b"/><stop offset=".127" stop-color="#373737"/><stop offset=".146" stop-color="#303030"/><stop offset=".159" stop-color="#111111"/><stop offset=".166" stop-color="#050505"/><stop offset=".172" stop-color="#000000"/><stop offset="1" stop-color="#000000"/></linearGradient>
<linearGradient id="g525" gradientUnits="userSpaceOnUse" x1="311.5" x2="390.2" spreadMethod="reflect"><stop offset="0" stop-color="#afafaf"/><stop offset=".013" stop-color="#aaaaaa"/><stop offset=".025" stop-color="#9e9e9e"/><stop offset=".038" stop-color="#8b8b8b"/><stop offset=".07" stop-color="#636363"/><stop offset=".096" stop-color="#3e3e3e"/><stop offset=".102" stop-color="#3a3a3a"/><stop offset=".127" stop-color="#303030"/><stop offset=".14" stop-color="#2e2e2e"/><stop offset=".146" stop-color="#292929"/><stop offset=".153" stop-color="#1b1b1b"/><stop offset=".166" stop-color="#030303"/><stop offset=".172" stop-color="#000000"/><stop offset="1" stop-color="#000000"/></linearGradient>
<linearGradient id="g526" gradientUnits="userSpaceOnUse" x1="311.5" x2="390.2" spreadMethod="reflect"><stop offset="0" stop-color="#9f9f9f"/><stop offset=".013" stop-color="#9c9c9c"/><stop offset=".019" stop-color="#979797"/><stop offset=".064" stop-color="#656565"/><stop offset=".089" stop-color="#414141"/><stop offset=".108" stop-color="#2e2e2e"/><stop offset=".121" stop-color="#242424"/><stop offset=".127" stop-color="#232323"/><stop offset=".14" stop-color="#262626"/><stop offset=".146" stop-color="#1f1f1f"/><stop offset=".166" stop-color="#010101"/><stop offset="1" stop-color="#000000"/></linearGradient>
<linearGradient id="g527" gradientUnits="userSpaceOnUse" x1="311.5" x2="390.2" spreadMethod="reflect"><stop offset="0" stop-color="#8b8b8b"/><stop offset=".013" stop-color="#898989"/><stop offset=".032" stop-color="#7d7d7d"/><stop offset=".057" stop-color="#646464"/><stop offset=".076" stop-color="#4a4a4a"/><stop offset=".096" stop-color="#343434"/><stop offset=".115" stop-color="#252525"/><stop offset=".14" stop-color="#191919"/><stop offset=".159" stop-color="#040404"/><stop offset=".166" stop-color="#000000"/><stop offset="1" stop-color="#000000"/></linearGradient>
<linearGradient id="g528" gradientUnits="userSpaceOnUse" x1="311.5" x2="390.2" spreadMethod="reflect"><stop offset="0" stop-color="#7c7c7c"/><stop offset=".019" stop-color="#787878"/><stop offset=".038" stop-color="#6c6c6c"/><stop offset=".089" stop-color="#343434"/><stop offset=".115" stop-color="#212121"/><stop offset=".134" stop-color="#1b1b1b"/><stop offset=".146" stop-color="#0a0a0a"/><stop offset=".159" stop-color="#000000"/><stop offset="1" stop-color="#000000"/></linearGradient>
<linearGradient id="g529" gradientUnits="userSpaceOnUse" x1="311.5" x2="390.2" spreadMethod="reflect"><stop offset="0" stop-color="#6e6e6e"/><stop offset=".013" stop-color="#6c6c6c"/><stop offset=".025" stop-color="#666666"/><stop offset=".083" stop-color="#323232"/><stop offset=".108" stop-color="#212121"/><stop offset=".127" stop-color="#1a1a1a"/><stop offset=".14" stop-color="#0b0b0b"/><stop offset=".153" stop-color="#010101"/><stop offset="1" stop-color="#000000"/></linearGradient>
<linearGradient id="g530" gradientUnits="userSpaceOnUse" x1="311.5" x2="390.2" spreadMethod="reflect"><stop offset="0" stop-color="#5c5c5c"/><stop offset=".013" stop-color="#5a5a5a"/><stop offset=".032" stop-color="#505050"/><stop offset=".083" stop-color="#2a2a2a"/><stop offset=".121" stop-color="#181818"/><stop offset=".134" stop-color="#0a0a0a"/><stop offset=".146" stop-color="#000000"/><stop offset="1" stop-color="#000000"/></linearGradient>
<linearGradient id="g531" gradientUnits="userSpaceOnUse" x1="311.5" x2="390.2" spreadMethod="reflect"><stop offset="0" stop-color="#4a4a4a"/><stop offset=".025" stop-color="#444444"/><stop offset=".083" stop-color="#232323"/><stop offset=".108" stop-color="#1a1a1a"/><stop offset=".127" stop-color="#080808"/><stop offset=".14" stop-color="#000000"/><stop offset="1" stop-color="#000000"/></linearGradient>
<linearGradient id="g532" gradientUnits="userSpaceOnUse" x1="311.5" x2="390.2" spreadMethod="reflect"><stop offset="0" stop-color="#3c3c3c"/><stop offset=".025" stop-color="#383838"/><stop offset=".076" stop-color="#212121"/><stop offset=".096" stop-color="#1b1b1b"/><stop offset=".115" stop-color="#090909"/><stop offset=".127" stop-color="#010101"/><stop offset=".134" stop-color="#000000"/><stop offset="1" stop-color="#000000"/></linearGradient>
<linearGradient id="g533" gradientUnits="userSpaceOnUse" x1="311.5" x2="390.2" spreadMethod="reflect"><stop offset="0" stop-color="#323232"/><stop offset=".025" stop-color="#2e2e2e"/><stop offset=".076" stop-color="#1d1d1d"/><stop offset=".102" stop-color="#090909"/><stop offset=".121" stop-color="#000000"/><stop offset="1" stop-color="#000000"/></linearGradient>
<linearGradient id="g534" gradientUnits="userSpaceOnUse" x1="311.5" x2="390.2" spreadMethod="reflect"><stop offset="0" stop-color="#2a2a2a"/><stop offset=".025" stop-color="#272727"/><stop offset=".057" stop-color="#1f1f1f"/><stop offset=".083" stop-color="#0a0a0a"/><stop offset=".096" stop-color="#030303"/><stop offset=".108" stop-color="#000000"/><stop offset="1" stop-color="#000000"/></linearGradient>
<linearGradient id="g535" gradientUnits="userSpaceOnUse" x1="311.5" x2="390.2" spreadMethod="reflect"><stop offset="0" stop-color="#252525"/><stop offset=".019" stop-color="#212121"/><stop offset=".07" stop-color="#050505"/><stop offset=".089" stop-color="#000000"/><stop offset="1" stop-color="#000000"/></linearGradient>
<linearGradient id="g536" gradientUnits="userSpaceOnUse" x1="311.5" x2="390.2" spreadMethod="reflect"><stop offset="0" stop-color="#0d0d0d"/><stop offset=".064" stop-color="#000000"/><stop offset="1" stop-color="#000000"/></linearGradient>
<linearGradient id="g537" gradientUnits="userSpaceOnUse" x1="311.5" x2="390.2" spreadMethod="reflect"><stop offset="0" stop-color="#000000"/><stop offset="1" stop-color="#000000"/></linearGradient>
<clipPath id="cb2"><rect x="238.8" y="405.4" width="150.4" height="182.0"/></clipPath>
<linearGradient id="g538" gradientUnits="userSpaceOnUse" x1="474.8" x2="556.4" spreadMethod="reflect"><stop offset="0" stop-color="#bababa"/><stop offset=".202" stop-color="#b6b6b6"/><stop offset=".245" stop-color="#afafaf"/><stop offset=".276" stop-color="#a6a6a6"/><stop offset=".325" stop-color="#939393"/><stop offset=".344" stop-color="#898989"/><stop offset=".423" stop-color="#4c4c4c"/><stop offset=".479" stop-color="#191919"/><stop offset=".509" stop-color="#050505"/><stop offset=".521" stop-color="#000000"/><stop offset="1" stop-color="#000000"/></linearGradient>
<linearGradient id="g539" gradientUnits="userSpaceOnUse" x1="474.8" x2="556.4" spreadMethod="reflect"><stop offset="0" stop-color="#bcbcbc"/><stop offset=".202" stop-color="#b6b6b6"/><stop offset=".245" stop-color="#afafaf"/><stop offset=".276" stop-color="#a6a6a6"/><stop offset=".325" stop-color="#929292"/><stop offset=".344" stop-color="#878787"/><stop offset=".417" stop-color="#4f4f4f"/><stop offset=".472" stop-color="#1c1c1c"/><stop offset=".515" stop-color="#010101"/><stop offset="1" stop-color="#000000"/></linearGradient>
<linearGradient id="g540" gradientUnits="userSpaceOnUse" x1="474.8" x2="556.4" spreadMethod="reflect"><stop offset="0" stop-color="#bdbdbd"/><stop offset=".196" stop-color="#b7b7b7"/><stop offset=".233" stop-color="#b2b2b2"/><stop offset=".27" stop-color="#a8a8a8"/><stop offset=".319" stop-color="#949494"/><stop offset=".337" stop-color="#8a8a8a"/><stop offset=".417" stop-color="#4e4e4e"/><stop offset=".472" stop-color="#1a1a1a"/><stop offset=".503" stop-color="#050505"/><stop offset=".515" stop-color="#000000"/><stop offset="1" stop-color="#000000"/></linearGradient>
<linearGradient id="g541" gradientUnits="userSpaceOnUse" x1="474.8" x2="556.4" spreadMethod="reflect"><stop offset="0" stop-color="#bfbfbf"/><stop offset=".196" stop-color="#b8b8b8"/><stop offset=".239" stop-color="#b0b0b0"/><stop offset=".27" stop-color="#a7a7a7"/><stop offset=".319" stop-color="#949494"/><stop offset=".337" stop-color="#898989"/><stop offset=".417" stop-color="#4c4c4c"/><stop offset=".454" stop-color="#282828"/><stop offset=".472" stop-color="#181818"/><stop offset=".503" stop-color="#040404"/><stop offset=".515" stop-color="#000000"/><stop offset="1" stop-color="#000000"/></linearGradient>
<linearGradient id="g542" gradientUnits="userSpaceOnUse" x1="474.8" x2="556.4" spreadMethod="reflect"><stop offset="0" stop-color="#c2c2c2"/><stop offset=".196" stop-color="#b9b9b9"/><stop offset=".239" stop-color="#b0b0b0"/><stop offset=".27" stop-color="#a7a7a7"/><stop offset=".319" stop-color="#939393"/><stop offset=".337" stop-color="#888888"/><stop offset=".411" stop-color="#4f4f4f"/><stop offset=".466" stop-color="#1b1b1b"/><stop offset=".497" stop-color="#060606"/><stop offset=".509" stop-color="#010101"/><stop offset="1" stop-color="#000000"/></linearGradient>
<linearGradient id="g543" gradientUnits="userSpaceOnUse" x1="474.8" x2="556.4" spreadMethod="reflect"><stop offset="0" stop-color="#c5c5c5"/><stop offset=".196" stop-color="#bababa"/><stop offset=".239" stop-color="#b0b0b0"/><stop offset=".27" stop-color="#a7a7a7"/><stop offset=".319" stop-color="#929292"/><stop offset=".337" stop-color="#878787"/><stop offset=".411" stop-color="#4e4e4e"/><stop offset=".466" stop-color="#1a1a1a"/><stop offset=".497" stop-color="#050505"/><stop offset=".509" stop-color="#000000"/><stop offset="1" stop-color="#000000"/></linearGradient>
<linearGradient id="g544" gradientUnits="userSpaceOnUse" x1="474.8" x2="556.4" spreadMethod="reflect"><stop offset="0" stop-color="#c9c9c9"/><stop offset=".055" stop-color="#c3c3c3"/><stop offset=".196" stop-color="#bababa"/><stop offset=".239" stop-color="#b1b1b1"/><stop offset=".27" stop-color="#a6a6a6"/><stop offset=".319" stop-color="#929292"/><stop offset=".337" stop-color="#878787"/><stop offset=".411" stop-color="#4d4d4d"/><stop offset=".466" stop-color="#191919"/><stop offset=".497" stop-color="#040404"/><stop offset=".509" stop-color="#000000"/><stop offset="1" stop-color="#000000"/></linearGradient>
<linearGradient id="g545" gradientUnits="userSpaceOnUse" x1="474.8" x2="556.4" spreadMethod="reflect"><stop offset="0" stop-color="#cccccc"/><stop offset=".074" stop-color="#c3c3c3"/><stop offset=".196" stop-color="#bbbbbb"/><stop offset=".239" stop-color="#b1b1b1"/><stop offset=".27" stop-color="#a6a6a6"/><stop offset=".319" stop-color="#929292"/><stop offset=".337" stop-color="#868686"/><stop offset=".411" stop-color="#4c4c4c"/><stop offset=".46" stop-color="#1d1d1d"/><stop offset=".503" stop-color="#010101"/><stop offset="1" stop-color="#000000"/></linearGradient>
<linearGradient id="g546" gradientUnits="userSpaceOnUse" x1="474.8" x2="556.4" spreadMethod="reflect"><stop offset="0" stop-color="#d0d0d0"/><stop offset=".08" stop-color="#c5c5c5"/><stop offset=".202" stop-color="#bababa"/><stop offset=".252" stop-color="#adadad"/><stop offset=".307" stop-color="#979797"/><stop offset=".331" stop-color="#8a8a8a"/><stop offset=".362" stop-color="#737373"/><stop offset=".411" stop-color="#4b4b4b"/><stop offset=".46" stop-color="#1c1c1c"/><stop offset=".491" stop-color="#070707"/><stop offset=".503" stop-color="#010101"/><stop offset="1" stop-color="#000000"/></linearGradient>
<linearGradient id="g547" gradientUnits="userSpaceOnUse" x1="474.8" x2="556.4" spreadMethod="reflect"><stop offset="0" stop-color="#d4d4d4"/><stop offset=".086" stop-color="#c7c7c7"/><stop offset=".202" stop-color="#bbbbbb"/><stop offset=".252" stop-color="#adadad"/><stop offset=".307" stop-color="#979797"/><stop offset=".331" stop-color="#898989"/><stop offset=".38" stop-color="#646464"/><stop offset=".417" stop-color="#454545"/><stop offset=".442" stop-color="#2b2b2b"/><stop offset=".466" stop-color="#161616"/><stop offset=".491" stop-color="#060606"/><stop offset=".503" stop-color="#000000"/><stop offset="1" stop-color="#000000"/></linearGradient>
<linearGradient id="g548" gradientUnits="userSpaceOnUse" x1="474.8" x2="556.4" spreadMethod="reflect"><stop offset="0" stop-color="#d9d9d9"/><stop offset=".086" stop-color="#cacaca"/><stop offset=".196" stop-color="#bdbdbd"/><stop offset=".252" stop-color="#adadad"/><stop offset=".307" stop-color="#969696"/><stop offset=".331" stop-color="#898989"/><stop offset=".38" stop-color="#636363"/><stop offset=".411" stop-color="#4a4a4a"/><stop offset=".442" stop-color="#2a2a2a"/><stop offset=".466" stop-color="#151515"/><stop offset=".491" stop-color="#050505"/><stop offset=".503" stop-color="#000000"/><stop offset="1" stop-color="#000000"/></linearGradient>
<linearGradient id="g549" gradientUnits="userSpaceOnUse" x1="474.8" x2="556.4" spreadMethod="reflect"><stop offset="0" stop-color="#dfdfdf"/><stop offset=".061" stop-color="#d2d2d2"/><stop offset=".196" stop-color="#bebebe"/><stop offset=".252" stop-color="#adadad"/><stop offset=".307" stop-color="#969696"/><stop offset=".325" stop-color="#8c8c8c"/><stop offset=".362" stop-color="#717171"/><stop offset=".411" stop-color="#494949"/><stop offset=".454" stop-color="#1e1e1e"/><stop offset=".497" stop-color="#010101"/><stop offset="1" stop-color="#000000"/></linearGradient>
<linearGradient id="g550" gradientUnits="userSpaceOnUse" x1="474.8" x2="556.4" spreadMethod="reflect"><stop offset="0" stop-color="#e5e5e5"/><stop offset=".074" stop-color="#d4d4d4"/><stop offset=".196" stop-color="#bfbfbf"/><stop offset=".252" stop-color="#adadad"/><stop offset=".307" stop-color="#969696"/><stop offset=".325" stop-color="#8c8c8c"/><stop offset=".362" stop-color="#707070"/><stop offset=".411" stop-color="#484848"/><stop offset=".454" stop-color="#1d1d1d"/><stop offset=".497" stop-color="#010101"/><stop offset="1" stop-color="#000000"/></linearGradient>
<linearGradient id="g551" gradientUnits="userSpaceOnUse" x1="474.8" x2="556.4" spreadMethod="reflect"><stop offset="0" stop-color="#eaeaea"/><stop offset=".086" stop-color="#d6d6d6"/><stop offset=".19" stop-color="#c2c2c2"/><stop offset=".252" stop-color="#acacac"/><stop offset=".307" stop-color="#959595"/><stop offset=".331" stop-color="#878787"/><stop offset=".38" stop-color="#616161"/><stop offset=".411" stop-color="#474747"/><stop offset=".436" stop-color="#2d2d2d"/><stop offset=".46" stop-color="#171717"/><stop offset=".497" stop-color="#010101"/><stop offset="1" stop-color="#000000"/></linearGradient>
<linearGradient id="g552" gradientUnits="userSpaceOnUse" x1="474.8" x2="556.4" spreadMethod="reflect"><stop offset="0" stop-color="#efefef"/><stop offset=".184" stop-color="#c5c5c5"/><stop offset=".307" stop-color="#959595"/><stop offset=".331" stop-color="#868686"/><stop offset=".38" stop-color="#606060"/><stop offset=".411" stop-color="#464646"/><stop offset=".436" stop-color="#2c2c2c"/><stop offset=".46" stop-color="#161616"/><stop offset=".485" stop-color="#060606"/><stop offset=".497" stop-color="#000000"/><stop offset="1" stop-color="#000000"/></linearGradient>
<linearGradient id="g553" gradientUnits="userSpaceOnUse" x1="474.8" x2="556.4" spreadMethod="reflect"><stop offset="0" stop-color="#f1f1f1"/><stop offset=".037" stop-color="#ececec"/><stop offset=".184" stop-color="#c7c7c7"/><stop offset=".307" stop-color="#959595"/><stop offset=".331" stop-color="#868686"/><stop offset=".387" stop-color="#5a5a5a"/><stop offset=".46" stop-color="#161616"/><stop offset=".485" stop-color="#050505"/><stop offset=".497" stop-color="#000000"/><stop offset="1" stop-color="#000000"/></linearGradient>
<linearGradient id="g554" gradientUnits="userSpaceOnUse" x1="474.8" x2="556.4" spreadMethod="reflect"><stop offset="0" stop-color="#f3f3f3"/><stop offset=".055" stop-color="#ebebeb"/><stop offset=".178" stop-color="#cacaca"/><stop offset=".307" stop-color="#949494"/><stop offset=".331" stop-color="#858585"/><stop offset=".393" stop-color="#545454"/><stop offset=".454" stop-color="#191919"/><stop offset=".491" stop-color="#010101"/><stop offset="1" stop-color="#000000"/></linearGradient>
<linearGradient id="g555" gradientUnits="userSpaceOnUse" x1="474.8" x2="556.4" spreadMethod="reflect"><stop offset="0" stop-color="#f5f5f5"/><stop offset=".055" stop-color="#ededed"/><stop offset=".141" stop-color="#d8d8d8"/><stop offset=".184" stop-color="#c9c9c9"/><stop offset=".307" stop-color="#949494"/><stop offset=".331" stop-color="#848484"/><stop offset=".393" stop-color="#535353"/><stop offset=".454" stop-color="#191919"/><stop offset=".491" stop-color="#010101"/><stop offset="1" stop-color="#000000"/></linearGradient>
<linearGradient id="g556" gradientUnits="userSpaceOnUse" x1="474.8" x2="556.4" spreadMethod="reflect"><stop offset="0" stop-color="#f6f6f6"/><stop offset=".043" stop-color="#f2f2f2"/><stop offset=".123" stop-color="#dfdfdf"/><stop offset=".184" stop-color="#cacaca"/><stop offset=".215" stop-color="#bababa"/><stop offset=".307" stop-color="#939393"/><stop offset=".331" stop-color="#838383"/><stop offset=".387" stop-color="#575757"/><stop offset=".454" stop-color="#171717"/><stop offset=".479" stop-color="#060606"/><stop offset=".491" stop-color="#000000"/><stop offset="1" stop-color="#000000"/></linearGradient>
<linearGradient id="g557" gradientUnits="userSpaceOnUse" x1="474.8" x2="556.4" spreadMethod="reflect"><stop offset="0" stop-color="#f7f7f7"/><stop offset=".043" stop-color="#f3f3f3"/><stop offset=".123" stop-color="#e0e0e0"/><stop offset=".178" stop-color="#cdcdcd"/><stop offset=".215" stop-color="#bababa"/><stop offset=".307" stop-color="#929292"/><stop offset=".325" stop-color="#878787"/><stop offset=".387" stop-color="#565656"/><stop offset=".448" stop-color="#1a1a1a"/><stop offset=".485" stop-color="#020202"/><stop offset="1" stop-color="#000000"/></linearGradient>
<linearGradient id="g558" gradientUnits="userSpaceOnUse" x1="474.8" x2="556.4" spreadMethod="reflect"><stop offset="0" stop-color="#f8f8f8"/><stop offset=".043" stop-color="#f4f4f4"/><stop offset=".123" stop-color="#e0e0e0"/><stop offset=".178" stop-color="#cdcdcd"/><stop offset=".215" stop-color="#bababa"/><stop offset=".307" stop-color="#929292"/><stop offset=".325" stop-color="#858585"/><stop offset=".387" stop-color="#545454"/><stop offset=".448" stop-color="#181818"/><stop offset=".485" stop-color="#010101"/><stop offset="1" stop-color="#000000"/></linearGradient>
<linearGradient id="g559" gradientUnits="userSpaceOnUse" x1="474.8" x2="556.4" spreadMethod="reflect"><stop offset="0" stop-color="#f9f9f9"/><stop offset=".043" stop-color="#f4f4f4"/><stop offset=".123" stop-color="#e0e0e0"/><stop offset=".178" stop-color="#cccccc"/><stop offset=".215" stop-color="#b9b9b9"/><stop offset=".301" stop-color="#949494"/><stop offset=".325" stop-color="#848484"/><stop offset=".38" stop-color="#575757"/><stop offset=".448" stop-color="#161616"/><stop offset=".472" stop-color="#050505"/><stop offset=".485" stop-color="#000000"/><stop offset="1" stop-color="#000000"/></linearGradient>
<linearGradient id="g560" gradientUnits="userSpaceOnUse" x1="474.8" x2="556.4" spreadMethod="reflect"><stop offset="0" stop-color="#f9f9f9"/><stop offset=".043" stop-color="#f4f4f4"/><stop offset=".123" stop-color="#e0e0e0"/><stop offset=".178" stop-color="#cccccc"/><stop offset=".209" stop-color="#bbbbbb"/><stop offset=".301" stop-color="#939393"/><stop offset=".319" stop-color="#888888"/><stop offset=".38" stop-color="#565656"/><stop offset=".442" stop-color="#191919"/><stop offset=".479" stop-color="#010101"/><stop offset="1" stop-color="#000000"/></linearGradient>
<linearGradient id="g561" gradientUnits="userSpaceOnUse" x1="474.8" x2="556.4" spreadMethod="reflect"><stop offset="0" stop-color="#fafafa"/><stop offset=".043" stop-color="#f5f5f5"/><stop offset=".123" stop-color="#e0e0e0"/><stop offset=".178" stop-color="#cccccc"/><stop offset=".209" stop-color="#bbbbbb"/><stop offset=".301" stop-color="#929292"/><stop offset=".319" stop-color="#868686"/><stop offset=".38" stop-color="#545454"/><stop offset=".442" stop-color="#171717"/><stop offset=".466" stop-color="#060606"/><stop offset=".479" stop-color="#000000"/><stop offset="1" stop-color="#000000"/></linearGradient>
<linearGradient id="g562" gradientUnits="userSpaceOnUse" x1="474.8" x2="556.4" spreadMethod="reflect"><stop offset="0" stop-color="#fbfbfb"/><stop offset=".037" stop-color="#f6f6f6"/><stop offset=".123" stop-color="#e0e0e0"/><stop offset=".178" stop-color="#cbcbcb"/><stop offset=".209" stop-color="#bababa"/><stop offset=".301" stop-color="#919191"/><stop offset=".319" stop-color="#858585"/><stop offset=".38" stop-color="#525252"/><stop offset=".436" stop-color="#1b1b1b"/><stop offset=".472" stop-color="#010101"/><stop offset="1" stop-color="#000000"/></linearGradient>
<linearGradient id="g563" gradientUnits="userSpaceOnUse" x1="474.8" x2="556.4" spreadMethod="reflect"><stop offset="0" stop-color="#fbfbfb"/><stop offset=".037" stop-color="#f7f7f7"/><stop offset=".117" stop-color="#e2e2e2"/><stop offset=".172" stop-color="#cdcdcd"/><stop offset=".209" stop-color="#bababa"/><stop offset=".294" stop-color="#949494"/><stop offset=".319" stop-color="#838383"/><stop offset=".374" stop-color="#555555"/><stop offset=".436" stop-color="#191919"/><stop offset=".46" stop-color="#070707"/><stop offset=".472" stop-color="#010101"/><stop offset="1" stop-color="#000000"/></linearGradient>
<linearGradient id="g564" gradientUnits="userSpaceOnUse" x1="474.8" x2="556.4" spreadMethod="reflect"><stop offset="0" stop-color="#fcfcfc"/><stop offset=".037" stop-color="#f7f7f7"/><stop offset=".117" stop-color="#e2e2e2"/><stop offset=".172" stop-color="#cdcdcd"/><stop offset=".209" stop-color="#b9b9b9"/><stop offset=".294" stop-color="#939393"/><stop offset=".313" stop-color="#878787"/><stop offset=".374" stop-color="#545454"/><stop offset=".436" stop-color="#161616"/><stop offset=".46" stop-color="#050505"/><stop offset=".472" stop-color="#000000"/><stop offset="1" stop-color="#000000"/></linearGradient>
<linearGradient id="g565" gradientUnits="userSpaceOnUse" x1="474.8" x2="556.4" spreadMethod="reflect"><stop offset="0" stop-color="#fcfcfc"/><stop offset=".037" stop-color="#f7f7f7"/><stop offset=".117" stop-color="#e1e1e1"/><stop offset=".172" stop-color="#cdcdcd"/><stop offset=".202" stop-color="#bcbcbc"/><stop offset=".294" stop-color="#929292"/><stop offset=".313" stop-color="#858585"/><stop offset=".374" stop-color="#525252"/><stop offset=".429" stop-color="#191919"/><stop offset=".466" stop-color="#010101"/><stop offset="1" stop-color="#000000"/></linearGradient>
<linearGradient id="g566" gradientUnits="userSpaceOnUse" x1="474.8" x2="556.4" spreadMethod="reflect"><stop offset="0" stop-color="#fdfdfd"/><stop offset=".037" stop-color="#f8f8f8"/><stop offset=".117" stop-color="#e1e1e1"/><stop offset=".172" stop-color="#cccccc"/><stop offset=".202" stop-color="#bbbbbb"/><stop offset=".294" stop-color="#919191"/><stop offset=".331" stop-color="#757575"/><stop offset=".374" stop-color="#505050"/><stop offset=".411" stop-color="#282828"/><stop offset=".429" stop-color="#171717"/><stop offset=".454" stop-color="#050505"/><stop offset=".466" stop-color="#000000"/><stop offset="1" stop-color="#000000"/></linearGradient>
<linearGradient id="g567" gradientUnits="userSpaceOnUse" x1="474.8" x2="556.4" spreadMethod="reflect"><stop offset="0" stop-color="#fdfdfd"/><stop offset=".037" stop-color="#f8f8f8"/><stop offset=".117" stop-color="#e1e1e1"/><stop offset=".172" stop-color="#cccccc"/><stop offset=".202" stop-color="#bababa"/><stop offset=".288" stop-color="#939393"/><stop offset=".307" stop-color="#878787"/><stop offset=".368" stop-color="#535353"/><stop offset=".423" stop-color="#1a1a1a"/><stop offset=".46" stop-color="#010101"/><stop offset="1" stop-color="#000000"/></linearGradient>
<linearGradient id="g568" gradientUnits="userSpaceOnUse" x1="474.8" x2="556.4" spreadMethod="reflect"><stop offset="0" stop-color="#fdfdfd"/><stop offset=".037" stop-color="#f8f8f8"/><stop offset=".117" stop-color="#e1e1e1"/><stop offset=".172" stop-color="#cbcbcb"/><stop offset=".202" stop-color="#bababa"/><stop offset=".288" stop-color="#929292"/><stop offset=".307" stop-color="#868686"/><stop offset=".368" stop-color="#515151"/><stop offset=".423" stop-color="#181818"/><stop offset=".448" stop-color="#060606"/><stop offset=".46" stop-color="#000000"/><stop offset="1" stop-color="#000000"/></linearGradient>
<linearGradient id="g569" gradientUnits="userSpaceOnUse" x1="474.8" x2="556.4" spreadMethod="reflect"><stop offset="0" stop-color="#fdfdfd"/><stop offset=".037" stop-color="#f8f8f8"/><stop offset=".117" stop-color="#e0e0e0"/><stop offset=".166" stop-color="#cdcdcd"/><stop offset=".202" stop-color="#b9b9b9"/><stop offset=".288" stop-color="#919191"/><stop offset=".307" stop-color="#848484"/><stop offset=".362" stop-color="#555555"/><stop offset=".417" stop-color="#1b1b1b"/><stop offset=".454" stop-color="#010101"/><stop offset="1" stop-color="#000000"/></linearGradient>
<linearGradient id="g570" href="#B" x1="436.5" x2="513.1"/>
<linearGradient id="g571" href="#B" x1="436.6" x2="513"/>
<linearGradient id="g572" href="#B" x1="436.8" x2="512.8"/>
<linearGradient id="g573" href="#B" x1="436.9" x2="512.7"/>
<linearGradient id="g574" href="#B" x1="437" x2="512.6"/>
<linearGradient id="g575" href="#B" x1="437.1" x2="512.5"/>
<linearGradient id="g576" href="#B" x1="437.3" x2="512.3"/>
<linearGradient id="g577" href="#B" x1="437.4" x2="512.2"/>
<linearGradient id="g578" href="#B" x1="437.5" x2="512.1"/>
<linearGradient id="g579" href="#B" x1="437.6" x2="512"/>
<linearGradient id="g580" href="#B" x1="437.8" x2="511.8"/>
<linearGradient id="g581" href="#B" x1="437.9" x2="511.7"/>
<linearGradient id="g582" href="#B" x1="438" x2="511.6"/>
<linearGradient id="g583" href="#B" x1="438.2" x2="511.4"/>
<linearGradient id="g584" href="#B" x1="438.3" x2="511.3"/>
<linearGradient id="g585" href="#B" x1="438.4" x2="511.2"/>
<linearGradient id="g586" href="#B" x1="438.5" x2="511.1"/>
<linearGradient id="g587" href="#B" x1="438.7" x2="510.9"/>
<linearGradient id="g588" href="#B" x1="438.8" x2="510.8"/>
<linearGradient id="g589" href="#B" x1="438.9" x2="510.7"/>
<linearGradient id="g590" href="#B" x1="439.1" x2="510.5"/>
<linearGradient id="g591" href="#B" x1="439.2" x2="510.4"/>
<linearGradient id="g592" href="#B" x1="439.3" x2="510.3"/>
<linearGradient id="g593" href="#B" x1="439.5" x2="510.1"/>
<linearGradient id="g594" href="#B" x1="439.6" x2="510"/>
<linearGradient id="g595" href="#B" x1="439.7" x2="509.9"/>
<linearGradient id="g596" href="#B" x1="439.8" x2="509.8"/>
<linearGradient id="g597" href="#B" x1="440" x2="509.6"/>
<linearGradient id="g598" href="#B" x1="440.1" x2="509.5"/>
<linearGradient id="g599" href="#B" x1="440.2" x2="509.4"/>
<linearGradient id="g600" href="#B" x1="440.4" x2="509.2"/>
<linearGradient id="g601" href="#B" x1="440.5" x2="509.1"/>
<linearGradient id="g602" href="#B" x1="440.6" x2="509"/>
<linearGradient id="g603" href="#B" x1="440.8" x2="508.8"/>
<linearGradient id="g604" href="#B" x1="440.9" x2="508.7"/>
<linearGradient id="g605" href="#B" x1="441" x2="508.6"/>
<linearGradient id="g606" href="#B" x1="441.2" x2="508.4"/>
<linearGradient id="g607" href="#B" x1="441.3" x2="508.3"/>
<linearGradient id="g608" href="#B" x1="441.4" x2="508.2"/>
<linearGradient id="g609" href="#B" x1="441.6" x2="508"/>
<linearGradient id="g610" href="#B" x1="441.7" x2="507.9"/>
<linearGradient id="g611" href="#B" x1="441.8" x2="507.8"/>
<linearGradient id="g612" href="#B" x1="442" x2="507.6"/>
<linearGradient id="g613" href="#B" x1="442.1" x2="507.5"/>
<linearGradient id="g614" href="#B" x1="442.2" x2="507.4"/>
<linearGradient id="g615" href="#B" x1="442.3" x2="507.3"/>
<linearGradient id="g616" href="#B" x1="442.5" x2="507.1"/>
<linearGradient id="g617" href="#B" x1="442.6" x2="507"/>
<linearGradient id="g618" href="#B" x1="442.7" x2="506.9"/>
<linearGradient id="g619" href="#B" x1="442.9" x2="506.7"/>
<linearGradient id="g620" href="#B" x1="443" x2="506.6"/>
<linearGradient id="g621" href="#B" x1="443.1" x2="506.5"/>
<linearGradient id="g622" href="#B" x1="443.3" x2="506.3"/>
<linearGradient id="g623" href="#B" x1="443.4" x2="506.2"/>
<linearGradient id="g624" href="#B" x1="443.5" x2="506.1"/>
<linearGradient id="g625" href="#B" x1="443.6" x2="506"/>
<linearGradient id="g626" href="#B" x1="443.8" x2="505.8"/>
<linearGradient id="g627" href="#B" x1="443.9" x2="505.7"/>
<linearGradient id="g628" href="#B" x1="444.1" x2="505.5"/>
<linearGradient id="g629" href="#B" x1="444.2" x2="505.4"/>
<linearGradient id="g630" href="#B" x1="444.3" x2="505.3"/>
<linearGradient id="g631" href="#B" x1="444.5" x2="505.1"/>
<linearGradient id="g632" href="#B" x1="444.6" x2="505"/>
<linearGradient id="g633" href="#B" x1="444.8" x2="504.8"/>
<linearGradient id="g634" href="#B" x1="444.9" x2="504.7"/>
<linearGradient id="g635" href="#B" x1="445" x2="504.6"/>
<linearGradient id="g636" href="#B" x1="445.2" x2="504.4"/>
<linearGradient id="g637" href="#B" x1="445.3" x2="504.3"/>
<linearGradient id="g638" href="#B" x1="445.5" x2="504.1"/>
<linearGradient id="g639" href="#B" x1="445.6" x2="504"/>
<linearGradient id="g640" href="#B" x1="445.8" x2="503.8"/>
<linearGradient id="g641" href="#B" x1="445.9" x2="503.7"/>
<linearGradient id="g642" href="#B" x1="446.1" x2="503.5"/>
<linearGradient id="g643" href="#B" x1="446.3" x2="503.3"/>
<linearGradient id="g644" href="#B" x1="446.4" x2="503.2"/>
<linearGradient id="g645" href="#B" x1="446.6" x2="503"/>
<linearGradient id="g646" href="#B" x1="446.7" x2="502.9"/>
<linearGradient id="g647" href="#B" x1="446.9" x2="502.7"/>
<linearGradient id="g648" href="#B" x1="447.1" x2="502.5"/>
<linearGradient id="g649" href="#B" x1="447.3" x2="502.3"/>
<linearGradient id="g650" href="#B" x1="447.4" x2="502.2"/>
<linearGradient id="g651" href="#B" x1="447.6" x2="502"/>
<linearGradient id="g652" href="#B" x1="447.8" x2="501.8"/>
<linearGradient id="g653" href="#B" x1="448" x2="501.6"/>
<linearGradient id="g654" href="#B" x1="448.2" x2="501.4"/>
<linearGradient id="g655" href="#B" x1="448.4" x2="501.2"/>
<linearGradient id="g656" href="#B" x1="448.6" x2="501"/>
<linearGradient id="g657" href="#B" x1="448.8" x2="500.8"/>
<linearGradient id="g658" href="#B" x1="449" x2="500.6"/>
<linearGradient id="g659" href="#B" x1="449.2" x2="500.4"/>
<linearGradient id="g660" href="#B" x1="449.5" x2="500.1"/>
<linearGradient id="g661" href="#B" x1="449.8" x2="499.8"/>
<linearGradient id="g662" gradientUnits="userSpaceOnUse" x1="474.8" x2="556.4" spreadMethod="reflect"><stop offset="0" stop-color="#ffffff"/><stop offset=".018" stop-color="#fbfbfb"/><stop offset=".074" stop-color="#e0e0e0"/><stop offset=".104" stop-color="#cecece"/><stop offset=".129" stop-color="#b9b9b9"/><stop offset=".184" stop-color="#929292"/><stop offset=".196" stop-color="#848484"/><stop offset=".233" stop-color="#545454"/><stop offset=".27" stop-color="#191919"/><stop offset=".288" stop-color="#040404"/><stop offset=".294" stop-color="#000000"/><stop offset="1" stop-color="#000000"/></linearGradient>
<linearGradient id="g663" gradientUnits="userSpaceOnUse" x1="474.8" x2="556.4" spreadMethod="reflect"><stop offset="0" stop-color="#ffffff"/><stop offset=".018" stop-color="#fbfbfb"/><stop offset=".074" stop-color="#e0e0e0"/><stop offset=".104" stop-color="#cdcdcd"/><stop offset=".123" stop-color="#bcbcbc"/><stop offset=".184" stop-color="#8f8f8f"/><stop offset=".233" stop-color="#505050"/><stop offset=".258" stop-color="#272727"/><stop offset=".27" stop-color="#151515"/><stop offset=".288" stop-color="#010101"/><stop offset="1" stop-color="#000000"/></linearGradient>
<linearGradient id="g664" gradientUnits="userSpaceOnUse" x1="474.8" x2="556.4" spreadMethod="reflect"><stop offset="0" stop-color="#ffffff"/><stop offset=".018" stop-color="#fbfbfb"/><stop offset=".074" stop-color="#dfdfdf"/><stop offset=".104" stop-color="#cbcbcb"/><stop offset=".123" stop-color="#bbbbbb"/><stop offset=".178" stop-color="#929292"/><stop offset=".19" stop-color="#858585"/><stop offset=".227" stop-color="#545454"/><stop offset=".264" stop-color="#191919"/><stop offset=".282" stop-color="#030303"/><stop offset=".288" stop-color="#000000"/><stop offset="1" stop-color="#000000"/></linearGradient>
<linearGradient id="g665" gradientUnits="userSpaceOnUse" x1="474.8" x2="556.4" spreadMethod="reflect"><stop offset="0" stop-color="#ffffff"/><stop offset=".018" stop-color="#fafafa"/><stop offset=".067" stop-color="#e2e2e2"/><stop offset=".098" stop-color="#cfcfcf"/><stop offset=".123" stop-color="#b9b9b9"/><stop offset=".178" stop-color="#909090"/><stop offset=".227" stop-color="#505050"/><stop offset=".252" stop-color="#262626"/><stop offset=".264" stop-color="#141414"/><stop offset=".282" stop-color="#010101"/><stop offset="1" stop-color="#000000"/></linearGradient>
<linearGradient id="g666" gradientUnits="userSpaceOnUse" x1="474.8" x2="556.4" spreadMethod="reflect"><stop offset="0" stop-color="#ffffff"/><stop offset=".018" stop-color="#fafafa"/><stop offset=".067" stop-color="#e1e1e1"/><stop offset=".098" stop-color="#cdcdcd"/><stop offset=".117" stop-color="#bcbcbc"/><stop offset=".172" stop-color="#939393"/><stop offset=".184" stop-color="#858585"/><stop offset=".221" stop-color="#535353"/><stop offset=".258" stop-color="#171717"/><stop offset=".276" stop-color="#020202"/><stop offset=".282" stop-color="#000000"/><stop offset="1" stop-color="#000000"/></linearGradient>
<linearGradient id="g667" gradientUnits="userSpaceOnUse" x1="474.8" x2="556.4" spreadMethod="reflect"><stop offset="0" stop-color="#ffffff"/><stop offset=".018" stop-color="#fafafa"/><stop offset=".067" stop-color="#e0e0e0"/><stop offset=".098" stop-color="#cbcbcb"/><stop offset=".117" stop-color="#bababa"/><stop offset=".172" stop-color="#909090"/><stop offset=".221" stop-color="#4e4e4e"/><stop offset=".252" stop-color="#1a1a1a"/><stop offset=".27" stop-color="#030303"/><stop offset=".276" stop-color="#000000"/><stop offset="1" stop-color="#000000"/></linearGradient>
<linearGradient id="g668" gradientUnits="userSpaceOnUse" x1="474.8" x2="556.4" spreadMethod="reflect"><stop offset="0" stop-color="#ffffff"/><stop offset=".018" stop-color="#fafafa"/><stop offset=".061" stop-color="#e3e3e3"/><stop offset=".092" stop-color="#cecece"/><stop offset=".117" stop-color="#b8b8b8"/><stop offset=".166" stop-color="#929292"/><stop offset=".178" stop-color="#848484"/><stop offset=".215" stop-color="#515151"/><stop offset=".252" stop-color="#141414"/><stop offset=".264" stop-color="#050505"/><stop offset=".27" stop-color="#000000"/><stop offset="1" stop-color="#000000"/></linearGradient>
<linearGradient id="g669" gradientUnits="userSpaceOnUse" x1="474.8" x2="556.4" spreadMethod="reflect"><stop offset="0" stop-color="#ffffff"/><stop offset=".018" stop-color="#fafafa"/><stop offset=".061" stop-color="#e2e2e2"/><stop offset=".092" stop-color="#cccccc"/><stop offset=".11" stop-color="#bababa"/><stop offset=".166" stop-color="#8e8e8e"/><stop offset=".215" stop-color="#4a4a4a"/><stop offset=".245" stop-color="#151515"/><stop offset=".264" stop-color="#010101"/><stop offset="1" stop-color="#000000"/></linearGradient>
<linearGradient id="g670" gradientUnits="userSpaceOnUse" x1="474.8" x2="556.4" spreadMethod="reflect"><stop offset="0" stop-color="#ffffff"/><stop offset=".018" stop-color="#f9f9f9"/><stop offset=".061" stop-color="#e0e0e0"/><stop offset=".086" stop-color="#cfcfcf"/><stop offset=".11" stop-color="#b7b7b7"/><stop offset=".16" stop-color="#909090"/><stop offset=".209" stop-color="#4c4c4c"/><stop offset=".239" stop-color="#171717"/><stop offset=".258" stop-color="#010101"/><stop offset="1" stop-color="#000000"/></linearGradient>
<linearGradient id="g671" gradientUnits="userSpaceOnUse" x1="474.8" x2="556.4" spreadMethod="reflect"><stop offset="0" stop-color="#ffffff"/><stop offset=".018" stop-color="#f9f9f9"/><stop offset=".055" stop-color="#e3e3e3"/><stop offset=".086" stop-color="#cccccc"/><stop offset=".104" stop-color="#b9b9b9"/><stop offset=".153" stop-color="#919191"/><stop offset=".202" stop-color="#4d4d4d"/><stop offset=".233" stop-color="#171717"/><stop offset=".252" stop-color="#010101"/><stop offset="1" stop-color="#000000"/></linearGradient>
<linearGradient id="g672" gradientUnits="userSpaceOnUse" x1="474.8" x2="556.4" spreadMethod="reflect"><stop offset="0" stop-color="#ffffff"/><stop offset=".018" stop-color="#f8f8f8"/><stop offset=".055" stop-color="#e1e1e1"/><stop offset=".08" stop-color="#cecece"/><stop offset=".098" stop-color="#bbbbbb"/><stop offset=".147" stop-color="#929292"/><stop offset=".16" stop-color="#838383"/><stop offset=".196" stop-color="#4d4d4d"/><stop offset=".227" stop-color="#161616"/><stop offset=".239" stop-color="#050505"/><stop offset=".245" stop-color="#000000"/><stop offset="1" stop-color="#000000"/></linearGradient>
<linearGradient id="g673" gradientUnits="userSpaceOnUse" x1="474.8" x2="556.4" spreadMethod="reflect"><stop offset="0" stop-color="#ffffff"/><stop offset=".012" stop-color="#fbfbfb"/><stop offset=".049" stop-color="#e4e4e4"/><stop offset=".08" stop-color="#cbcbcb"/><stop offset=".098" stop-color="#b7b7b7"/><stop offset=".141" stop-color="#929292"/><stop offset=".153" stop-color="#838383"/><stop offset=".19" stop-color="#4d4d4d"/><stop offset=".221" stop-color="#151515"/><stop offset=".233" stop-color="#040404"/><stop offset=".239" stop-color="#000000"/><stop offset="1" stop-color="#000000"/></linearGradient>
<linearGradient id="g674" gradientUnits="userSpaceOnUse" x1="474.8" x2="556.4" spreadMethod="reflect"><stop offset="0" stop-color="#ffffff"/><stop offset=".012" stop-color="#fbfbfb"/><stop offset=".049" stop-color="#e1e1e1"/><stop offset=".074" stop-color="#cdcdcd"/><stop offset=".092" stop-color="#b8b8b8"/><stop offset=".135" stop-color="#929292"/><stop offset=".147" stop-color="#828282"/><stop offset=".19" stop-color="#424242"/><stop offset=".215" stop-color="#131313"/><stop offset=".227" stop-color="#020202"/><stop offset=".233" stop-color="#000000"/><stop offset="1" stop-color="#000000"/></linearGradient>
<linearGradient id="g675" gradientUnits="userSpaceOnUse" x1="474.8" x2="556.4" spreadMethod="reflect"><stop offset="0" stop-color="#ffffff"/><stop offset=".012" stop-color="#fafafa"/><stop offset=".043" stop-color="#e4e4e4"/><stop offset=".067" stop-color="#cecece"/><stop offset=".086" stop-color="#b9b9b9"/><stop offset=".129" stop-color="#919191"/><stop offset=".178" stop-color="#494949"/><stop offset=".19" stop-color="#343434"/><stop offset=".202" stop-color="#1a1a1a"/><stop offset=".215" stop-color="#070707"/><stop offset=".221" stop-color="#000000"/><stop offset="1" stop-color="#000000"/></linearGradient>
<linearGradient id="g676" gradientUnits="userSpaceOnUse" x1="474.8" x2="556.4" spreadMethod="reflect"><stop offset="0" stop-color="#ffffff"/><stop offset=".012" stop-color="#f9f9f9"/><stop offset=".043" stop-color="#e1e1e1"/><stop offset=".067" stop-color="#c9c9c9"/><stop offset=".08" stop-color="#b9b9b9"/><stop offset=".123" stop-color="#8f8f8f"/><stop offset=".172" stop-color="#454545"/><stop offset=".178" stop-color="#3b3b3b"/><stop offset=".19" stop-color="#202020"/><stop offset=".202" stop-color="#0b0b0b"/><stop offset=".209" stop-color="#020202"/><stop offset=".215" stop-color="#000000"/><stop offset="1" stop-color="#000000"/></linearGradient>
<linearGradient id="g677" gradientUnits="userSpaceOnUse" x1="474.8" x2="556.4" spreadMethod="reflect"><stop offset="0" stop-color="#fefefe"/><stop offset=".012" stop-color="#f8f8f8"/><stop offset=".037" stop-color="#e3e3e3"/><stop offset=".061" stop-color="#cacaca"/><stop offset=".074" stop-color="#b9b9b9"/><stop offset=".117" stop-color="#8c8c8c"/><stop offset=".166" stop-color="#404040"/><stop offset=".172" stop-color="#363636"/><stop offset=".184" stop-color="#191919"/><stop offset=".196" stop-color="#040404"/><stop offset=".202" stop-color="#000000"/><stop offset="1" stop-color="#000000"/></linearGradient>
<linearGradient id="g678" gradientUnits="userSpaceOnUse" x1="474.8" x2="556.4" spreadMethod="reflect"><stop offset="0" stop-color="#fefefe"/><stop offset=".012" stop-color="#f6f6f6"/><stop offset=".037" stop-color="#dfdfdf"/><stop offset=".055" stop-color="#cbcbcb"/><stop offset=".067" stop-color="#b8b8b8"/><stop offset=".104" stop-color="#919191"/><stop offset=".16" stop-color="#3c3c3c"/><stop offset=".178" stop-color="#141414"/><stop offset=".19" stop-color="#010101"/><stop offset="1" stop-color="#000000"/></linearGradient>
<linearGradient id="g679" gradientUnits="userSpaceOnUse" x1="474.8" x2="556.4" spreadMethod="reflect"><stop offset="0" stop-color="#fcfcfc"/><stop offset=".006" stop-color="#f9f9f9"/><stop offset=".031" stop-color="#e1e1e1"/><stop offset=".049" stop-color="#cccccc"/><stop offset=".061" stop-color="#b8b8b8"/><stop offset=".098" stop-color="#8e8e8e"/><stop offset=".129" stop-color="#5e5e5e"/><stop offset=".153" stop-color="#3b3b3b"/><stop offset=".172" stop-color="#121212"/><stop offset=".178" stop-color="#070707"/><stop offset=".184" stop-color="#000000"/><stop offset="1" stop-color="#000000"/></linearGradient>
<linearGradient id="g680" gradientUnits="userSpaceOnUse" x1="474.8" x2="556.4" spreadMethod="reflect"><stop offset="0" stop-color="#f9f9f9"/><stop offset=".006" stop-color="#f6f6f6"/><stop offset=".031" stop-color="#dbdbdb"/><stop offset=".043" stop-color="#cccccc"/><stop offset=".055" stop-color="#b8b8b8"/><stop offset=".092" stop-color="#8c8c8c"/><stop offset=".117" stop-color="#646464"/><stop offset=".153" stop-color="#313131"/><stop offset=".166" stop-color="#131313"/><stop offset=".172" stop-color="#070707"/><stop offset=".178" stop-color="#000000"/><stop offset="1" stop-color="#000000"/></linearGradient>
<linearGradient id="g681" gradientUnits="userSpaceOnUse" x1="474.8" x2="556.4" spreadMethod="reflect"><stop offset="0" stop-color="#f2f2f2"/><stop offset=".006" stop-color="#efefef"/><stop offset=".025" stop-color="#dadada"/><stop offset=".043" stop-color="#c2c2c2"/><stop offset=".055" stop-color="#aeaeae"/><stop offset=".086" stop-color="#888888"/><stop offset=".117" stop-color="#585858"/><stop offset=".147" stop-color="#343434"/><stop offset=".16" stop-color="#151515"/><stop offset=".172" stop-color="#000000"/><stop offset="1" stop-color="#000000"/></linearGradient>
<linearGradient id="g682" gradientUnits="userSpaceOnUse" x1="474.8" x2="556.4" spreadMethod="reflect"><stop offset="0" stop-color="#e3e3e3"/><stop offset=".006" stop-color="#dfdfdf"/><stop offset=".037" stop-color="#bababa"/><stop offset=".049" stop-color="#a6a6a6"/><stop offset=".08" stop-color="#818181"/><stop offset=".098" stop-color="#636363"/><stop offset=".11" stop-color="#525252"/><stop offset=".129" stop-color="#3f3f3f"/><stop offset=".141" stop-color="#353535"/><stop offset=".147" stop-color="#292929"/><stop offset=".153" stop-color="#191919"/><stop offset=".166" stop-color="#020202"/><stop offset=".172" stop-color="#000000"/><stop offset="1" stop-color="#000000"/></linearGradient>
<linearGradient id="g683" gradientUnits="userSpaceOnUse" x1="474.8" x2="556.4" spreadMethod="reflect"><stop offset="0" stop-color="#c2c2c2"/><stop offset=".018" stop-color="#b2b2b2"/><stop offset=".043" stop-color="#939393"/><stop offset=".067" stop-color="#7b7b7b"/><stop offset=".092" stop-color="#585858"/><stop offset=".11" stop-color="#434343"/><stop offset=".129" stop-color="#353535"/><stop offset=".141" stop-color="#323232"/><stop offset=".153" stop-color="#121212"/><stop offset=".16" stop-color="#060606"/><stop offset=".166" stop-color="#000000"/><stop offset="1" stop-color="#000000"/></linearGradient>
<linearGradient id="g684" gradientUnits="userSpaceOnUse" x1="474.8" x2="556.4" spreadMethod="reflect"><stop offset="0" stop-color="#b7b7b7"/><stop offset=".006" stop-color="#b5b5b5"/><stop offset=".018" stop-color="#ababab"/><stop offset=".074" stop-color="#5c5c5c"/><stop offset=".117" stop-color="#393939"/><stop offset=".141" stop-color="#2f2f2f"/><stop offset=".147" stop-color="#1e1e1e"/><stop offset=".16" stop-color="#050505"/><stop offset=".166" stop-color="#000000"/><stop offset="1" stop-color="#000000"/></linearGradient>
<linearGradient id="g685" gradientUnits="userSpaceOnUse" x1="474.8" x2="556.4" spreadMethod="reflect"><stop offset="0" stop-color="#a9a9a9"/><stop offset=".012" stop-color="#a4a4a4"/><stop offset=".025" stop-color="#999999"/><stop offset=".037" stop-color="#878787"/><stop offset=".061" stop-color="#696969"/><stop offset=".086" stop-color="#444444"/><stop offset=".098" stop-color="#353535"/><stop offset=".104" stop-color="#303030"/><stop offset=".135" stop-color="#2c2c2c"/><stop offset=".141" stop-color="#272727"/><stop offset=".16" stop-color="#030303"/><stop offset=".166" stop-color="#000000"/><stop offset="1" stop-color="#000000"/></linearGradient>
<linearGradient id="g686" gradientUnits="userSpaceOnUse" x1="474.8" x2="556.4" spreadMethod="reflect"><stop offset="0" stop-color="#989898"/><stop offset=".012" stop-color="#939393"/><stop offset=".037" stop-color="#7e7e7e"/><stop offset=".055" stop-color="#696969"/><stop offset=".086" stop-color="#3e3e3e"/><stop offset=".104" stop-color="#2c2c2c"/><stop offset=".123" stop-color="#1f1f1f"/><stop offset=".135" stop-color="#232323"/><stop offset=".16" stop-color="#000000"/><stop offset="1" stop-color="#000000"/></linearGradient>
<linearGradient id="g687" gradientUnits="userSpaceOnUse" x1="474.8" x2="556.4" spreadMethod="reflect"><stop offset="0" stop-color="#868686"/><stop offset=".012" stop-color="#838383"/><stop offset=".031" stop-color="#777777"/><stop offset=".049" stop-color="#666666"/><stop offset=".074" stop-color="#464646"/><stop offset=".092" stop-color="#323232"/><stop offset=".11" stop-color="#232323"/><stop offset=".129" stop-color="#1b1b1b"/><stop offset=".153" stop-color="#020202"/><stop offset=".16" stop-color="#000000"/><stop offset="1" stop-color="#000000"/></linearGradient>
<linearGradient id="g688" gradientUnits="userSpaceOnUse" x1="474.8" x2="556.4" spreadMethod="reflect"><stop offset="0" stop-color="#777777"/><stop offset=".018" stop-color="#727272"/><stop offset=".031" stop-color="#6b6b6b"/><stop offset=".086" stop-color="#313131"/><stop offset=".104" stop-color="#232323"/><stop offset=".129" stop-color="#171717"/><stop offset=".141" stop-color="#080808"/><stop offset=".153" stop-color="#000000"/><stop offset="1" stop-color="#000000"/></linearGradient>
<linearGradient id="g689" gradientUnits="userSpaceOnUse" x1="474.8" x2="556.4" spreadMethod="reflect"><stop offset="0" stop-color="#676767"/><stop offset=".012" stop-color="#656565"/><stop offset=".025" stop-color="#5f5f5f"/><stop offset=".08" stop-color="#2e2e2e"/><stop offset=".098" stop-color="#222222"/><stop offset=".117" stop-color="#1b1b1b"/><stop offset=".135" stop-color="#080808"/><stop offset=".147" stop-color="#000000"/><stop offset="1" stop-color="#000000"/></linearGradient>
<linearGradient id="g690" gradientUnits="userSpaceOnUse" x1="474.8" x2="556.4" spreadMethod="reflect"><stop offset="0" stop-color="#545454"/><stop offset=".012" stop-color="#535353"/><stop offset=".031" stop-color="#4a4a4a"/><stop offset=".08" stop-color="#272727"/><stop offset=".11" stop-color="#1a1a1a"/><stop offset=".129" stop-color="#070707"/><stop offset=".141" stop-color="#000000"/><stop offset="1" stop-color="#000000"/></linearGradient>
<linearGradient id="g691" gradientUnits="userSpaceOnUse" x1="474.8" x2="556.4" spreadMethod="reflect"><stop offset="0" stop-color="#444444"/><stop offset=".025" stop-color="#3f3f3f"/><stop offset=".074" stop-color="#242424"/><stop offset=".098" stop-color="#1b1b1b"/><stop offset=".123" stop-color="#050505"/><stop offset=".135" stop-color="#000000"/><stop offset="1" stop-color="#000000"/></linearGradient>
<linearGradient id="g692" gradientUnits="userSpaceOnUse" x1="474.8" x2="556.4" spreadMethod="reflect"><stop offset="0" stop-color="#383838"/><stop offset=".025" stop-color="#333333"/><stop offset=".086" stop-color="#1b1b1b"/><stop offset=".104" stop-color="#0a0a0a"/><stop offset=".123" stop-color="#000000"/><stop offset="1" stop-color="#000000"/></linearGradient>
<linearGradient id="g693" gradientUnits="userSpaceOnUse" x1="474.8" x2="556.4" spreadMethod="reflect"><stop offset="0" stop-color="#2e2e2e"/><stop offset=".025" stop-color="#2b2b2b"/><stop offset=".067" stop-color="#1d1d1d"/><stop offset=".092" stop-color="#090909"/><stop offset=".11" stop-color="#000000"/><stop offset="1" stop-color="#000000"/></linearGradient>
<linearGradient id="g694" gradientUnits="userSpaceOnUse" x1="474.8" x2="556.4" spreadMethod="reflect"><stop offset="0" stop-color="#292929"/><stop offset=".037" stop-color="#232323"/><stop offset=".074" stop-color="#090909"/><stop offset=".086" stop-color="#020202"/><stop offset=".098" stop-color="#000000"/><stop offset="1" stop-color="#000000"/></linearGradient>
<linearGradient id="g695" gradientUnits="userSpaceOnUse" x1="474.8" x2="556.4" spreadMethod="reflect"><stop offset="0" stop-color="#1a1a1a"/><stop offset=".018" stop-color="#171717"/><stop offset=".074" stop-color="#000000"/><stop offset="1" stop-color="#000000"/></linearGradient>
<linearGradient id="g696" gradientUnits="userSpaceOnUse" x1="474.8" x2="556.4" spreadMethod="reflect"><stop offset="0" stop-color="#050505"/><stop offset=".043" stop-color="#000000"/><stop offset="1" stop-color="#000000"/></linearGradient>
<linearGradient id="g697" gradientUnits="userSpaceOnUse" x1="474.8" x2="556.4" spreadMethod="reflect"><stop offset="0" stop-color="#000000"/><stop offset="1" stop-color="#000000"/></linearGradient>
<clipPath id="cb3"><rect x="398.4" y="404.6" width="157.0" height="182.4"/></clipPath>
</defs>
<g clip-path="url(#ca1)"><g filter="url(#jetA)"><path d="M82 35h140v5.05h-140z" fill="url(#g1)"/><path d="M82 40h140v1.05h-140z" fill="url(#g2)"/><path d="M82 41h140v1.05h-140z" fill="url(#g3)"/><path d="M82 42h140v1.05h-140z" fill="url(#g4)"/><path d="M82 43h140v1.05h-140z" fill="url(#g5)"/><path d="M82 44h140v1.05h-140z" fill="url(#g6)"/><path d="M82 45h140v1.05h-140z" fill="url(#g7)"/><path d="M82 46h140v1.05h-140z" fill="url(#g8)"/><path d="M82 47h140v1.05h-140z" fill="url(#g9)"/><path d="M82 48h140v1.05h-140z" fill="url(#g10)"/><path d="M82 49h140v1.05h-140z" fill="url(#g11)"/><path d="M82 50h140v1.05h-140z" fill="url(#g12)"/><path d="M82 51h140v1.05h-140z" fill="url(#g13)"/><path d="M82 52h140v1.05h-140z" fill="url(#g14)"/><path d="M82 53h140v1.05h-140z" fill="url(#g15)"/><path d="M82 54h140v1.05h-140z" fill="url(#g16)"/><path d="M82 55h140v1.05h-140z" fill="url(#g17)"/><path d="M82 56h140v1.05h-140z" fill="url(#g18)"/><path d="M82 57h140v1.05h-140z" fill="url(#g19)"/><path d="M82 58h140v1.05h-140z" fill="url(#g20)"/><path d="M82 59h140v2.05h-140z" fill="url(#g21)"/><path d="M82 61h140v1.05h-140z" fill="url(#g22)"/><path d="M82 62h140v1.05h-140z" fill="url(#g23)"/><path d="M82 63h140v1.05h-140z" fill="url(#g24)"/><path d="M82 64h140v1.05h-140z" fill="url(#g25)"/><path d="M82 65h140v1.05h-140z" fill="url(#g26)"/><path d="M82 66h140v2.05h-140z" fill="url(#g27)"/><path d="M82 68h140v2.05h-140z" fill="url(#g28)"/><path d="M82 70h140v2.05h-140z" fill="url(#g29)"/><path d="M82 72h140v3.05h-140z" fill="url(#g30)"/><path d="M82 75h140v4.05h-140z" fill="url(#g31)"/><path d="M82 79h140v6.05h-140z" fill="url(#g32)"/><path d="M82 85h140v12.05h-140z" fill="url(#g33)"/><path d="M82 97h140v12.05h-140z" fill="url(#g34)"/><path d="M82 109h140v12.05h-140z" fill="url(#g35)"/><path d="M82 121h140v12.05h-140z" fill="url(#g36)"/><path d="M82 133h140v12.05h-140z" fill="url(#g37)"/><path d="M82 145h140v12.05h-140z" fill="url(#g38)"/><path d="M82 157h140v11.05h-140z" fill="url(#g39)"/><path d="M82 168h140v9.05h-140z" fill="url(#g40)"/><path d="M82 177h140v9.05h-140z" fill="url(#g41)"/><path d="M82 186h140v9.05h-140z" fill="url(#g42)"/><path d="M82 195h140v8.05h-140z" fill="url(#g43)"/><path d="M82 203h140v5.05h-140z" fill="url(#g44)"/><path d="M82 208h140v4.05h-140z" fill="url(#g45)"/><path d="M82 212h140v3.05h-140z" fill="url(#g46)"/><path d="M82 215h140v3.05h-140z" fill="url(#g47)"/><path d="M82 218h140v2.05h-140z" fill="url(#g48)"/><path d="M82 220h140v2.05h-140z" fill="url(#g49)"/><path d="M82 222h140v2.05h-140z" fill="url(#g50)"/><path d="M82 224h140v1.05h-140z" fill="url(#g51)"/><path d="M82 225h140v1.05h-140z" fill="url(#g52)"/><path d="M82 226h140v1.05h-140z" fill="url(#g53)"/><path d="M82 227h140v1.05h-140z" fill="url(#g54)"/><path d="M82 228h140v1.05h-140z" fill="url(#g55)"/><path d="M82 229h140v1.05h-140z" fill="url(#g56)"/><path d="M82 230h140v1.05h-140z" fill="url(#g57)"/><path d="M82 231h140v1.05h-140z" fill="url(#g58)"/><path d="M82 232h140v1.05h-140z" fill="url(#g59)"/><path d="M82 233h140v1.05h-140z" fill="url(#g60)"/><path d="M82 234h140v1.05h-140z" fill="url(#g61)"/><path d="M82 235h140v3.05h-140z" fill="url(#g62)"/><path d="M82 238h140v3.05h-140z" fill="url(#g63)"/><path d="M82 241h140v4.05h-140z" fill="url(#g64)"/><path d="M82 245h140v12.05h-140z" fill="url(#g65)"/><path d="M82 257h140v1.05h-140z" fill="url(#g66)"/></g>
<ellipse cx="151.8" cy="39.3" rx="22.0" ry="21.7" fill="#fff"/>
<ellipse cx="151.8" cy="253.3" rx="22.0" ry="18.7" fill="#fff"/></g>
<path d="M129.8 39.3h44.0M129.8 253.3h44.0" stroke="#c6c6c6" stroke-width="1.3" fill="none"/>
<path d="M97.1 39.3v1.6M97.1 253.3v-1.6M151.8 39.3v1.6M151.8 253.3v-1.6M206.5 39.3v1.6M206.5 253.3v-1.6" stroke="#333" stroke-width="1" stroke-opacity=".7" fill="none"/>
<g clip-path="url(#ca2)"><g filter="url(#jetA)"><path d="M228 35h139v5.05h-139z" fill="url(#g67)"/><path d="M228 40h139v1.05h-139z" fill="url(#g68)"/><path d="M228 41h139v1.05h-139z" fill="url(#g69)"/><path d="M228 42h139v1.05h-139z" fill="url(#g70)"/><path d="M228 43h139v1.05h-139z" fill="url(#g71)"/><path d="M228 44h139v1.05h-139z" fill="url(#g72)"/><path d="M228 45h139v1.05h-139z" fill="url(#g73)"/><path d="M228 46h139v1.05h-139z" fill="url(#g74)"/><path d="M228 47h139v1.05h-139z" fill="url(#g75)"/><path d="M228 48h139v1.05h-139z" fill="url(#g76)"/><path d="M228 49h139v1.05h-139z" fill="url(#g77)"/><path d="M228 50h139v1.05h-139z" fill="url(#g78)"/><path d="M228 51h139v1.05h-139z" fill="url(#g79)"/><path d="M228 52h139v1.05h-139z" fill="url(#g80)"/><path d="M228 53h139v1.05h-139z" fill="url(#g81)"/><path d="M228 54h139v1.05h-139z" fill="url(#g82)"/><path d="M228 55h139v1.05h-139z" fill="url(#g83)"/><path d="M228 56h139v1.05h-139z" fill="url(#g84)"/><path d="M228 57h139v1.05h-139z" fill="url(#g85)"/><path d="M228 58h139v1.05h-139z" fill="url(#g86)"/><path d="M228 59h139v1.05h-139z" fill="url(#g87)"/><path d="M228 60h139v1.05h-139z" fill="url(#g88)"/><path d="M228 61h139v1.05h-139z" fill="url(#g89)"/><path d="M228 62h139v1.05h-139z" fill="url(#g90)"/><path d="M228 63h139v2.05h-139z" fill="url(#g91)"/><path d="M228 65h139v2.05h-139z" fill="url(#g92)"/><path d="M228 67h139v2.05h-139z" fill="url(#g93)"/><path d="M228 69h139v3.05h-139z" fill="url(#g94)"/><path d="M228 72h139v4.05h-139z" fill="url(#g95)"/><path d="M228 76h139v5.05h-139z" fill="url(#g96)"/><path d="M228 81h139v7.05h-139z" fill="url(#g97)"/><path d="M228 88h139v11.05h-139z" fill="url(#g98)"/><path d="M228 99h139v12.05h-139z" fill="url(#g99)"/><path d="M228 111h139v12.05h-139z" fill="url(#g100)"/><path d="M228 123h139v12.05h-139z" fill="url(#g101)"/><path d="M228 135h139v12.05h-139z" fill="url(#g102)"/><path d="M228 147h139v10.05h-139z" fill="url(#g103)"/><path d="M228 157h139v8.05h-139z" fill="url(#g104)"/><path d="M228 165h139v6.05h-139z" fill="url(#g105)"/><path d="M228 171h139v5.05h-139z" fill="url(#g106)"/><path d="M228 176h139v5.05h-139z" fill="url(#g107)"/><path d="M228 181h139v4.05h-139z" fill="url(#g108)"/><path d="M228 185h139v4.05h-139z" fill="url(#g109)"/><path d="M228 189h139v4.05h-139z" fill="url(#g110)"/><path d="M228 193h139v3.05h-139z" fill="url(#g111)"/><path d="M228 196h139v3.05h-139z" fill="url(#g112)"/><path d="M228 199h139v3.05h-139z" fill="url(#g113)"/><path d="M228 202h139v3.05h-139z" fill="url(#g114)"/><path d="M228 205h139v2.05h-139z" fill="url(#g115)"/><path d="M228 207h139v2.05h-139z" fill="url(#g116)"/><path d="M228 209h139v2.05h-139z" fill="url(#g117)"/><path d="M228 211h139v2.05h-139z" fill="url(#g118)"/><path d="M228 213h139v2.05h-139z" fill="url(#g119)"/><path d="M228 215h139v2.05h-139z" fill="url(#g120)"/><path d="M228 217h139v2.05h-139z" fill="url(#g121)"/><path d="M228 219h139v1.05h-139z" fill="url(#g122)"/><path d="M228 220h139v1.05h-139z" fill="url(#g123)"/><path d="M228 221h139v1.05h-139z" fill="url(#g124)"/><path d="M228 222h139v1.05h-139z" fill="url(#g125)"/><path d="M228 223h139v1.05h-139z" fill="url(#g126)"/><path d="M228 224h139v1.05h-139z" fill="url(#g127)"/><path d="M228 225h139v1.05h-139z" fill="url(#g128)"/><path d="M228 226h139v1.05h-139z" fill="url(#g129)"/><path d="M228 227h139v1.05h-139z" fill="url(#g130)"/><path d="M228 228h139v1.05h-139z" fill="url(#g131)"/><path d="M228 229h139v1.05h-139z" fill="url(#g132)"/><path d="M228 230h139v1.05h-139z" fill="url(#g133)"/><path d="M228 231h139v3.05h-139z" fill="url(#g134)"/><path d="M228 234h139v3.05h-139z" fill="url(#g135)"/><path d="M228 237h139v4.05h-139z" fill="url(#g136)"/><path d="M228 241h139v6.05h-139z" fill="url(#g137)"/><path d="M228 247h139v11.05h-139z" fill="url(#g138)"/></g>
<ellipse cx="299.2" cy="39.3" rx="21.5" ry="18.3" fill="#fff"/>
<ellipse cx="299.2" cy="253.3" rx="21.8" ry="21.8" fill="#fff"/></g>
<path d="M277.7 39.3h43.0M277.4 253.3h43.6" stroke="#c6c6c6" stroke-width="1.3" fill="none"/>
<path d="M244.5 39.3v1.6M244.5 253.3v-1.6M299.2 39.3v1.6M299.2 253.3v-1.6M353.9 39.3v1.6M353.9 253.3v-1.6" stroke="#333" stroke-width="1" stroke-opacity=".7" fill="none"/>
<g clip-path="url(#ca3)"><g filter="url(#jetA)"><path d="M374 35h142v5.05h-142z" fill="url(#g139)"/><path d="M374 40h142v1.05h-142z" fill="url(#g140)"/><path d="M374 41h142v1.05h-142z" fill="url(#g141)"/><path d="M374 42h142v1.05h-142z" fill="url(#g142)"/><path d="M374 43h142v1.05h-142z" fill="url(#g143)"/><path d="M374 44h142v1.05h-142z" fill="url(#g144)"/><path d="M374 45h142v1.05h-142z" fill="url(#g145)"/><path d="M374 46h142v1.05h-142z" fill="url(#g146)"/><path d="M374 47h142v1.05h-142z" fill="url(#g147)"/><path d="M374 48h142v1.05h-142z" fill="url(#g148)"/><path d="M374 49h142v1.05h-142z" fill="url(#g149)"/><path d="M374 50h142v1.05h-142z" fill="url(#g150)"/><path d="M374 51h142v1.05h-142z" fill="url(#g151)"/><path d="M374 52h142v1.05h-142z" fill="url(#g152)"/><path d="M374 53h142v1.05h-142z" fill="url(#g153)"/><path d="M374 54h142v1.05h-142z" fill="url(#g154)"/><path d="M374 55h142v1.05h-142z" fill="url(#g155)"/><path d="M374 56h142v1.05h-142z" fill="url(#g156)"/><path d="M374 57h142v1.05h-142z" fill="url(#g157)"/><path d="M374 58h142v1.05h-142z" fill="url(#g158)"/><path d="M374 59h142v1.05h-142z" fill="url(#g159)"/><path d="M374 60h142v1.05h-142z" fill="url(#g160)"/><path d="M374 61h142v1.05h-142z" fill="url(#g161)"/><path d="M374 62h142v1.05h-142z" fill="url(#g162)"/><path d="M374 63h142v1.05h-142z" fill="url(#g163)"/><path d="M374 64h142v2.05h-142z" fill="url(#g164)"/><path d="M374 66h142v2.05h-142z" fill="url(#g165)"/><path d="M374 68h142v2.05h-142z" fill="url(#g166)"/><path d="M374 70h142v3.05h-142z" fill="url(#g167)"/><path d="M374 73h142v4.05h-142z" fill="url(#g168)"/><path d="M374 77h142v5.05h-142z" fill="url(#g169)"/><path d="M374 82h142v7.05h-142z" fill="url(#g170)"/><path d="M374 89h142v11.05h-142z" fill="url(#g171)"/><path d="M374 100h142v12.05h-142z" fill="url(#g172)"/><path d="M374 112h142v12.05h-142z" fill="url(#g173)"/><path d="M374 124h142v12.05h-142z" fill="url(#g174)"/><path d="M374 136h142v12.05h-142z" fill="url(#g175)"/><path d="M374 148h142v12.05h-142z" fill="url(#g176)"/><path d="M374 160h142v9.05h-142z" fill="url(#g177)"/><path d="M374 169h142v8.05h-142z" fill="url(#g178)"/><path d="M374 177h142v7.05h-142z" fill="url(#g179)"/><path d="M374 184h142v6.05h-142z" fill="url(#g180)"/><path d="M374 190h142v5.05h-142z" fill="url(#g181)"/><path d="M374 195h142v5.05h-142z" fill="url(#g182)"/><path d="M374 200h142v4.05h-142z" fill="url(#g183)"/><path d="M374 204h142v4.05h-142z" fill="url(#g184)"/><path d="M374 208h142v3.05h-142z" fill="url(#g185)"/><path d="M374 211h142v3.05h-142z" fill="url(#g186)"/><path d="M374 214h142v3.05h-142z" fill="url(#g187)"/><path d="M374 217h142v2.05h-142z" fill="url(#g188)"/><path d="M374 219h142v2.05h-142z" fill="url(#g189)"/><path d="M374 221h142v2.05h-142z" fill="url(#g190)"/><path d="M374 223h142v1.05h-142z" fill="url(#g191)"/><path d="M374 224h142v1.05h-142z" fill="url(#g192)"/><path d="M374 225h142v1.05h-142z" fill="url(#g193)"/><path d="M374 226h142v1.05h-142z" fill="url(#g194)"/><path d="M374 227h142v1.05h-142z" fill="url(#g195)"/><path d="M374 228h142v1.05h-142z" fill="url(#g196)"/><path d="M374 229h142v1.05h-142z" fill="url(#g197)"/><path d="M374 230h142v1.05h-142z" fill="url(#g198)"/><path d="M374 231h142v1.05h-142z" fill="url(#g199)"/><path d="M374 232h142v3.05h-142z" fill="url(#g200)"/><path d="M374 235h142v3.05h-142z" fill="url(#g201)"/><path d="M374 238h142v4.05h-142z" fill="url(#g202)"/><path d="M374 242h142v7.05h-142z" fill="url(#g203)"/><path d="M374 249h142v9.05h-142z" fill="url(#g204)"/></g>
<ellipse cx="446.6" cy="39.3" rx="21.5" ry="18.9" fill="#fff"/>
<ellipse cx="446.6" cy="253.3" rx="22.0" ry="21.6" fill="#fff"/></g>
<path d="M425.1 39.3h43.0M424.6 253.3h44.0" stroke="#c6c6c6" stroke-width="1.3" fill="none"/>
<path d="M391.9 39.3v1.6M391.9 253.3v-1.6M446.6 39.3v1.6M446.6 253.3v-1.6M501.3 39.3v1.6M501.3 253.3v-1.6" stroke="#333" stroke-width="1" stroke-opacity=".7" fill="none"/>
<g clip-path="url(#cb1)"><g filter="url(#jetB)"><path d="M66 403h164v6.05h-164z" fill="url(#g205)"/><path d="M66 409h164v2.05h-164z" fill="url(#g206)"/><path d="M66 411h164v2.05h-164z" fill="url(#g207)"/><path d="M66 413h164v2.05h-164z" fill="url(#g208)"/><path d="M66 415h164v1.05h-164z" fill="url(#g209)"/><path d="M66 416h164v1.05h-164z" fill="url(#g210)"/><path d="M66 417h164v1.05h-164z" fill="url(#g211)"/><path d="M66 418h164v1.05h-164z" fill="url(#g212)"/><path d="M66 419h164v1.05h-164z" fill="url(#g213)"/><path d="M66 420h164v1.05h-164z" fill="url(#g214)"/><path d="M66 421h164v1.05h-164z" fill="url(#g215)"/><path d="M66 422h164v1.05h-164z" fill="url(#g216)"/><path d="M66 423h164v1.05h-164z" fill="url(#g217)"/><path d="M66 424h164v1.05h-164z" fill="url(#g218)"/><path d="M66 425h164v1.05h-164z" fill="url(#g219)"/><path d="M66 426h164v1.05h-164z" fill="url(#g220)"/><path d="M66 427h164v1.05h-164z" fill="url(#g221)"/><path d="M66 428h164v1.05h-164z" fill="url(#g222)"/><path d="M66 429h164v1.05h-164z" fill="url(#g223)"/><path d="M66 430h164v1.05h-164z" fill="url(#g224)"/><path d="M66 431h164v1.05h-164z" fill="url(#g225)"/><path d="M66 432h164v1.05h-164z" fill="url(#g226)"/><path d="M66 433h164v1.05h-164z" fill="url(#g227)"/><path d="M66 434h164v1.05h-164z" fill="url(#g228)"/><path d="M66 435h164v1.05h-164z" fill="url(#g229)"/><path d="M66 436h164v1.05h-164z" fill="url(#g230)"/><path d="M66 437h164v1.05h-164z" fill="url(#g231)"/><path d="M66 438h164v1.05h-164z" fill="url(#g232)"/><path d="M66 439h164v1.05h-164z" fill="url(#g233)"/><path d="M66 440h164v1.05h-164z" fill="url(#g234)"/><path d="M66 441h164v1.05h-164z" fill="url(#g235)"/><path d="M66 442h164v1.05h-164z" fill="url(#g236)"/><path d="M66 443h164v1.05h-164z" fill="url(#g237)"/><path d="M66 444h164v1.05h-164z" fill="url(#g238)"/><path d="M66 445h164v1.05h-164z" fill="url(#g239)"/><path d="M66 446h164v1.05h-164z" fill="url(#g240)"/><path d="M66 447h164v1.05h-164z" fill="url(#g241)"/><path d="M66 448h164v1.05h-164z" fill="url(#g242)"/><path d="M66 449h164v2.05h-164z" fill="url(#g243)"/><path d="M66 451h164v2.05h-164z" fill="url(#g244)"/><path d="M66 453h164v2.05h-164z" fill="url(#g245)"/><path d="M66 455h164v2.05h-164z" fill="url(#g246)"/><path d="M66 457h164v2.05h-164z" fill="url(#g247)"/><path d="M66 459h164v1.05h-164z" fill="url(#g248)"/><path d="M66 460h164v1.05h-164z" fill="url(#g249)"/><path d="M66 461h164v1.05h-164z" fill="url(#g250)"/><path d="M66 462h164v1.05h-164z" fill="url(#g251)"/><path d="M66 463h164v1.05h-164z" fill="url(#g252)"/><path d="M66 464h164v1.05h-164z" fill="url(#g253)"/><path d="M66 465h164v1.05h-164z" fill="url(#g254)"/><path d="M66 466h164v1.05h-164z" fill="url(#g255)"/><path d="M66 467h164v1.05h-164z" fill="url(#g256)"/><path d="M66 468h164v1.05h-164z" fill="url(#g257)"/><path d="M66 469h164v1.05h-164z" fill="url(#g258)"/><path d="M66 470h164v1.05h-164z" fill="url(#g259)"/><path d="M66 471h164v1.05h-164z" fill="url(#g260)"/><path d="M66 472h164v1.05h-164z" fill="url(#g261)"/><path d="M66 473h164v1.05h-164z" fill="url(#g262)"/><path d="M66 474h164v1.05h-164z" fill="url(#g263)"/><path d="M66 475h164v1.05h-164z" fill="url(#g264)"/><path d="M66 476h164v1.05h-164z" fill="url(#g265)"/><path d="M66 477h164v1.05h-164z" fill="url(#g266)"/><path d="M66 478h164v1.05h-164z" fill="url(#g267)"/><path d="M66 479h164v1.05h-164z" fill="url(#g268)"/><path d="M66 480h164v1.05h-164z" fill="url(#g269)"/><path d="M66 481h164v1.05h-164z" fill="url(#g270)"/><path d="M66 482h164v1.05h-164z" fill="url(#g271)"/><path d="M66 483h164v1.05h-164z" fill="url(#g272)"/><path d="M66 484h164v1.05h-164z" fill="url(#g273)"/><path d="M66 485h164v1.05h-164z" fill="url(#g274)"/><path d="M66 486h164v1.05h-164z" fill="url(#g275)"/><path d="M66 487h164v1.05h-164z" fill="url(#g276)"/><path d="M66 488h164v1.05h-164z" fill="url(#g277)"/><path d="M66 489h164v1.05h-164z" fill="url(#g278)"/><path d="M66 490h164v1.05h-164z" fill="url(#g279)"/><path d="M66 491h164v1.05h-164z" fill="url(#g280)"/><path d="M66 492h164v1.05h-164z" fill="url(#g281)"/><path d="M66 493h164v1.05h-164z" fill="url(#g282)"/><path d="M66 494h164v1.05h-164z" fill="url(#g283)"/><path d="M66 495h164v1.05h-164z" fill="url(#g284)"/><path d="M66 496h164v1.05h-164z" fill="url(#g285)"/><path d="M66 497h164v1.05h-164z" fill="url(#g286)"/><path d="M66 498h164v1.05h-164z" fill="url(#g287)"/><path d="M66 499h164v1.05h-164z" fill="url(#g288)"/><path d="M66 500h164v1.05h-164z" fill="url(#g289)"/><path d="M66 501h164v1.05h-164z" fill="url(#g290)"/><path d="M66 502h164v1.05h-164z" fill="url(#g291)"/><path d="M66 503h164v1.05h-164z" fill="url(#g292)"/><path d="M66 504h164v1.05h-164z" fill="url(#g293)"/><path d="M66 505h164v1.05h-164z" fill="url(#g294)"/><path d="M66 506h164v1.05h-164z" fill="url(#g295)"/><path d="M66 507h164v1.05h-164z" fill="url(#g296)"/><path d="M66 508h164v1.05h-164z" fill="url(#g297)"/><path d="M66 509h164v1.05h-164z" fill="url(#g298)"/><path d="M66 510h164v1.05h-164z" fill="url(#g299)"/><path d="M66 511h164v1.05h-164z" fill="url(#g300)"/><path d="M66 512h164v1.05h-164z" fill="url(#g301)"/><path d="M66 513h164v1.05h-164z" fill="url(#g302)"/><path d="M66 514h164v1.05h-164z" fill="url(#g303)"/><path d="M66 515h164v1.05h-164z" fill="url(#g304)"/><path d="M66 516h164v1.05h-164z" fill="url(#g305)"/><path d="M66 517h164v1.05h-164z" fill="url(#g306)"/><path d="M66 518h164v1.05h-164z" fill="url(#g307)"/><path d="M66 519h164v1.05h-164z" fill="url(#g308)"/><path d="M66 520h164v1.05h-164z" fill="url(#g309)"/><path d="M66 521h164v1.05h-164z" fill="url(#g310)"/><path d="M66 522h164v1.05h-164z" fill="url(#g311)"/><path d="M66 523h164v1.05h-164z" fill="url(#g312)"/><path d="M66 524h164v1.05h-164z" fill="url(#g313)"/><path d="M66 525h164v1.05h-164z" fill="url(#g314)"/><path d="M66 526h164v1.05h-164z" fill="url(#g315)"/><path d="M66 527h164v1.05h-164z" fill="url(#g316)"/><path d="M66 528h164v1.05h-164z" fill="url(#g317)"/><path d="M66 529h164v1.05h-164z" fill="url(#g318)"/><path d="M66 530h164v1.05h-164z" fill="url(#g319)"/><path d="M66 531h164v1.05h-164z" fill="url(#g320)"/><path d="M66 532h164v1.05h-164z" fill="url(#g321)"/><path d="M66 533h164v1.05h-164z" fill="url(#g322)"/><path d="M66 534h164v1.05h-164z" fill="url(#g323)"/><path d="M66 535h164v1.05h-164z" fill="url(#g324)"/><path d="M66 536h164v1.05h-164z" fill="url(#g325)"/><path d="M66 537h164v1.05h-164z" fill="url(#g326)"/><path d="M66 538h164v1.05h-164z" fill="url(#g327)"/><path d="M66 539h164v1.05h-164z" fill="url(#g328)"/><path d="M66 540h164v1.05h-164z" fill="url(#g329)"/><path d="M66 541h164v1.05h-164z" fill="url(#g330)"/><path d="M66 542h164v1.05h-164z" fill="url(#g331)"/><path d="M66 543h164v1.05h-164z" fill="url(#g332)"/><path d="M66 544h164v1.05h-164z" fill="url(#g333)"/><path d="M66 545h164v1.05h-164z" fill="url(#g334)"/><path d="M66 546h164v1.05h-164z" fill="url(#g335)"/><path d="M66 547h164v1.05h-164z" fill="url(#g336)"/><path d="M66 548h164v1.05h-164z" fill="url(#g337)"/><path d="M66 549h164v1.05h-164z" fill="url(#g338)"/><path d="M66 550h164v1.05h-164z" fill="url(#g339)"/><path d="M66 551h164v1.05h-164z" fill="url(#g340)"/><path d="M66 552h164v1.05h-164z" fill="url(#g341)"/><path d="M66 553h164v1.05h-164z" fill="url(#g342)"/><path d="M66 554h164v1.05h-164z" fill="url(#g343)"/><path d="M66 555h164v1.05h-164z" fill="url(#g344)"/><path d="M66 556h164v1.05h-164z" fill="url(#g345)"/><path d="M66 557h164v1.05h-164z" fill="url(#g346)"/><path d="M66 558h164v1.05h-164z" fill="url(#g347)"/><path d="M66 559h164v1.05h-164z" fill="url(#g348)"/><path d="M66 560h164v1.05h-164z" fill="url(#g349)"/><path d="M66 561h164v1.05h-164z" fill="url(#g350)"/><path d="M66 562h164v1.05h-164z" fill="url(#g351)"/><path d="M66 563h164v1.05h-164z" fill="url(#g352)"/><path d="M66 564h164v1.05h-164z" fill="url(#g353)"/><path d="M66 565h164v1.05h-164z" fill="url(#g354)"/><path d="M66 566h164v1.05h-164z" fill="url(#g355)"/><path d="M66 567h164v1.05h-164z" fill="url(#g356)"/><path d="M66 568h164v1.05h-164z" fill="url(#g357)"/><path d="M66 569h164v1.05h-164z" fill="url(#g358)"/><path d="M66 570h164v1.05h-164z" fill="url(#g359)"/><path d="M66 571h164v1.05h-164z" fill="url(#g360)"/><path d="M66 572h164v1.05h-164z" fill="url(#g361)"/><path d="M66 573h164v1.05h-164z" fill="url(#g362)"/><path d="M66 574h164v1.05h-164z" fill="url(#g363)"/><path d="M66 575h164v1.05h-164z" fill="url(#g364)"/><path d="M66 576h164v1.05h-164z" fill="url(#g365)"/><path d="M66 577h164v1.05h-164z" fill="url(#g366)"/><path d="M66 578h164v1.05h-164z" fill="url(#g367)"/><path d="M66 579h164v1.05h-164z" fill="url(#g368)"/><path d="M66 580h164v1.05h-164z" fill="url(#g369)"/><path d="M66 581h164v1.05h-164z" fill="url(#g370)"/><path d="M66 582h164v1.05h-164z" fill="url(#g371)"/><path d="M66 583h164v1.05h-164z" fill="url(#g372)"/><path d="M66 584h164v1.05h-164z" fill="url(#g373)"/><path d="M66 585h164v5.05h-164z" fill="url(#g374)"/></g>
<ellipse cx="148.9" cy="407.0" rx="19.2" ry="18.0" fill="#fff" stroke="#3b4fe0" stroke-width=".9"/>
<ellipse cx="148.9" cy="585.2" rx="18.1" ry="15.3" fill="#fff" stroke="#1c1c88" stroke-width="1"/></g>
<path d="M129.7 407.0h38.4M130.8 585.2h36.2" stroke="#c6c6c6" stroke-width="1.3" fill="none"/>
<g clip-path="url(#cb2)"><g filter="url(#jetB)"><path d="M237 401h154v6.05h-154z" fill="url(#g375)"/><path d="M237 407h154v2.05h-154z" fill="url(#g376)"/><path d="M237 409h154v2.05h-154z" fill="url(#g377)"/><path d="M237 411h154v2.05h-154z" fill="url(#g378)"/><path d="M237 413h154v1.05h-154z" fill="url(#g379)"/><path d="M237 414h154v1.05h-154z" fill="url(#g380)"/><path d="M237 415h154v1.05h-154z" fill="url(#g381)"/><path d="M237 416h154v1.05h-154z" fill="url(#g382)"/><path d="M237 417h154v1.05h-154z" fill="url(#g383)"/><path d="M237 418h154v1.05h-154z" fill="url(#g384)"/><path d="M237 419h154v1.05h-154z" fill="url(#g385)"/><path d="M237 420h154v1.05h-154z" fill="url(#g386)"/><path d="M237 421h154v1.05h-154z" fill="url(#g387)"/><path d="M237 422h154v1.05h-154z" fill="url(#g388)"/><path d="M237 423h154v1.05h-154z" fill="url(#g389)"/><path d="M237 424h154v1.05h-154z" fill="url(#g390)"/><path d="M237 425h154v1.05h-154z" fill="url(#g391)"/><path d="M237 426h154v1.05h-154z" fill="url(#g392)"/><path d="M237 427h154v1.05h-154z" fill="url(#g393)"/><path d="M237 428h154v2.05h-154z" fill="url(#g394)"/><path d="M237 430h154v2.05h-154z" fill="url(#g395)"/><path d="M237 432h154v2.05h-154z" fill="url(#g396)"/><path d="M237 434h154v2.05h-154z" fill="url(#g397)"/><path d="M237 436h154v2.05h-154z" fill="url(#g398)"/><path d="M237 438h154v2.05h-154z" fill="url(#g399)"/><path d="M237 440h154v2.05h-154z" fill="url(#g400)"/><path d="M237 442h154v2.05h-154z" fill="url(#g401)"/><path d="M237 444h154v2.05h-154z" fill="url(#g402)"/><path d="M237 446h154v2.05h-154z" fill="url(#g403)"/><path d="M237 448h154v2.05h-154z" fill="url(#g404)"/><path d="M237 450h154v1.05h-154z" fill="url(#g405)"/><path d="M237 451h154v1.05h-154z" fill="url(#g406)"/><path d="M237 452h154v1.05h-154z" fill="url(#g407)"/><path d="M237 453h154v1.05h-154z" fill="url(#g408)"/><path d="M237 454h154v1.05h-154z" fill="url(#g409)"/><path d="M237 455h154v1.05h-154z" fill="url(#g410)"/><path d="M237 456h154v1.05h-154z" fill="url(#g411)"/><path d="M237 457h154v1.05h-154z" fill="url(#g412)"/><path d="M237 458h154v1.05h-154z" fill="url(#g413)"/><path d="M237 459h154v1.05h-154z" fill="url(#g414)"/><path d="M237 460h154v1.05h-154z" fill="url(#g415)"/><path d="M237 461h154v1.05h-154z" fill="url(#g416)"/><path d="M237 462h154v1.05h-154z" fill="url(#g417)"/><path d="M237 463h154v1.05h-154z" fill="url(#g418)"/><path d="M237 464h154v1.05h-154z" fill="url(#g419)"/><path d="M237 465h154v1.05h-154z" fill="url(#g420)"/><path d="M237 466h154v1.05h-154z" fill="url(#g421)"/><path d="M237 467h154v1.05h-154z" fill="url(#g422)"/><path d="M237 468h154v1.05h-154z" fill="url(#g423)"/><path d="M237 469h154v1.05h-154z" fill="url(#g424)"/><path d="M237 470h154v1.05h-154z" fill="url(#g425)"/><path d="M237 471h154v1.05h-154z" fill="url(#g426)"/><path d="M237 472h154v1.05h-154z" fill="url(#g427)"/><path d="M237 473h154v1.05h-154z" fill="url(#g428)"/><path d="M237 474h154v1.05h-154z" fill="url(#g429)"/><path d="M237 475h154v1.05h-154z" fill="url(#g430)"/><path d="M237 476h154v1.05h-154z" fill="url(#g431)"/><path d="M237 477h154v1.05h-154z" fill="url(#g432)"/><path d="M237 478h154v1.05h-154z" fill="url(#g433)"/><path d="M237 479h154v1.05h-154z" fill="url(#g434)"/><path d="M237 480h154v1.05h-154z" fill="url(#g435)"/><path d="M237 481h154v1.05h-154z" fill="url(#g436)"/><path d="M237 482h154v1.05h-154z" fill="url(#g437)"/><path d="M237 483h154v1.05h-154z" fill="url(#g438)"/><path d="M237 484h154v1.05h-154z" fill="url(#g439)"/><path d="M237 485h154v1.05h-154z" fill="url(#g440)"/><path d="M237 486h154v1.05h-154z" fill="url(#g441)"/><path d="M237 487h154v1.05h-154z" fill="url(#g442)"/><path d="M237 488h154v1.05h-154z" fill="url(#g443)"/><path d="M237 489h154v1.05h-154z" fill="url(#g444)"/><path d="M237 490h154v1.05h-154z" fill="url(#g445)"/><path d="M237 491h154v1.05h-154z" fill="url(#g446)"/><path d="M237 492h154v1.05h-154z" fill="url(#g447)"/><path d="M237 493h154v1.05h-154z" fill="url(#g448)"/><path d="M237 494h154v1.05h-154z" fill="url(#g449)"/><path d="M237 495h154v1.05h-154z" fill="url(#g450)"/><path d="M237 496h154v1.05h-154z" fill="url(#g451)"/><path d="M237 497h154v1.05h-154z" fill="url(#g452)"/><path d="M237 498h154v1.05h-154z" fill="url(#g453)"/><path d="M237 499h154v1.05h-154z" fill="url(#g454)"/><path d="M237 500h154v1.05h-154z" fill="url(#g455)"/><path d="M237 501h154v1.05h-154z" fill="url(#g456)"/><path d="M237 502h154v1.05h-154z" fill="url(#g457)"/><path d="M237 503h154v1.05h-154z" fill="url(#g458)"/><path d="M237 504h154v1.05h-154z" fill="url(#g459)"/><path d="M237 505h154v1.05h-154z" fill="url(#g460)"/><path d="M237 506h154v1.05h-154z" fill="url(#g461)"/><path d="M237 507h154v1.05h-154z" fill="url(#g462)"/><path d="M237 508h154v1.05h-154z" fill="url(#g463)"/><path d="M237 509h154v1.05h-154z" fill="url(#g464)"/><path d="M237 510h154v1.05h-154z" fill="url(#g465)"/><path d="M237 511h154v1.05h-154z" fill="url(#g466)"/><path d="M237 512h154v1.05h-154z" fill="url(#g467)"/><path d="M237 513h154v1.05h-154z" fill="url(#g468)"/><path d="M237 514h154v1.05h-154z" fill="url(#g469)"/><path d="M237 515h154v1.05h-154z" fill="url(#g470)"/><path d="M237 516h154v1.05h-154z" fill="url(#g471)"/><path d="M237 517h154v1.05h-154z" fill="url(#g472)"/><path d="M237 518h154v1.05h-154z" fill="url(#g473)"/><path d="M237 519h154v1.05h-154z" fill="url(#g474)"/><path d="M237 520h154v1.05h-154z" fill="url(#g475)"/><path d="M237 521h154v1.05h-154z" fill="url(#g476)"/><path d="M237 522h154v1.05h-154z" fill="url(#g477)"/><path d="M237 523h154v1.05h-154z" fill="url(#g478)"/><path d="M237 524h154v1.05h-154z" fill="url(#g479)"/><path d="M237 525h154v1.05h-154z" fill="url(#g480)"/><path d="M237 526h154v1.05h-154z" fill="url(#g481)"/><path d="M237 527h154v1.05h-154z" fill="url(#g482)"/><path d="M237 528h154v1.05h-154z" fill="url(#g483)"/><path d="M237 529h154v1.05h-154z" fill="url(#g484)"/><path d="M237 530h154v1.05h-154z" fill="url(#g485)"/><path d="M237 531h154v1.05h-154z" fill="url(#g486)"/><path d="M237 532h154v1.05h-154z" fill="url(#g487)"/><path d="M237 533h154v1.05h-154z" fill="url(#g488)"/><path d="M237 534h154v1.05h-154z" fill="url(#g489)"/><path d="M237 535h154v1.05h-154z" fill="url(#g490)"/><path d="M237 536h154v1.05h-154z" fill="url(#g491)"/><path d="M237 537h154v1.05h-154z" fill="url(#g492)"/><path d="M237 538h154v1.05h-154z" fill="url(#g493)"/><path d="M237 539h154v1.05h-154z" fill="url(#g494)"/><path d="M237 540h154v1.05h-154z" fill="url(#g495)"/><path d="M237 541h154v1.05h-154z" fill="url(#g496)"/><path d="M237 542h154v1.05h-154z" fill="url(#g497)"/><path d="M237 543h154v1.05h-154z" fill="url(#g498)"/><path d="M237 544h154v1.05h-154z" fill="url(#g499)"/><path d="M237 545h154v1.05h-154z" fill="url(#g500)"/><path d="M237 546h154v1.05h-154z" fill="url(#g501)"/><path d="M237 547h154v1.05h-154z" fill="url(#g502)"/><path d="M237 548h154v1.05h-154z" fill="url(#g503)"/><path d="M237 549h154v1.05h-154z" fill="url(#g504)"/><path d="M237 550h154v1.05h-154z" fill="url(#g505)"/><path d="M237 551h154v1.05h-154z" fill="url(#g506)"/><path d="M237 552h154v1.05h-154z" fill="url(#g507)"/><path d="M237 553h154v1.05h-154z" fill="url(#g508)"/><path d="M237 554h154v1.05h-154z" fill="url(#g509)"/><path d="M237 555h154v1.05h-154z" fill="url(#g510)"/><path d="M237 556h154v1.05h-154z" fill="url(#g511)"/><path d="M237 557h154v1.05h-154z" fill="url(#g512)"/><path d="M237 558h154v1.05h-154z" fill="url(#g513)"/><path d="M237 559h154v1.05h-154z" fill="url(#g514)"/><path d="M237 560h154v1.05h-154z" fill="url(#g515)"/><path d="M237 561h154v1.05h-154z" fill="url(#g516)"/><path d="M237 562h154v1.05h-154z" fill="url(#g517)"/><path d="M237 563h154v1.05h-154z" fill="url(#g518)"/><path d="M237 564h154v1.05h-154z" fill="url(#g519)"/><path d="M237 565h154v1.05h-154z" fill="url(#g520)"/><path d="M237 566h154v1.05h-154z" fill="url(#g521)"/><path d="M237 567h154v1.05h-154z" fill="url(#g522)"/><path d="M237 568h154v1.05h-154z" fill="url(#g523)"/><path d="M237 569h154v1.05h-154z" fill="url(#g524)"/><path d="M237 570h154v1.05h-154z" fill="url(#g525)"/><path d="M237 571h154v1.05h-154z" fill="url(#g526)"/><path d="M237 572h154v1.05h-154z" fill="url(#g527)"/><path d="M237 573h154v1.05h-154z" fill="url(#g528)"/><path d="M237 574h154v1.05h-154z" fill="url(#g529)"/><path d="M237 575h154v1.05h-154z" fill="url(#g530)"/><path d="M237 576h154v1.05h-154z" fill="url(#g531)"/><path d="M237 577h154v1.05h-154z" fill="url(#g532)"/><path d="M237 578h154v1.05h-154z" fill="url(#g533)"/><path d="M237 579h154v1.05h-154z" fill="url(#g534)"/><path d="M237 580h154v1.05h-154z" fill="url(#g535)"/><path d="M237 581h154v1.05h-154z" fill="url(#g536)"/><path d="M237 582h154v10.05h-154z" fill="url(#g537)"/></g>
<ellipse cx="311.5" cy="405.4" rx="19.5" ry="16.1" fill="#fff" stroke="#3b4fe0" stroke-width=".9"/>
<ellipse cx="311.5" cy="587.4" rx="19.1" ry="18.5" fill="#fff" stroke="#1c1c88" stroke-width="1"/></g>
<path d="M292.0 405.4h39.0M292.4 587.4h38.2" stroke="#c6c6c6" stroke-width="1.3" fill="none"/>
<g clip-path="url(#cb3)"><g filter="url(#jetB)"><path d="M397 400h160v6.05h-160z" fill="url(#g538)"/><path d="M397 406h160v2.05h-160z" fill="url(#g539)"/><path d="M397 408h160v2.05h-160z" fill="url(#g540)"/><path d="M397 410h160v2.05h-160z" fill="url(#g541)"/><path d="M397 412h160v2.05h-160z" fill="url(#g542)"/><path d="M397 414h160v1.05h-160z" fill="url(#g543)"/><path d="M397 415h160v1.05h-160z" fill="url(#g544)"/><path d="M397 416h160v1.05h-160z" fill="url(#g545)"/><path d="M397 417h160v1.05h-160z" fill="url(#g546)"/><path d="M397 418h160v1.05h-160z" fill="url(#g547)"/><path d="M397 419h160v1.05h-160z" fill="url(#g548)"/><path d="M397 420h160v1.05h-160z" fill="url(#g549)"/><path d="M397 421h160v1.05h-160z" fill="url(#g550)"/><path d="M397 422h160v1.05h-160z" fill="url(#g551)"/><path d="M397 423h160v1.05h-160z" fill="url(#g552)"/><path d="M397 424h160v1.05h-160z" fill="url(#g553)"/><path d="M397 425h160v1.05h-160z" fill="url(#g554)"/><path d="M397 426h160v1.05h-160z" fill="url(#g555)"/><path d="M397 427h160v2.05h-160z" fill="url(#g556)"/><path d="M397 429h160v2.05h-160z" fill="url(#g557)"/><path d="M397 431h160v2.05h-160z" fill="url(#g558)"/><path d="M397 433h160v2.05h-160z" fill="url(#g559)"/><path d="M397 435h160v2.05h-160z" fill="url(#g560)"/><path d="M397 437h160v2.05h-160z" fill="url(#g561)"/><path d="M397 439h160v2.05h-160z" fill="url(#g562)"/><path d="M397 441h160v2.05h-160z" fill="url(#g563)"/><path d="M397 443h160v2.05h-160z" fill="url(#g564)"/><path d="M397 445h160v2.05h-160z" fill="url(#g565)"/><path d="M397 447h160v2.05h-160z" fill="url(#g566)"/><path d="M397 449h160v2.05h-160z" fill="url(#g567)"/><path d="M397 451h160v2.05h-160z" fill="url(#g568)"/><path d="M397 453h160v2.05h-160z" fill="url(#g569)"/><path d="M397 455h160v1.05h-160z" fill="url(#g570)"/><path d="M397 456h160v1.05h-160z" fill="url(#g571)"/><path d="M397 457h160v1.05h-160z" fill="url(#g572)"/><path d="M397 458h160v1.05h-160z" fill="url(#g573)"/><path d="M397 459h160v1.05h-160z" fill="url(#g574)"/><path d="M397 460h160v1.05h-160z" fill="url(#g575)"/><path d="M397 461h160v1.05h-160z" fill="url(#g576)"/><path d="M397 462h160v1.05h-160z" fill="url(#g577)"/><path d="M397 463h160v1.05h-160z" fill="url(#g578)"/><path d="M397 464h160v1.05h-160z" fill="url(#g579)"/><path d="M397 465h160v1.05h-160z" fill="url(#g580)"/><path d="M397 466h160v1.05h-160z" fill="url(#g581)"/><path d="M397 467h160v1.05h-160z" fill="url(#g582)"/><path d="M397 468h160v1.05h-160z" fill="url(#g583)"/><path d="M397 469h160v1.05h-160z" fill="url(#g584)"/><path d="M397 470h160v1.05h-160z" fill="url(#g585)"/><path d="M397 471h160v1.05h-160z" fill="url(#g586)"/><path d="M397 472h160v1.05h-160z" fill="url(#g587)"/><path d="M397 473h160v1.05h-160z" fill="url(#g588)"/><path d="M397 474h160v1.05h-160z" fill="url(#g589)"/><path d="M397 475h160v1.05h-160z" fill="url(#g590)"/><path d="M397 476h160v1.05h-160z" fill="url(#g591)"/><path d="M397 477h160v1.05h-160z" fill="url(#g592)"/><path d="M397 478h160v1.05h-160z" fill="url(#g593)"/><path d="M397 479h160v1.05h-160z" fill="url(#g594)"/><path d="M397 480h160v1.05h-160z" fill="url(#g595)"/><path d="M397 481h160v1.05h-160z" fill="url(#g596)"/><path d="M397 482h160v1.05h-160z" fill="url(#g597)"/><path d="M397 483h160v1.05h-160z" fill="url(#g598)"/><path d="M397 484h160v1.05h-160z" fill="url(#g599)"/><path d="M397 485h160v1.05h-160z" fill="url(#g600)"/><path d="M397 486h160v1.05h-160z" fill="url(#g601)"/><path d="M397 487h160v1.05h-160z" fill="url(#g602)"/><path d="M397 488h160v1.05h-160z" fill="url(#g603)"/><path d="M397 489h160v1.05h-160z" fill="url(#g604)"/><path d="M397 490h160v1.05h-160z" fill="url(#g605)"/><path d="M397 491h160v1.05h-160z" fill="url(#g606)"/><path d="M397 492h160v1.05h-160z" fill="url(#g607)"/><path d="M397 493h160v1.05h-160z" fill="url(#g608)"/><path d="M397 494h160v1.05h-160z" fill="url(#g609)"/><path d="M397 495h160v1.05h-160z" fill="url(#g610)"/><path d="M397 496h160v1.05h-160z" fill="url(#g611)"/><path d="M397 497h160v1.05h-160z" fill="url(#g612)"/><path d="M397 498h160v1.05h-160z" fill="url(#g613)"/><path d="M397 499h160v1.05h-160z" fill="url(#g614)"/><path d="M397 500h160v1.05h-160z" fill="url(#g615)"/><path d="M397 501h160v1.05h-160z" fill="url(#g616)"/><path d="M397 502h160v1.05h-160z" fill="url(#g617)"/><path d="M397 503h160v1.05h-160z" fill="url(#g618)"/><path d="M397 504h160v1.05h-160z" fill="url(#g619)"/><path d="M397 505h160v1.05h-160z" fill="url(#g620)"/><path d="M397 506h160v1.05h-160z" fill="url(#g621)"/><path d="M397 507h160v1.05h-160z" fill="url(#g622)"/><path d="M397 508h160v1.05h-160z" fill="url(#g623)"/><path d="M397 509h160v1.05h-160z" fill="url(#g624)"/><path d="M397 510h160v1.05h-160z" fill="url(#g625)"/><path d="M397 511h160v1.05h-160z" fill="url(#g626)"/><path d="M397 512h160v1.05h-160z" fill="url(#g627)"/><path d="M397 513h160v1.05h-160z" fill="url(#g628)"/><path d="M397 514h160v1.05h-160z" fill="url(#g629)"/><path d="M397 515h160v1.05h-160z" fill="url(#g630)"/><path d="M397 516h160v1.05h-160z" fill="url(#g631)"/><path d="M397 517h160v1.05h-160z" fill="url(#g632)"/><path d="M397 518h160v1.05h-160z" fill="url(#g633)"/><path d="M397 519h160v1.05h-160z" fill="url(#g634)"/><path d="M397 520h160v1.05h-160z" fill="url(#g635)"/><path d="M397 521h160v1.05h-160z" fill="url(#g636)"/><path d="M397 522h160v1.05h-160z" fill="url(#g637)"/><path d="M397 523h160v1.05h-160z" fill="url(#g638)"/><path d="M397 524h160v1.05h-160z" fill="url(#g639)"/><path d="M397 525h160v1.05h-160z" fill="url(#g640)"/><path d="M397 526h160v1.05h-160z" fill="url(#g641)"/><path d="M397 527h160v1.05h-160z" fill="url(#g642)"/><path d="M397 528h160v1.05h-160z" fill="url(#g643)"/><path d="M397 529h160v1.05h-160z" fill="url(#g644)"/><path d="M397 530h160v1.05h-160z" fill="url(#g645)"/><path d="M397 531h160v1.05h-160z" fill="url(#g646)"/><path d="M397 532h160v1.05h-160z" fill="url(#g647)"/><path d="M397 533h160v1.05h-160z" fill="url(#g648)"/><path d="M397 534h160v1.05h-160z" fill="url(#g649)"/><path d="M397 535h160v1.05h-160z" fill="url(#g650)"/><path d="M397 536h160v1.05h-160z" fill="url(#g651)"/><path d="M397 537h160v1.05h-160z" fill="url(#g652)"/><path d="M397 538h160v1.05h-160z" fill="url(#g653)"/><path d="M397 539h160v1.05h-160z" fill="url(#g654)"/><path d="M397 540h160v1.05h-160z" fill="url(#g655)"/><path d="M397 541h160v1.05h-160z" fill="url(#g656)"/><path d="M397 542h160v1.05h-160z" fill="url(#g657)"/><path d="M397 543h160v1.05h-160z" fill="url(#g658)"/><path d="M397 544h160v1.05h-160z" fill="url(#g659)"/><path d="M397 545h160v1.05h-160z" fill="url(#g660)"/><path d="M397 546h160v1.05h-160z" fill="url(#g661)"/><path d="M397 547h160v1.05h-160z" fill="url(#g662)"/><path d="M397 548h160v1.05h-160z" fill="url(#g663)"/><path d="M397 549h160v1.05h-160z" fill="url(#g664)"/><path d="M397 550h160v1.05h-160z" fill="url(#g665)"/><path d="M397 551h160v1.05h-160z" fill="url(#g666)"/><path d="M397 552h160v1.05h-160z" fill="url(#g667)"/><path d="M397 553h160v1.05h-160z" fill="url(#g668)"/><path d="M397 554h160v1.05h-160z" fill="url(#g669)"/><path d="M397 555h160v1.05h-160z" fill="url(#g670)"/><path d="M397 556h160v1.05h-160z" fill="url(#g671)"/><path d="M397 557h160v1.05h-160z" fill="url(#g672)"/><path d="M397 558h160v1.05h-160z" fill="url(#g673)"/><path d="M397 559h160v1.05h-160z" fill="url(#g674)"/><path d="M397 560h160v1.05h-160z" fill="url(#g675)"/><path d="M397 561h160v1.05h-160z" fill="url(#g676)"/><path d="M397 562h160v1.05h-160z" fill="url(#g677)"/><path d="M397 563h160v1.05h-160z" fill="url(#g678)"/><path d="M397 564h160v1.05h-160z" fill="url(#g679)"/><path d="M397 565h160v1.05h-160z" fill="url(#g680)"/><path d="M397 566h160v1.05h-160z" fill="url(#g681)"/><path d="M397 567h160v1.05h-160z" fill="url(#g682)"/><path d="M397 568h160v1.05h-160z" fill="url(#g683)"/><path d="M397 569h160v1.05h-160z" fill="url(#g684)"/><path d="M397 570h160v1.05h-160z" fill="url(#g685)"/><path d="M397 571h160v1.05h-160z" fill="url(#g686)"/><path d="M397 572h160v1.05h-160z" fill="url(#g687)"/><path d="M397 573h160v1.05h-160z" fill="url(#g688)"/><path d="M397 574h160v1.05h-160z" fill="url(#g689)"/><path d="M397 575h160v1.05h-160z" fill="url(#g690)"/><path d="M397 576h160v1.05h-160z" fill="url(#g691)"/><path d="M397 577h160v1.05h-160z" fill="url(#g692)"/><path d="M397 578h160v1.05h-160z" fill="url(#g693)"/><path d="M397 579h160v1.05h-160z" fill="url(#g694)"/><path d="M397 580h160v1.05h-160z" fill="url(#g695)"/><path d="M397 581h160v1.05h-160z" fill="url(#g696)"/><path d="M397 582h160v9.05h-160z" fill="url(#g697)"/></g>
<ellipse cx="474.8" cy="404.6" rx="18.8" ry="16.2" fill="#fff" stroke="#3b4fe0" stroke-width=".9"/>
<ellipse cx="474.8" cy="587.0" rx="18.7" ry="18.5" fill="#fff" stroke="#1c1c88" stroke-width="1"/></g>
<path d="M456.0 404.6h37.6M456.1 587.0h37.4" stroke="#c6c6c6" stroke-width="1.3" fill="none"/>
<g filter="url(#cbA)"><rect x="526.6" y="40.5" width="9" height="215" fill="url(#cb)"/></g><g filter="url(#cbB)"><rect x="563.3" y="405.5" width="7.6" height="176.5" fill="url(#cb)"/></g>
<rect x="526.6" y="40.5" width="9" height="215" fill="none" stroke="#000" stroke-opacity=".45" stroke-width=".6"/><rect x="563.3" y="405.5" width="7.6" height="176.5" fill="none" stroke="#000" stroke-opacity=".45" stroke-width=".6"/>
<text x="20" y="28.2" font-size="25" text-anchor="start">a)</text>
<text x="122.6" y="29.3" font-size="25" text-anchor="start">1 ms<tspan dy="-8.2" font-size="16.8">-1</tspan></text>
<text x="259.7" y="28.3" font-size="25" text-anchor="start">2 ms<tspan dy="-8.2" font-size="16.8">-1</tspan></text>
<text x="407.9" y="28.3" font-size="25" text-anchor="start">4 ms<tspan dy="-8.2" font-size="16.8">-1</tspan></text>
<text x="57.5" y="47.3" font-size="25" text-anchor="start">2</text>
<text x="38.5" y="97.2" font-size="25" text-anchor="start">1.5</text>
<text x="56" y="155" font-size="25" text-anchor="start">1</text>
<text x="40.5" y="212.4" font-size="25" text-anchor="start">0.5</text>
<text x="61" y="263.2" font-size="25" text-anchor="start">0</text>
<text x="30.1" y="182" font-size="25" text-anchor="start" transform="rotate(-90 30.1 182)">z [cm]</text>
<text x="85.5" y="281.4" font-size="25" text-anchor="start">0.5</text>
<text x="187.6" y="281.4" font-size="25" text-anchor="start">0.5</text>
<text x="230.6" y="281.4" font-size="25" text-anchor="start">0.5</text>
<text x="332.8" y="281.4" font-size="25" text-anchor="start">0.5</text>
<text x="378.4" y="281.4" font-size="25" text-anchor="start">0.5</text>
<text x="480.5" y="281.4" font-size="25" text-anchor="start">0.5</text>
<text x="147.2" y="282.4" font-size="25" text-anchor="start">0</text>
<text x="293" y="282.4" font-size="25" text-anchor="start">0</text>
<text x="440.2" y="282.4" font-size="25" text-anchor="start">0</text>
<text x="121.7" y="316.5" font-size="25" text-anchor="start">r [cm]</text>
<text x="267.4" y="316.5" font-size="25" text-anchor="start">r [cm]</text>
<text x="414.5" y="316.5" font-size="25" text-anchor="start">r [cm]</text>
<text x="518" y="30.2" font-size="20" text-anchor="start">n<tspan dy="5" font-size="13.5">e</tspan><tspan dy="-5" font-size="20"> [m</tspan><tspan dy="-4.8" font-size="13.5">-3</tspan><tspan dy="4.8" font-size="20">]</tspan></text>
<text x="542.4" y="71.39999999999999" font-size="25" text-anchor="start">10<tspan dy="-8.1" font-size="17.3">21</tspan></text>
<text x="542.4" y="112.39999999999999" font-size="25" text-anchor="start">10<tspan dy="-8.1" font-size="17.3">19</tspan></text>
<text x="542.4" y="155.3" font-size="25" text-anchor="start">10<tspan dy="-8.1" font-size="17.3">17</tspan></text>
<text x="542.4" y="199.10000000000002" font-size="25" text-anchor="start">10<tspan dy="-8.1" font-size="17.3">15</tspan></text>
<text x="542.4" y="241.8" font-size="25" text-anchor="start">10<tspan dy="-8.1" font-size="17.3">13</tspan></text>
<text x="15.4" y="395.3" font-size="20" text-anchor="start">b)</text>
<text x="113.2" y="398.6" font-size="21" text-anchor="start">1 ms<tspan dy="-6.8" font-size="14">-1</tspan></text>
<text x="283.4" y="396.1" font-size="21" text-anchor="start">2 ms<tspan dy="-6.8" font-size="14">-1</tspan></text>
<text x="443.6" y="395.3" font-size="21" text-anchor="start">4 ms<tspan dy="-6.8" font-size="14">-1</tspan></text>
<text x="46.7" y="412.8" font-size="20.5" text-anchor="start">2</text>
<text x="31.3" y="455" font-size="20.5" text-anchor="start">1.5</text>
<text x="46" y="501.7" font-size="20.5" text-anchor="start">1</text>
<text x="32.6" y="548.6" font-size="20.5" text-anchor="start">0.5</text>
<text x="49.2" y="590" font-size="20.5" text-anchor="start">0</text>
<text x="24.4" y="524.5" font-size="20.5" text-anchor="start" transform="rotate(-90 24.4 524.5)">z [cm]</text>
<text x="90.9" y="608.2" font-size="20.5" text-anchor="start">0.5</text>
<text x="176.2" y="608.2" font-size="20.5" text-anchor="start">0.5</text>
<text x="250.3" y="611.5" font-size="20.5" text-anchor="start">0.5</text>
<text x="334.5" y="611.5" font-size="20.5" text-anchor="start">0.5</text>
<text x="419" y="610.5" font-size="20.5" text-anchor="start">0.5</text>
<text x="502.7" y="610.5" font-size="20.5" text-anchor="start">0.5</text>
<text x="143.1" y="609.5" font-size="20.5" text-anchor="start">0</text>
<text x="301.2" y="612.8" font-size="20.5" text-anchor="start">0</text>
<text x="469.3" y="612.1" font-size="20.5" text-anchor="start">0</text>
<text x="121.4" y="638.7" font-size="21" text-anchor="start">r [cm]</text>
<text x="280.4" y="640.7" font-size="21" text-anchor="start">r [cm]</text>
<text x="448.8" y="640.7" font-size="21" text-anchor="start">r [cm]</text>
<text x="535.6" y="367" font-size="21" text-anchor="start">T<tspan dy="4.5" font-size="14">g</tspan><tspan dy="-4.5" font-size="21"> [K]</tspan></text>
<text x="555.2" y="395.0" font-size="21" text-anchor="start">×10<tspan dy="-5.6" font-size="14.5">2</tspan></text>
<text x="577.8" y="451.2" font-size="20.5" text-anchor="start">20</text>
<text x="577" y="503.1" font-size="20.5" text-anchor="start">10</text>
<text x="578" y="553.6" font-size="20.5" text-anchor="start">5</text>
</svg>
</body></html>
